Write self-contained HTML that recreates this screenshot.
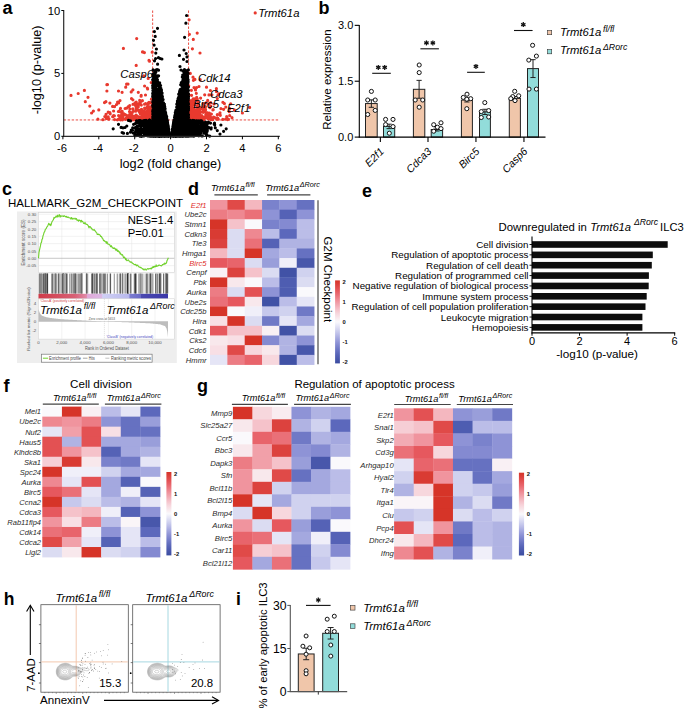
<!DOCTYPE html><html><head><meta charset="utf-8"><style>html,body{margin:0;padding:0;background:#fff;}svg{display:block;} text{font-family:"Liberation Sans",sans-serif;}</style></head><body><svg width="685" height="712" viewBox="0 0 685 712" font-family="Liberation Sans, sans-serif"><defs><linearGradient id="cbgrad" x1="0" y1="0" x2="0" y2="1"><stop offset="0.000" stop-color="#d63428"/><stop offset="0.050" stop-color="#dc423e"/><stop offset="0.100" stop-color="#e35153"/><stop offset="0.150" stop-color="#e8646b"/><stop offset="0.200" stop-color="#ec7c84"/><stop offset="0.250" stop-color="#f0949e"/><stop offset="0.300" stop-color="#f2abb4"/><stop offset="0.350" stop-color="#f5c2ca"/><stop offset="0.400" stop-color="#f7d7dd"/><stop offset="0.450" stop-color="#f8e8ec"/><stop offset="0.500" stop-color="#faf9fc"/><stop offset="0.550" stop-color="#e5e5f6"/><stop offset="0.600" stop-color="#d0d2ef"/><stop offset="0.650" stop-color="#bbbde8"/><stop offset="0.700" stop-color="#a4a8df"/><stop offset="0.750" stop-color="#8e93d6"/><stop offset="0.800" stop-color="#7a82cc"/><stop offset="0.850" stop-color="#6671c1"/><stop offset="0.900" stop-color="#5562b6"/><stop offset="0.950" stop-color="#4857ab"/><stop offset="1.000" stop-color="#3a4ca0"/></linearGradient><linearGradient id="gseabar" x1="0" y1="0" x2="1" y2="0"><stop offset="0" stop-color="#cf3a48"/><stop offset="0.28" stop-color="#d86075"/><stop offset="0.37" stop-color="#e08aa8"/><stop offset="0.376" stop-color="#e0a8d8"/><stop offset="0.49" stop-color="#dcb8e4"/><stop offset="0.495" stop-color="#d0d0f4"/><stop offset="0.70" stop-color="#b8b8ec"/><stop offset="0.705" stop-color="#7c7cd0"/><stop offset="0.79" stop-color="#6a6ac8"/><stop offset="0.795" stop-color="#4a48b0"/><stop offset="1" stop-color="#3a36a8"/></linearGradient></defs><rect width="685" height="712" fill="#fff"/><g stroke="#e8392e" stroke-width="0.9" stroke-dasharray="2.4,1.6">
<line x1="152.65" y1="10.50" x2="152.65" y2="136.30" stroke="#e8392e" stroke-width="0.9"/>
<line x1="188.55" y1="10.50" x2="188.55" y2="136.30" stroke="#e8392e" stroke-width="0.9"/>
<line x1="63.70" y1="119.95" x2="279.50" y2="119.95" stroke="#e8392e" stroke-width="0.9"/>
</g>
<path d="M149.8 117.3h0M150.7 113.5h0M139.9 101.2h0M143.1 115.9h0M142.9 115.2h0M108.2 112.2h0M147.9 116.4h0M138.7 116.9h0M104.8 116.6h0M120.9 112.1h0M150.8 118.5h0M139.4 112.1h0M145.1 117.8h0M142.2 118.9h0M145.8 104.0h0M151.6 116.2h0M143.8 119.4h0M141.6 111.8h0M139.7 100.3h0M148.1 108.9h0M150.5 113.2h0M152.5 107.3h0M106.7 117.3h0M152.1 118.6h0M141.2 101.3h0M112.6 106.4h0M149.3 110.8h0M146.2 119.5h0M134.9 116.4h0M146.2 116.4h0M150.4 115.8h0M126.4 118.7h0M146.6 117.0h0M151.8 118.3h0M113.6 115.5h0M144.2 118.8h0M131.2 91.9h0M149.2 116.6h0M132.9 108.9h0M152.1 113.3h0M150.3 119.4h0M127.3 118.1h0M145.9 118.7h0M138.5 118.2h0M130.3 118.7h0M110.2 113.8h0M137.1 105.2h0M122.5 119.8h0M149.7 119.5h0M149.5 109.4h0M133.7 119.0h0M145.5 111.6h0M141.2 95.4h0M117.6 102.0h0M142.3 118.0h0M150.2 114.7h0M144.7 118.8h0M108.7 119.2h0M122.3 119.0h0M147.4 119.8h0M112.7 116.7h0M148.4 119.8h0M143.9 119.0h0M146.2 118.6h0M147.3 119.3h0M138.9 119.1h0M136.1 103.8h0M150.6 102.7h0M146.4 117.6h0M142.4 100.7h0M132.3 115.6h0M150.1 113.9h0M144.4 119.4h0M129.7 114.3h0M134.6 103.7h0M138.6 116.8h0M136.1 115.2h0M150.2 119.8h0M132.7 119.8h0M134.1 117.5h0M149.2 116.4h0M140.3 113.7h0M106.8 117.5h0M150.3 115.9h0M148.2 114.6h0M150.6 111.8h0M131.5 114.7h0M149.2 117.8h0M136.3 110.4h0M149.8 117.1h0M151.3 119.9h0M137.9 118.6h0M120.0 100.6h0M144.9 114.5h0M152.6 118.3h0M145.1 119.2h0M102.9 119.7h0M139.0 117.0h0M149.7 118.6h0M143.3 117.7h0M121.8 114.5h0M134.8 116.1h0M108.2 116.9h0M150.9 115.3h0M138.7 117.9h0M144.6 104.2h0M126.6 118.0h0M150.3 118.5h0M125.0 114.8h0M152.2 117.9h0M151.6 113.5h0M140.2 110.1h0M142.6 113.2h0M146.5 119.4h0M118.6 103.0h0M149.3 112.3h0M131.4 119.7h0M127.3 116.3h0M149.6 114.2h0M121.1 115.5h0M106.3 118.5h0M127.2 118.7h0M109.9 103.1h0M147.7 110.7h0M148.8 119.6h0M152.1 111.7h0M152.1 114.5h0M142.3 118.9h0M139.5 117.7h0M122.5 118.4h0M141.0 104.7h0M126.3 118.2h0M133.1 118.5h0M109.0 118.8h0M151.5 115.5h0M141.9 115.9h0M144.4 119.8h0M130.5 113.0h0M147.1 107.2h0M146.6 119.0h0M150.5 119.7h0M134.3 119.8h0M150.9 110.0h0M132.9 119.3h0M145.5 95.0h0M118.6 115.6h0M135.2 102.9h0M142.6 114.8h0M131.2 117.0h0M141.2 113.5h0M147.3 88.0h0M150.1 107.2h0M149.8 115.2h0M118.4 111.5h0M139.2 118.0h0M144.6 118.3h0M142.9 113.1h0M152.0 118.3h0M104.5 102.6h0M147.9 111.6h0M125.1 108.5h0M142.2 119.5h0M136.6 115.7h0M143.6 111.0h0M146.5 116.1h0M113.6 111.0h0M126.1 118.1h0M143.7 115.9h0M114.4 115.8h0M148.2 104.2h0M148.5 118.8h0M148.8 116.9h0M144.1 117.8h0M129.5 111.6h0M149.6 107.9h0M114.6 119.6h0M125.3 114.7h0M145.6 103.7h0M97.9 119.2h0M120.5 119.8h0M142.8 118.8h0M151.6 113.2h0M151.0 119.0h0M142.9 116.1h0M132.0 119.6h0M135.5 105.5h0M121.7 114.5h0M148.4 102.8h0M127.0 115.6h0M144.4 118.7h0M126.5 108.2h0M151.8 119.8h0M146.0 117.3h0M127.0 118.7h0M129.8 108.8h0M145.2 113.1h0M149.9 108.3h0M119.2 111.0h0M151.2 110.3h0M136.2 102.1h0M129.7 105.5h0M152.1 116.8h0M146.6 115.0h0M145.8 118.2h0M139.8 103.5h0M138.0 105.2h0M145.6 119.2h0M139.2 111.6h0M127.4 116.3h0M141.3 105.1h0M148.3 118.9h0M149.2 115.2h0M128.4 106.5h0M149.1 117.1h0M148.7 113.5h0M118.7 119.2h0M136.1 110.1h0M149.8 112.6h0M125.7 119.3h0M137.6 119.4h0M130.5 118.0h0M149.3 119.5h0M152.2 105.2h0M131.5 119.5h0M141.9 117.1h0M146.0 112.9h0M144.1 115.1h0M114.6 106.6h0M145.0 108.7h0M147.9 104.4h0M129.7 116.1h0M109.9 112.6h0M150.4 112.6h0M152.3 109.9h0M132.3 112.4h0M143.6 116.1h0M120.5 108.4h0M138.2 119.9h0M132.9 99.8h0M143.9 115.7h0M151.1 118.4h0M123.6 113.6h0M138.3 106.7h0M116.5 104.5h0M132.1 117.4h0M122.2 111.4h0M133.0 111.4h0M152.2 119.3h0M136.3 119.2h0M133.1 118.3h0M151.4 99.2h0M152.2 117.7h0M144.2 111.5h0M151.1 118.9h0M148.8 113.9h0M105.9 101.7h0M152.6 119.1h0M137.4 119.7h0M144.6 117.2h0M149.0 102.4h0M141.6 109.3h0M147.6 88.9h0M117.4 119.8h0M135.7 111.2h0M137.6 105.6h0M149.6 107.2h0M141.1 96.2h0M145.6 118.2h0M138.6 103.8h0M149.3 114.9h0M133.0 104.3h0M146.8 117.1h0M135.7 118.1h0M152.2 119.2h0M144.6 108.1h0M122.8 116.7h0M150.7 109.4h0M151.2 82.5h0M128.7 118.0h0M150.0 118.9h0M119.9 117.7h0M137.6 109.5h0M149.0 117.3h0M147.5 116.1h0M122.3 118.7h0M123.5 118.8h0M139.7 117.2h0M148.2 118.5h0M131.5 98.6h0M149.7 118.3h0M140.4 119.3h0M136.2 107.8h0M189.0 115.9h0M213.7 117.2h0M188.9 115.8h0M197.3 109.3h0M195.5 119.5h0M199.8 112.3h0M196.4 115.4h0M190.0 115.6h0M190.1 103.3h0M204.1 117.3h0M201.5 116.9h0M200.0 116.4h0M203.5 111.8h0M192.5 100.0h0M194.4 110.1h0M189.2 112.1h0M189.8 100.7h0M192.2 114.2h0M191.2 113.9h0M190.3 119.1h0M191.0 108.2h0M201.9 118.2h0M197.7 116.0h0M191.2 118.5h0M197.7 119.5h0M192.2 103.6h0M196.7 97.4h0M192.2 110.9h0M206.6 114.6h0M196.0 113.6h0M207.9 114.0h0M191.4 114.7h0M196.6 114.7h0M193.0 104.8h0M198.4 119.5h0M189.6 106.4h0M193.4 80.3h0M191.4 105.5h0M189.7 117.9h0M217.3 114.8h0M191.2 118.0h0M206.5 117.0h0M190.9 115.5h0M199.2 109.9h0M203.0 117.2h0M190.2 112.4h0M195.1 110.7h0M191.0 106.1h0M194.6 103.1h0M193.1 98.9h0M222.9 102.3h0M197.0 105.7h0M189.2 110.2h0M194.4 118.2h0M194.7 111.4h0M207.7 100.4h0M210.1 115.0h0M194.9 117.8h0M202.2 117.7h0M201.9 119.4h0M190.2 115.3h0M200.4 115.3h0M212.8 119.6h0M210.8 119.6h0M194.4 114.8h0M194.0 115.5h0M206.3 113.3h0M192.9 116.6h0M211.3 117.6h0M190.2 115.1h0M189.3 111.3h0M194.8 116.8h0M199.3 114.4h0M189.7 119.6h0M210.4 90.5h0M193.7 118.5h0M196.0 117.2h0M197.0 105.5h0M222.8 119.4h0M216.6 118.6h0M227.5 119.6h0M193.6 100.5h0M199.5 114.0h0M203.1 103.7h0M193.5 103.8h0M203.3 117.2h0M210.0 116.9h0M194.1 113.4h0M198.4 104.0h0M213.2 109.7h0M200.9 108.6h0M201.1 112.1h0M192.1 114.6h0M195.5 89.9h0M193.2 116.9h0M209.0 94.9h0M199.3 108.0h0M190.0 112.4h0M189.3 109.0h0M207.4 114.6h0M201.8 115.6h0M191.6 115.9h0M205.5 106.7h0M191.5 117.0h0M191.2 114.8h0M189.6 119.8h0M194.0 104.9h0M194.7 118.2h0M191.4 90.3h0M218.3 119.2h0M193.0 112.2h0M197.7 112.6h0M209.9 107.7h0M197.4 115.5h0M190.1 112.2h0M208.3 117.5h0M189.6 109.2h0M189.3 105.5h0M194.0 117.8h0M192.9 101.6h0M203.4 106.4h0M194.2 117.0h0M192.0 117.3h0M198.1 118.0h0M217.7 118.1h0M205.9 116.2h0M191.3 112.3h0M191.6 95.3h0M199.6 107.2h0M204.2 107.9h0M195.6 118.3h0M196.8 116.6h0M194.5 110.1h0M205.2 108.2h0M217.3 114.7h0M206.0 102.9h0M194.1 108.8h0M189.7 113.9h0M195.0 116.3h0M230.7 103.8h0M215.5 117.8h0M192.9 118.3h0M193.7 112.2h0M229.7 115.5h0M203.2 110.6h0M190.6 117.7h0M202.5 118.6h0M199.1 118.8h0M188.7 85.7h0M194.0 109.1h0M203.3 108.9h0M218.8 93.9h0M194.1 119.2h0M229.3 111.7h0M223.6 109.3h0M200.4 117.9h0M198.1 117.5h0M225.8 107.1h0M189.6 119.1h0M202.4 119.5h0M228.4 119.2h0M197.2 99.2h0M194.6 98.9h0M199.8 118.7h0M212.9 110.0h0M199.6 112.5h0M189.2 118.6h0M192.5 117.9h0M214.0 104.0h0M205.7 117.8h0M193.1 119.6h0M200.6 98.1h0M220.3 115.3h0M211.4 114.0h0M188.6 116.8h0M219.9 114.1h0M199.8 110.1h0M191.9 118.6h0M194.7 115.2h0M207.7 112.8h0M195.2 119.2h0M189.8 117.6h0M198.5 119.1h0M190.3 114.9h0M191.7 113.2h0M210.4 116.8h0M188.8 116.7h0M190.3 113.5h0M189.9 112.9h0M188.7 107.3h0M199.4 110.2h0M199.0 86.5h0M199.3 118.3h0M191.9 115.2h0M190.9 111.0h0M207.9 117.7h0M190.2 115.4h0M196.6 114.2h0M210.9 118.1h0M189.1 106.5h0M226.7 116.5h0M203.5 106.2h0M193.2 117.3h0M197.6 118.8h0M197.5 101.6h0M203.7 119.9h0M198.0 117.8h0M190.2 114.1h0M190.6 112.3h0M194.2 113.2h0M226.8 119.0h0M191.0 117.7h0M192.8 101.3h0M191.7 111.0h0M196.1 116.9h0M203.0 111.7h0M208.6 104.1h0M232.0 117.7h0M209.2 116.4h0M191.8 118.9h0M195.6 117.6h0M206.2 117.1h0M191.3 118.3h0M203.2 112.3h0M199.6 116.9h0M205.9 114.3h0M209.4 113.2h0M206.6 112.5h0M192.4 119.2h0M192.1 104.4h0M202.8 108.3h0M191.8 111.9h0M195.4 117.4h0M191.1 117.5h0M191.7 115.0h0M196.2 115.4h0M197.1 114.6h0M197.4 109.7h0M192.8 104.9h0M191.6 100.9h0M191.9 119.4h0M190.5 114.2h0M198.1 117.2h0M220.0 112.8h0M204.0 111.6h0M197.4 112.2h0M196.7 118.9h0M210.8 106.2h0M203.0 118.5h0M193.0 119.9h0M198.7 114.3h0M194.0 87.6h0M192.9 108.2h0M198.5 112.6h0M194.5 109.7h0M194.1 119.8h0M196.3 93.3h0M208.1 118.7h0M216.6 119.1h0M189.5 111.5h0M197.8 112.9h0M206.7 116.2h0M191.0 118.2h0M195.0 118.8h0M193.2 118.0h0M196.4 87.7h0M202.8 118.5h0M210.7 102.7h0M205.8 114.8h0M197.0 111.2h0M196.9 107.0h0M189.0 95.1h0M205.6 109.8h0M197.3 99.1h0M195.5 113.9h0M197.8 112.1h0M218.0 95.0h0M189.6 116.4h0M216.4 88.7h0M198.0 117.9h0M225.7 119.0h0M189.0 112.0h0M195.3 115.5h0M188.8 109.1h0M192.1 115.5h0M194.5 117.5h0M188.9 112.5h0M191.5 115.1h0M189.0 108.1h0M71.0 95.4h0M78.2 93.5h0M84.4 90.4h0M85.3 101.7h0M88.0 97.3h0M89.8 106.1h0M93.4 111.1h0M106.9 84.7h0M106.9 91.0h0M98.8 109.9h0M91.6 113.0h0M106.0 114.3h0M126.6 84.1h0M143.7 75.9h0M148.2 78.4h0M144.6 86.0h0M138.3 92.3h0M118.5 91.0h0M122.1 92.3h0M125.7 87.2h0M132.9 89.8h0M117.6 102.3h0M190.3 73.4h0M193.0 77.2h0M200.2 79.7h0M206.5 87.2h0M211.9 94.8h0M217.3 98.6h0M216.4 91.6h0M204.7 94.8h0M229.8 108.6h0M234.3 109.9h0M242.4 113.0h0M249.6 107.4h0M224.4 103.6h0M220.9 108.6h0M136.7 38.6h0M123.4 48.4h0M142.5 51.9h0M144.4 52.6h0M149.5 61.2h0M136.2 65.4h0M107.5 84.6h0M128.0 84.1h0M152.2 52.2h0M149.0 60.4h0M143.3 52.2h0M189.1 19.8h0M189.4 34.3h0M197.2 33.1h0M193.3 39.4h0M192.4 48.8h0M200.0 53.0h0M194.9 79.4h0" stroke="#e8392e" stroke-width="3.2" stroke-linecap="round" fill="none"/>
<path d="M182.3 124.9h0M154.7 125.0h0M160.2 132.4h0M163.8 134.4h0M154.1 121.7h0M180.4 119.2h0M157.6 116.3h0M154.8 117.9h0M165.9 135.1h0M185.6 119.0h0M154.9 125.3h0M159.2 117.0h0M163.2 124.8h0M161.3 113.1h0M167.1 122.7h0M186.4 126.6h0M169.2 135.0h0M153.7 131.8h0M188.3 124.3h0M158.9 126.0h0M161.3 107.9h0M172.8 129.3h0M163.5 109.5h0M175.4 113.1h0M162.2 106.2h0M164.6 125.1h0M179.5 126.0h0M176.8 126.0h0M188.3 98.6h0M166.0 135.9h0M174.5 135.5h0M185.2 130.7h0M159.3 102.8h0M159.2 134.5h0M178.4 136.0h0M159.1 133.7h0M161.0 98.3h0M164.5 129.3h0M163.3 111.9h0M180.7 114.4h0M160.4 118.8h0M180.9 134.1h0M184.1 131.2h0M187.2 126.0h0M165.5 129.7h0M160.8 133.8h0M153.9 130.1h0M176.8 110.2h0M166.9 125.2h0M159.7 130.0h0M174.5 134.5h0M156.6 116.1h0M187.5 119.5h0M155.2 90.8h0M182.8 135.9h0M163.7 135.0h0M159.8 134.8h0M155.0 92.8h0M187.6 106.6h0M161.0 134.6h0M158.4 97.6h0M184.3 98.7h0M168.1 127.3h0M182.9 134.7h0M186.0 96.3h0M186.3 84.9h0M154.9 125.3h0M181.8 122.5h0M159.6 118.9h0M183.0 76.8h0M172.5 130.7h0M158.6 133.4h0M180.6 109.9h0M177.6 123.3h0M177.9 115.6h0M155.3 105.6h0M182.6 96.2h0M174.7 131.9h0M154.2 102.1h0M157.5 79.8h0M161.0 134.0h0M181.9 102.8h0M185.0 115.3h0M186.0 129.0h0M178.6 97.4h0M162.2 120.3h0M160.5 117.0h0M155.3 135.8h0M155.0 107.8h0M183.3 125.1h0M154.5 76.3h0M160.9 103.5h0M158.2 109.8h0M177.1 132.6h0M153.4 121.7h0M155.6 126.9h0M187.5 134.6h0M161.2 133.7h0M182.3 127.4h0M157.6 124.5h0M154.7 134.3h0M154.1 131.8h0M185.7 121.8h0M156.9 130.6h0M174.3 128.2h0M179.9 128.4h0M167.2 123.7h0M173.8 125.7h0M187.5 114.4h0M181.0 133.3h0M156.1 81.3h0M181.9 109.5h0M157.3 102.7h0M186.4 122.3h0M162.0 129.3h0M175.2 129.4h0M163.8 120.2h0M158.1 123.1h0M174.6 121.7h0M152.8 121.5h0M156.9 123.6h0M184.4 85.9h0M160.6 130.4h0M187.1 128.5h0M175.6 122.3h0M153.6 118.1h0M152.9 113.4h0M176.3 132.2h0M178.8 129.0h0M156.8 134.2h0M156.5 100.3h0M154.1 113.5h0M161.3 127.4h0M154.5 121.7h0M154.7 122.1h0M184.7 131.3h0M182.4 92.3h0M160.3 94.5h0M161.1 95.1h0M173.6 133.6h0M186.0 134.4h0M156.7 121.5h0M157.2 126.6h0M181.8 134.4h0M152.9 90.6h0M184.0 113.3h0M157.0 123.1h0M158.5 105.7h0M181.5 135.6h0M165.8 133.3h0M175.0 132.7h0M160.1 86.9h0M157.6 133.6h0M180.5 109.0h0M162.1 125.8h0M166.8 119.0h0M179.7 101.2h0M162.0 127.9h0M165.3 118.8h0M174.2 128.9h0M177.2 120.4h0M161.1 105.5h0M185.9 110.6h0M177.9 133.6h0M185.8 108.8h0M175.6 131.9h0M174.4 129.5h0M179.6 92.3h0M186.3 81.7h0M161.8 131.7h0M180.0 121.9h0M184.7 116.9h0M158.7 135.9h0M161.8 130.7h0M156.8 109.3h0M176.5 134.3h0M159.4 121.2h0M155.1 117.1h0M157.2 121.3h0M187.7 127.1h0M176.3 124.3h0M183.0 121.6h0M184.6 81.5h0M179.9 119.1h0M178.0 123.8h0M155.8 115.7h0M165.0 136.0h0M180.7 117.4h0M177.5 135.3h0M188.4 135.3h0M187.1 134.9h0M162.1 112.3h0M173.6 135.4h0M153.3 133.4h0M176.2 118.8h0M164.4 124.8h0M175.6 128.0h0M183.8 125.3h0M183.8 119.0h0M156.4 127.8h0M154.3 78.7h0M181.5 123.9h0M184.3 107.4h0M158.5 130.2h0M155.8 117.4h0M155.8 79.0h0M162.4 96.5h0M164.7 136.1h0M176.2 117.9h0M167.8 134.9h0M183.5 121.2h0M179.3 123.8h0M156.4 128.4h0M158.9 105.7h0M185.0 125.2h0M181.5 105.0h0M156.2 129.8h0M161.9 125.8h0M162.4 124.6h0M182.4 125.6h0M156.0 129.6h0M154.0 129.3h0M182.2 113.9h0M175.1 130.0h0M161.5 116.1h0M180.2 129.0h0M185.8 125.4h0M164.1 124.7h0M155.3 134.6h0M179.6 127.8h0M185.6 106.3h0M157.8 106.2h0M184.9 132.6h0M161.5 104.8h0M158.6 121.5h0M155.1 116.4h0M162.2 119.8h0M163.7 128.6h0M161.3 93.0h0M185.7 134.4h0M176.4 131.0h0M181.4 109.0h0M160.2 105.2h0M159.1 123.5h0M187.5 113.1h0M188.4 109.6h0M154.6 100.1h0M153.0 94.9h0M156.6 122.3h0M161.1 126.0h0M175.3 131.0h0M179.8 114.6h0M163.1 125.9h0M184.8 124.3h0M155.5 116.6h0M154.7 90.4h0M153.8 119.7h0M176.2 129.2h0M176.5 131.7h0M163.3 119.3h0M183.0 93.9h0M187.8 117.7h0M183.3 100.1h0M158.3 89.9h0M164.0 123.9h0M174.8 131.7h0M155.2 106.4h0M162.7 116.1h0M187.7 97.2h0M155.8 106.2h0M155.9 126.2h0M154.6 130.6h0M188.5 117.2h0M166.6 122.6h0M155.4 136.3h0M178.1 103.7h0M182.3 118.3h0M176.4 114.0h0M166.0 135.9h0M180.6 89.4h0M181.6 131.9h0M186.0 133.1h0M179.6 129.1h0M165.3 115.5h0M176.7 114.4h0M155.8 115.0h0M174.9 116.3h0M182.0 112.8h0M160.1 120.6h0M154.2 99.7h0M180.7 92.6h0M186.7 84.0h0M157.9 109.8h0M165.2 130.7h0M187.8 128.8h0M180.2 112.0h0M166.7 134.5h0M158.4 133.6h0M179.2 132.6h0M165.5 119.3h0M188.4 135.7h0M174.4 126.4h0M159.7 86.9h0M186.5 108.8h0M153.7 123.9h0M183.9 111.8h0M156.5 106.9h0M175.9 130.6h0M176.4 116.5h0M178.1 132.0h0M156.8 103.4h0M181.6 130.8h0M161.7 121.3h0M163.9 120.2h0M166.8 120.5h0M178.1 108.0h0M184.5 120.1h0M186.6 134.5h0M165.7 124.6h0M159.2 131.2h0M178.3 120.8h0M164.9 118.9h0M154.2 129.9h0M160.3 109.5h0M159.6 132.4h0M161.2 124.9h0M183.7 129.4h0M157.4 118.3h0M161.8 133.0h0M178.9 133.4h0M181.1 132.7h0M153.7 131.0h0M166.0 116.9h0M160.0 126.6h0M180.1 124.3h0M182.4 110.0h0M187.1 101.9h0M162.6 103.4h0M184.4 91.8h0M167.7 126.0h0M182.8 129.7h0M183.7 111.5h0M153.8 95.9h0M179.9 133.8h0M165.9 124.1h0M157.3 121.4h0M188.5 96.3h0M158.4 98.3h0M156.5 131.6h0M161.0 92.2h0M181.3 133.8h0M176.2 136.3h0M174.9 135.8h0M186.9 93.7h0M157.4 133.4h0M172.2 135.4h0M181.0 129.4h0M160.5 96.5h0M186.1 132.2h0M162.1 93.0h0M163.5 121.9h0M179.4 116.5h0M184.4 74.9h0M177.4 112.7h0M176.1 126.2h0M183.8 133.9h0M176.4 132.5h0M159.9 106.8h0M177.9 119.5h0M160.4 93.7h0M158.0 130.2h0M166.5 124.6h0M174.5 122.0h0M160.7 121.8h0M152.8 132.9h0M163.8 131.0h0M154.2 132.4h0M187.5 117.9h0M154.3 136.2h0M181.7 132.6h0M160.4 129.0h0M159.5 122.6h0M155.7 119.3h0M178.1 118.6h0M163.1 121.3h0M181.7 130.6h0M165.1 130.6h0M154.3 120.3h0M182.8 128.9h0M183.0 105.3h0M163.1 99.6h0M156.4 91.4h0M175.4 117.9h0M177.5 135.5h0M158.5 108.9h0M177.3 127.3h0M186.5 114.2h0M179.2 135.1h0M156.3 113.7h0M156.4 133.7h0M161.2 133.4h0M162.2 136.2h0M181.6 134.5h0M166.7 125.9h0M156.2 114.8h0M166.5 129.7h0M166.5 126.1h0M162.6 127.8h0M162.2 135.5h0M157.9 111.1h0M161.4 124.6h0M155.8 127.2h0M163.8 126.1h0M180.0 124.0h0M182.3 109.4h0M154.4 114.8h0M160.7 121.6h0M180.4 114.1h0M182.2 118.0h0M158.7 122.8h0M162.4 130.4h0M155.3 111.7h0M155.8 108.9h0M177.6 135.9h0M186.5 125.0h0M156.0 128.9h0M182.7 129.5h0M166.6 135.5h0M177.4 135.7h0M184.3 124.0h0M180.3 129.2h0M175.8 133.3h0M160.3 121.9h0M154.6 127.1h0M162.6 134.3h0M186.2 133.4h0M186.0 120.6h0M165.3 115.9h0M161.6 120.9h0M153.4 77.7h0M179.8 107.4h0M180.6 133.9h0M178.6 127.2h0M178.6 113.4h0M185.1 132.0h0M162.7 115.7h0M153.7 110.7h0M177.8 124.0h0M175.5 113.6h0M187.2 133.9h0M179.0 130.3h0M178.8 124.4h0M172.4 134.9h0M184.6 94.3h0M187.3 104.4h0M178.8 127.1h0M157.2 135.7h0M184.2 108.4h0M165.8 118.4h0M187.3 102.9h0M155.8 72.3h0M179.1 114.6h0M153.0 127.9h0M178.6 118.8h0M162.6 114.8h0M152.8 87.0h0M160.4 131.1h0M182.8 117.8h0M166.8 130.5h0M184.4 129.2h0M153.1 114.4h0M182.7 133.0h0M180.5 105.5h0M184.8 130.0h0M176.8 131.2h0M153.7 113.2h0M152.8 96.7h0M181.9 95.4h0M157.1 122.7h0M186.5 133.0h0M176.5 135.3h0M183.1 130.8h0M180.1 112.6h0M161.0 99.7h0M160.6 120.5h0M154.8 117.9h0M178.7 133.8h0M165.5 131.3h0M156.9 124.3h0M177.3 130.4h0M160.6 117.5h0M157.1 135.4h0M180.4 97.7h0M152.7 111.5h0M187.2 126.5h0M173.3 132.8h0M186.8 105.9h0M184.4 131.5h0M188.3 108.9h0M178.3 115.1h0M162.6 105.9h0M183.8 102.4h0M158.1 96.2h0M168.3 128.9h0M179.4 130.3h0M180.6 131.4h0M158.7 121.2h0M186.9 135.0h0M174.9 115.4h0M152.7 123.8h0M173.6 126.4h0M159.4 105.3h0M182.7 131.7h0M153.5 130.2h0M155.0 125.3h0M168.7 132.7h0M184.1 121.7h0M185.0 127.9h0M161.1 135.1h0M178.4 135.1h0M186.3 105.0h0M155.5 126.7h0M184.7 84.4h0M154.0 130.9h0M174.3 136.1h0M179.2 127.0h0M181.4 104.9h0M177.7 128.1h0M162.7 119.3h0M162.4 110.8h0M157.0 121.4h0M175.6 128.2h0M161.1 128.2h0M167.2 126.7h0M159.5 129.0h0M166.3 135.9h0M177.5 109.8h0M153.2 125.7h0M155.7 123.2h0M177.7 104.7h0M157.3 80.6h0M158.1 107.9h0M182.9 133.3h0M180.0 90.6h0M187.2 95.1h0M158.7 123.0h0M184.5 133.9h0M180.9 125.5h0M161.5 123.2h0M174.2 122.6h0M158.4 125.1h0M181.8 85.7h0M177.2 128.8h0M180.3 132.4h0M188.1 135.3h0M165.8 134.1h0M186.4 102.9h0M186.5 135.0h0M185.7 130.9h0M172.4 131.9h0M164.0 132.2h0M181.6 134.9h0M179.1 96.8h0M154.9 99.9h0M178.6 106.2h0M178.1 132.6h0M183.6 77.7h0M175.3 133.9h0M183.6 135.7h0M161.3 92.5h0M162.3 122.0h0M188.5 120.8h0M177.9 136.0h0M153.2 101.2h0M163.3 113.9h0M159.1 132.7h0M174.1 133.7h0M161.3 118.5h0M168.3 136.1h0M180.7 111.2h0M162.3 108.6h0M180.9 117.5h0M166.2 130.1h0M183.9 82.7h0M182.2 131.2h0M154.5 133.8h0M181.6 115.0h0M156.3 127.0h0M174.4 125.1h0M182.4 128.7h0M157.2 129.8h0M178.5 136.0h0M163.4 127.0h0M154.2 103.9h0M165.6 121.4h0M178.4 134.6h0M182.1 135.7h0M154.0 104.4h0M179.4 124.3h0M160.0 123.0h0M188.4 69.9h0M164.0 125.6h0M180.0 135.0h0M153.4 106.8h0M186.2 123.3h0M155.8 134.4h0M183.2 132.9h0M188.2 115.8h0M177.9 108.1h0M178.7 133.1h0M153.4 81.7h0M161.9 134.1h0M163.7 108.0h0M165.0 135.0h0M178.7 122.9h0M179.6 107.9h0M188.4 124.4h0M167.1 132.8h0M162.3 100.4h0M159.4 133.4h0M158.2 126.5h0M168.0 126.2h0M178.1 106.2h0M159.9 133.1h0M160.0 126.5h0M163.1 127.0h0M174.5 130.6h0M160.3 128.8h0M159.4 120.5h0M178.1 126.8h0M173.8 131.6h0M183.5 127.1h0M167.0 125.0h0M178.9 132.9h0M164.3 126.7h0M175.8 112.7h0M177.4 123.8h0M160.3 111.4h0M159.1 136.2h0M182.7 127.7h0M161.2 101.7h0M181.0 129.2h0M173.5 135.3h0M186.0 119.5h0M160.9 116.6h0M157.4 129.9h0M176.9 126.8h0M163.0 128.8h0M156.7 107.0h0M161.3 123.6h0M153.6 121.1h0M156.8 118.2h0M174.1 119.9h0M157.2 126.1h0M167.5 132.7h0M180.4 127.3h0M158.9 105.8h0M188.1 102.3h0M158.4 115.6h0M160.2 113.4h0M182.0 88.1h0M166.0 128.9h0M177.0 133.1h0M179.5 135.7h0M184.0 132.1h0M184.2 123.5h0M159.9 122.8h0M160.6 108.3h0M175.7 128.3h0M185.7 127.4h0M182.7 124.9h0M182.4 127.9h0M160.2 113.3h0M178.7 113.7h0M161.4 128.1h0M173.6 130.7h0M184.5 127.4h0M161.2 91.3h0M183.8 90.9h0M165.8 133.9h0M159.0 114.8h0M157.4 135.6h0M161.9 121.2h0M188.1 125.1h0M163.2 105.4h0M175.9 131.6h0M156.3 133.9h0M187.9 93.0h0M187.8 127.8h0M186.3 118.6h0M162.8 134.1h0M178.0 121.8h0M182.0 129.9h0M178.1 123.8h0M153.3 106.5h0M161.1 97.2h0M158.7 118.6h0M183.9 121.9h0M179.9 129.4h0M182.6 116.4h0M161.8 124.9h0M185.1 82.0h0M161.8 95.4h0M153.6 120.2h0M168.7 129.5h0M178.7 132.2h0M162.3 97.5h0M161.9 133.4h0M154.4 114.5h0M157.2 125.5h0M179.5 122.2h0M153.6 87.4h0M160.1 126.1h0M165.6 114.0h0M177.4 133.6h0M164.0 131.6h0M188.1 79.8h0M180.7 84.7h0M188.5 106.4h0M159.9 85.2h0M158.6 75.8h0M163.3 129.6h0M165.5 126.2h0M158.7 114.3h0M168.3 136.3h0M182.2 102.5h0M162.0 131.6h0M182.3 130.6h0M161.8 122.4h0M157.2 85.8h0M176.7 133.2h0M153.9 131.6h0M183.3 131.2h0M158.3 119.2h0M176.4 132.5h0M156.2 122.9h0M155.3 115.1h0M156.3 134.8h0M167.2 125.3h0M162.2 127.6h0M165.8 127.1h0M185.5 128.5h0M156.4 91.5h0M155.2 124.1h0M168.9 135.3h0M165.3 125.9h0M154.5 132.0h0M157.8 85.7h0M157.0 133.4h0M166.5 132.3h0M186.0 95.9h0M184.6 127.7h0M154.6 133.3h0M156.6 111.9h0M165.3 129.4h0M181.3 130.3h0M158.2 109.2h0M165.2 134.7h0M152.8 88.2h0M163.2 133.0h0M185.5 129.7h0M188.5 128.2h0M176.7 124.5h0M184.8 135.8h0M162.7 121.5h0M156.7 132.7h0M182.7 75.0h0M158.3 106.0h0M164.7 124.5h0M188.1 132.9h0M182.8 130.6h0M178.9 114.3h0M174.8 132.9h0M182.6 125.7h0M153.9 128.7h0M157.4 114.9h0M182.3 124.4h0M187.8 109.0h0M159.0 131.2h0M161.0 113.5h0M174.5 117.3h0M181.7 120.8h0M184.3 114.5h0M182.1 130.4h0M177.6 135.2h0M166.7 135.1h0M161.1 130.1h0M173.4 130.1h0M161.3 106.1h0M159.0 125.8h0M181.2 123.6h0M183.6 129.1h0M185.8 87.1h0M152.9 105.6h0M186.0 114.5h0M154.8 105.0h0M160.9 133.9h0M185.6 135.4h0M183.5 124.3h0M155.3 85.4h0M176.8 133.0h0M159.5 97.6h0M185.6 118.5h0M164.7 117.9h0M180.0 125.5h0M187.1 107.3h0M186.1 82.1h0M157.0 131.5h0M166.5 135.9h0M158.4 131.3h0M182.5 113.9h0M157.0 124.4h0M156.7 116.6h0M153.7 128.7h0M187.8 129.8h0M187.3 74.3h0M175.9 134.1h0M167.6 135.0h0M156.2 124.2h0M187.6 129.9h0M163.1 131.1h0M188.0 128.5h0M187.9 122.2h0M187.4 131.7h0M180.5 89.4h0M184.1 125.6h0M160.5 119.6h0M164.3 122.1h0M177.4 118.3h0M183.8 107.1h0M155.7 130.4h0M181.8 113.2h0M183.2 79.1h0M161.9 94.9h0M180.0 136.3h0M188.5 98.0h0M185.1 120.2h0M180.0 104.5h0M157.2 135.4h0M182.0 131.0h0M173.0 136.0h0M157.3 111.6h0M187.6 78.3h0M153.4 97.2h0M173.1 128.6h0M154.2 110.9h0M185.4 130.7h0M179.4 125.1h0M161.4 132.0h0M180.7 117.9h0M175.9 117.9h0M182.6 117.8h0M182.2 114.9h0M161.8 95.3h0M184.5 129.7h0M157.6 125.5h0M175.7 119.0h0M180.2 120.7h0M161.2 128.3h0M177.9 118.4h0M187.9 129.6h0M159.2 135.1h0M182.1 102.0h0M183.5 110.4h0M183.8 130.7h0M152.8 121.5h0M157.6 109.9h0M182.0 130.2h0M187.4 128.8h0M179.2 115.8h0M164.7 115.0h0M181.9 124.7h0M187.9 120.4h0M167.1 125.6h0M184.0 129.6h0M181.8 103.0h0M159.2 133.3h0M180.2 121.7h0M163.5 133.3h0M168.6 131.9h0M166.2 117.2h0M160.4 130.5h0M179.3 115.6h0M184.1 131.8h0M154.4 128.5h0M155.7 101.0h0M185.9 125.3h0M152.8 118.6h0M183.1 121.3h0M188.0 133.2h0M153.9 107.0h0M153.5 103.1h0M183.0 124.2h0M154.4 131.7h0M174.5 124.0h0M165.1 112.4h0M156.4 108.8h0M172.6 134.4h0M182.6 109.2h0M167.5 135.1h0M185.2 91.1h0M174.6 135.5h0M156.1 135.3h0M179.6 120.8h0M187.4 136.2h0M172.6 130.6h0M165.1 126.1h0M186.2 134.0h0M177.9 115.0h0M182.3 114.1h0M181.5 104.3h0M159.3 124.4h0M177.7 130.0h0M185.4 135.7h0M176.0 130.0h0M185.4 114.1h0M160.5 134.5h0M152.7 96.2h0M176.4 134.8h0M181.9 121.5h0M177.0 135.6h0M152.8 134.8h0M154.6 98.3h0M188.4 125.1h0M158.7 119.4h0M177.0 119.8h0M179.2 110.5h0M180.0 131.7h0M155.8 88.2h0M157.8 131.6h0M178.2 118.8h0M153.3 128.6h0M165.6 132.5h0M164.4 109.5h0M156.1 111.9h0M185.2 117.3h0M188.4 116.8h0M186.3 92.6h0M157.7 117.3h0M181.5 98.4h0M183.5 127.0h0M153.1 123.4h0M162.7 119.4h0M165.2 115.1h0M160.5 113.9h0M183.8 115.4h0M157.8 84.7h0M180.5 135.2h0M164.6 133.8h0M188.3 135.8h0M161.1 120.9h0M168.9 132.0h0M160.0 125.1h0M154.7 134.8h0M162.4 133.7h0M156.6 101.2h0M155.9 109.3h0M174.0 128.1h0M168.5 133.0h0M158.0 131.1h0M172.7 134.6h0M153.7 118.9h0M163.3 119.4h0M166.9 132.3h0M160.2 134.9h0M181.4 132.8h0M161.8 126.4h0M160.4 127.0h0M155.7 135.8h0M185.6 125.9h0M163.6 129.8h0M185.5 133.0h0M160.1 87.5h0M163.5 130.5h0M155.2 110.1h0M186.8 117.6h0M163.5 108.9h0M187.0 110.8h0M184.3 119.4h0M156.2 101.8h0M160.3 130.6h0M156.0 133.6h0M158.7 125.5h0M158.5 128.9h0M157.6 130.4h0M162.4 130.6h0M178.2 121.6h0M161.8 120.9h0M183.7 134.0h0M159.6 117.0h0M157.1 135.0h0M179.0 105.8h0M187.9 99.6h0M159.2 130.4h0M184.7 129.2h0M157.9 121.7h0M158.9 133.8h0M154.8 126.0h0M157.0 120.3h0M153.6 127.6h0M186.1 124.7h0M186.6 121.3h0M159.7 82.9h0M166.0 124.1h0M179.6 100.2h0M182.4 133.7h0M183.3 89.0h0M156.8 95.7h0M185.4 98.8h0M185.2 129.9h0M173.5 124.4h0M158.0 100.2h0M166.5 122.8h0M162.1 127.9h0M180.3 106.6h0M180.8 118.6h0M187.4 126.8h0M186.1 86.3h0M174.0 134.7h0M153.2 121.9h0M158.8 125.2h0M185.4 118.9h0M179.4 116.5h0M160.2 94.9h0M166.4 136.2h0M166.7 133.6h0M176.6 120.5h0M158.3 125.2h0M167.8 130.1h0M166.7 125.9h0M161.6 128.7h0M153.6 103.0h0M178.4 124.3h0M158.1 131.9h0M175.9 126.0h0M179.4 118.1h0M154.4 92.2h0M180.0 104.3h0M181.8 130.9h0M184.6 97.1h0M180.6 109.4h0M153.3 98.0h0M165.8 124.5h0M176.7 131.3h0M183.6 123.4h0M167.6 132.1h0M176.4 118.7h0M183.5 126.4h0M154.5 90.6h0M180.0 116.6h0M162.9 120.8h0M159.1 101.3h0M163.2 130.8h0M184.5 70.5h0M157.5 119.4h0M183.5 122.0h0M158.6 107.9h0M182.2 96.7h0M187.2 82.4h0M180.7 105.4h0M182.9 135.7h0M173.7 123.4h0M155.9 134.8h0M180.4 131.1h0M173.2 129.0h0M163.6 125.4h0M153.8 127.9h0M155.6 133.8h0M157.9 132.6h0M182.7 132.6h0M154.0 120.0h0M184.4 109.5h0M163.6 133.6h0M181.3 133.1h0M185.8 105.4h0M166.6 134.5h0M188.2 99.0h0M166.6 134.0h0M178.5 120.6h0M177.9 134.2h0M159.9 136.3h0M181.4 91.9h0M156.1 130.4h0M159.6 126.2h0M167.3 125.8h0M164.6 115.1h0M182.8 119.2h0M188.4 136.2h0M181.6 117.7h0M184.8 132.6h0M158.6 84.1h0M161.1 127.7h0M157.2 90.9h0M180.3 91.3h0M185.0 116.6h0M180.7 125.5h0M186.2 108.0h0M177.6 113.7h0M153.6 120.7h0M155.6 93.8h0M177.6 102.0h0M166.8 131.5h0M183.7 135.2h0M176.0 128.6h0M156.3 136.0h0M155.4 132.4h0M178.9 132.1h0M185.5 108.7h0M160.8 135.5h0M185.7 124.3h0M181.1 85.0h0M153.2 119.0h0M152.8 132.8h0M182.4 86.2h0M180.1 129.5h0M154.2 132.0h0M177.0 135.3h0M159.4 105.3h0M155.0 119.2h0M179.8 126.3h0M159.8 125.4h0M177.4 129.4h0M182.2 126.7h0M160.7 127.6h0M181.0 128.6h0M158.5 134.5h0M163.4 129.7h0M155.6 131.2h0M165.2 111.3h0M159.4 125.2h0M179.8 126.0h0M178.8 134.4h0M155.5 123.1h0M159.5 115.2h0M154.5 102.5h0M164.7 119.0h0M182.8 80.4h0M184.8 133.4h0M182.9 134.0h0M175.8 136.2h0M186.5 96.5h0M185.2 75.3h0M164.7 111.5h0M180.3 135.7h0M182.1 132.8h0M181.7 84.8h0M159.6 133.8h0M178.9 132.5h0M176.0 122.3h0M153.1 83.1h0M178.3 113.1h0M179.8 118.7h0M168.3 129.2h0M152.7 85.4h0M164.8 116.0h0M187.4 107.2h0M180.9 121.3h0M182.0 112.5h0M182.8 108.8h0M186.2 77.5h0M177.7 110.7h0M164.8 131.8h0M188.1 79.8h0M154.5 100.7h0M153.3 95.9h0M172.8 135.5h0M182.0 135.4h0M180.1 99.9h0M160.7 114.0h0M181.1 109.3h0M176.9 124.6h0M155.2 125.3h0M152.8 133.1h0M179.0 102.3h0M157.1 103.9h0M166.0 115.0h0M183.9 111.5h0M182.9 134.7h0M165.5 115.7h0M157.7 115.5h0M187.5 75.7h0M167.7 124.7h0M184.7 98.8h0M183.0 135.1h0M152.8 117.8h0M154.9 100.2h0M187.1 124.6h0M183.0 113.0h0M181.8 135.1h0M157.3 130.2h0M156.1 120.1h0M180.8 134.5h0M160.2 105.7h0M178.9 120.1h0M177.2 136.0h0M186.4 128.5h0M180.4 113.7h0M163.5 128.2h0M155.2 98.3h0M164.1 128.3h0M152.8 101.7h0M178.5 103.3h0M176.5 118.8h0M178.1 122.8h0M167.0 127.1h0M176.4 130.6h0M160.9 124.9h0M187.8 94.8h0M158.4 92.5h0M159.5 123.9h0M156.8 131.5h0M178.8 103.4h0M183.4 99.6h0M165.4 113.6h0M155.2 87.3h0M175.9 128.8h0M156.0 128.8h0M181.7 126.2h0M185.5 98.7h0M185.2 128.2h0M153.9 132.0h0M187.2 73.9h0M166.4 135.1h0M180.1 113.2h0M157.0 77.5h0M169.2 134.6h0M182.1 133.0h0M187.9 127.6h0M176.0 129.4h0M168.9 134.3h0M174.7 131.0h0M154.7 114.4h0M175.2 131.0h0M187.9 89.6h0M162.8 135.3h0M164.0 135.0h0M153.9 136.3h0M178.5 98.3h0M154.8 131.1h0M159.9 134.4h0M173.8 133.8h0M175.4 125.4h0M180.4 103.5h0M156.5 121.8h0M162.7 113.9h0M154.9 133.8h0M175.5 121.1h0M167.2 126.1h0M182.8 135.3h0M158.5 96.1h0M156.8 132.8h0M180.5 131.1h0M184.2 105.6h0M153.3 126.1h0M174.5 133.5h0M155.2 116.8h0M181.1 119.7h0M167.2 123.5h0M186.2 114.7h0M180.7 95.2h0M154.7 103.0h0M176.3 129.1h0M158.9 109.0h0M179.9 129.8h0M187.2 109.6h0M159.3 129.5h0M182.2 121.0h0M174.8 124.6h0M164.2 124.0h0M183.0 100.1h0M153.2 106.3h0M160.8 120.4h0M156.1 114.8h0M173.4 133.9h0M167.3 134.1h0M154.4 118.5h0M153.5 103.8h0M163.2 135.9h0M153.2 101.2h0M173.2 130.6h0M153.6 126.4h0M177.0 124.3h0M185.5 135.8h0M172.2 133.1h0M182.7 131.0h0M183.2 111.7h0M161.6 109.4h0M158.8 94.3h0M183.2 130.7h0M155.4 111.3h0M167.0 131.1h0M157.5 93.6h0M153.6 127.8h0M153.5 118.8h0M179.3 119.8h0M178.8 118.8h0M155.4 98.6h0M162.6 115.7h0M186.4 125.6h0M158.1 122.5h0M158.3 114.9h0M182.2 129.8h0M188.1 95.2h0M178.8 135.9h0M153.2 124.3h0M156.6 114.0h0M158.0 136.2h0M176.6 122.3h0M175.9 124.3h0M182.0 122.3h0M183.5 111.4h0M158.6 118.2h0M179.0 129.9h0M154.1 123.5h0M175.5 128.0h0M162.0 122.5h0M166.7 127.1h0M156.3 129.1h0M182.0 107.5h0M183.7 118.8h0M158.3 115.5h0M157.2 99.2h0M188.1 125.8h0M181.2 110.6h0M168.2 129.6h0M157.0 132.6h0M177.7 120.5h0M154.8 134.5h0M177.2 121.3h0M156.0 134.8h0M182.0 99.8h0M179.4 97.8h0M176.8 104.2h0M187.9 128.9h0M159.8 128.4h0M182.1 88.8h0M165.8 129.9h0M176.4 131.9h0M178.6 118.9h0M153.5 117.3h0M188.2 131.2h0M180.2 127.9h0M188.5 123.3h0M188.5 127.2h0M182.4 126.6h0M153.3 120.8h0M152.8 134.5h0M186.8 122.2h0M187.6 70.5h0M161.1 134.2h0M183.9 128.8h0M160.3 129.2h0M153.8 119.4h0M161.8 124.1h0M161.0 126.2h0M180.7 132.1h0M158.8 130.3h0M175.3 118.4h0M157.0 123.0h0M187.5 136.1h0M188.5 110.1h0M160.5 131.1h0M164.5 122.9h0M152.8 110.7h0M168.5 134.1h0M177.0 132.2h0M160.7 128.8h0M181.9 125.2h0M161.5 107.2h0M162.4 99.4h0M181.8 132.4h0M178.4 136.2h0M172.5 130.7h0M179.5 130.5h0M179.8 114.3h0M180.2 101.1h0M160.9 136.2h0M182.6 124.7h0M177.5 136.0h0M182.9 112.6h0M175.7 121.2h0M185.3 118.8h0M185.1 80.5h0M158.3 133.1h0M154.9 126.8h0M181.7 133.5h0M173.0 127.6h0M175.5 115.8h0M165.1 135.0h0M167.6 124.5h0M164.3 122.2h0M180.1 108.6h0M183.4 124.7h0M186.3 126.3h0M152.8 96.2h0M175.3 119.7h0M182.7 130.9h0M160.3 118.7h0M154.1 132.7h0M182.0 95.4h0M166.4 123.0h0M186.4 108.8h0M180.6 125.1h0M186.1 129.2h0M185.6 131.3h0M172.9 127.8h0M158.6 116.4h0M152.7 134.8h0M161.0 106.7h0M177.2 116.2h0M157.9 128.2h0M187.7 92.6h0M178.2 131.5h0M187.7 115.7h0M173.5 130.7h0M161.5 124.0h0M154.3 120.4h0M156.1 122.4h0M188.0 119.0h0M187.7 135.4h0M154.6 131.4h0M184.0 99.9h0M163.2 119.9h0M158.8 128.1h0M178.6 110.3h0M181.0 135.8h0M178.8 103.9h0M179.2 116.0h0M156.1 110.6h0M154.6 79.0h0M173.9 134.5h0M179.4 127.1h0M164.3 129.5h0M174.7 126.7h0M165.5 130.5h0M185.8 96.4h0M188.0 90.1h0M161.1 132.8h0M178.5 127.7h0M156.5 136.2h0M164.7 106.4h0M176.9 117.4h0M182.8 131.2h0M156.0 120.1h0M177.9 130.3h0M164.1 128.2h0M184.6 103.5h0M155.7 103.7h0M183.7 117.9h0M175.9 129.5h0M160.6 113.9h0M187.6 115.2h0M174.5 134.7h0M179.8 133.0h0M167.8 127.5h0M155.1 127.0h0M158.7 116.2h0M181.8 112.8h0M156.3 121.5h0M176.4 124.0h0M157.2 125.3h0M181.7 136.2h0M178.2 124.0h0M178.5 122.4h0M161.8 124.4h0M185.4 127.1h0M153.4 121.5h0M185.8 120.0h0M187.1 134.4h0M178.0 116.2h0M163.8 123.6h0M155.8 113.3h0M187.5 70.6h0M185.8 111.3h0M185.0 127.3h0M180.1 135.8h0M155.3 92.9h0M183.6 99.0h0M183.2 134.7h0M167.8 129.9h0M187.3 129.1h0M174.3 122.6h0M163.6 116.4h0M181.0 132.5h0M180.2 131.8h0M165.9 132.4h0M161.4 92.1h0M187.8 130.8h0M159.6 86.8h0M181.6 116.5h0M157.0 76.8h0M157.4 110.3h0M163.7 132.5h0M156.9 106.1h0M157.9 111.7h0M166.0 127.2h0M185.1 130.7h0M178.3 113.5h0M174.9 136.1h0M185.9 101.6h0M185.7 111.3h0M161.1 133.0h0M153.1 69.9h0M185.2 120.2h0M188.2 123.1h0M176.2 126.3h0M187.8 119.6h0M181.3 125.4h0M180.2 108.4h0M153.2 118.1h0M183.5 132.8h0M187.7 77.0h0M158.7 89.7h0M167.5 129.0h0M177.2 107.2h0M182.3 77.0h0M161.5 103.5h0M161.0 127.9h0M158.9 135.8h0M160.6 123.6h0M164.6 129.4h0M178.3 120.3h0M184.2 119.7h0M179.8 132.3h0M178.7 110.5h0M183.3 106.0h0M181.2 106.6h0M165.9 128.1h0M185.9 89.0h0M183.0 109.3h0M162.9 128.4h0M179.0 131.1h0M172.6 129.6h0M185.3 127.3h0M187.6 100.8h0M157.6 124.2h0M152.7 79.6h0M165.0 114.9h0M159.2 111.2h0M188.0 82.5h0M156.1 134.5h0M156.8 107.5h0M183.0 119.1h0M163.1 125.6h0M166.1 126.7h0M153.8 134.2h0M159.1 131.2h0M162.2 126.7h0M153.4 120.9h0M155.0 119.0h0M158.5 134.6h0M155.5 85.5h0M175.5 127.1h0M166.8 134.9h0M185.5 123.4h0M176.0 113.4h0M162.1 133.4h0M154.0 134.4h0M187.9 113.8h0M182.6 132.5h0M159.6 132.6h0M167.2 120.2h0M168.4 131.1h0M154.5 98.0h0M185.0 106.8h0M163.4 121.1h0M177.8 123.8h0M165.6 119.9h0M157.8 76.0h0M161.0 125.9h0M167.4 129.3h0M173.4 124.0h0M184.6 129.1h0M183.8 95.4h0M156.2 128.1h0M184.8 128.1h0M186.5 105.3h0M184.2 134.0h0M155.5 124.0h0M187.4 119.1h0M185.3 114.0h0M185.2 88.9h0M187.8 121.9h0M173.5 131.2h0M178.7 131.6h0M175.5 136.3h0M184.7 123.3h0M183.7 134.1h0M158.6 134.5h0M181.6 123.0h0M186.3 130.6h0M152.7 105.4h0M162.7 135.6h0M154.0 119.3h0M157.7 112.1h0M168.4 135.0h0M185.3 118.3h0M162.6 123.1h0M152.9 106.7h0M181.2 101.4h0M186.9 77.2h0M187.9 129.6h0M182.1 130.6h0M174.0 127.6h0M154.9 114.5h0M178.4 98.3h0M159.5 127.9h0M186.6 135.8h0M154.0 133.3h0M155.4 122.9h0M152.7 121.4h0M157.6 106.9h0M175.6 119.1h0M164.3 112.0h0M175.2 135.1h0M158.2 120.2h0M153.2 116.7h0M156.8 122.7h0M156.8 100.9h0M183.1 77.5h0M152.8 131.8h0M155.1 136.0h0M158.8 126.0h0M159.9 130.4h0M157.3 134.1h0M166.8 126.6h0M187.0 135.2h0M187.6 116.3h0M158.5 109.4h0M160.4 111.1h0M178.1 135.7h0M158.6 102.1h0M182.6 124.3h0M182.6 102.9h0M179.9 134.6h0M168.9 134.1h0M159.1 132.1h0M154.8 131.7h0M163.0 109.4h0M175.5 133.6h0M161.2 120.5h0M154.1 102.4h0M153.6 135.2h0M173.2 125.7h0M166.7 118.4h0M174.1 126.3h0M161.5 134.0h0M164.0 110.1h0M185.3 112.7h0M153.2 135.0h0M161.0 122.1h0M154.5 123.7h0M169.4 135.5h0M175.6 135.6h0M175.1 115.8h0M184.8 129.2h0M159.3 123.7h0M154.8 126.8h0M154.9 89.0h0M184.4 107.1h0M158.4 104.2h0M154.2 109.0h0M153.2 126.4h0M186.2 123.1h0M181.4 110.5h0M182.6 114.1h0M164.4 121.4h0M186.8 133.7h0M180.7 123.3h0M180.5 114.3h0M153.3 107.5h0M163.6 133.5h0M186.9 135.9h0M180.2 112.7h0M153.9 77.2h0M185.0 112.1h0M160.9 109.7h0M180.7 95.7h0M158.2 135.3h0M188.3 100.1h0M177.0 111.1h0M156.5 135.1h0M164.0 127.5h0M175.6 135.4h0M186.1 80.4h0M157.4 90.0h0M183.7 114.3h0M176.6 132.6h0M161.4 91.6h0M185.7 124.8h0M157.1 134.6h0M173.4 130.1h0M162.5 115.0h0M175.4 131.3h0M159.8 118.5h0M188.2 127.0h0M157.4 102.9h0M187.1 134.3h0M183.8 108.4h0M175.8 118.2h0M186.1 82.4h0M153.0 94.8h0M183.0 131.3h0M153.8 117.6h0M160.1 134.8h0M187.3 127.6h0M184.5 116.5h0M154.6 133.3h0M157.5 111.6h0M178.2 135.7h0M155.6 80.1h0M183.3 123.8h0M155.0 130.8h0M181.6 100.1h0M160.4 133.9h0M162.5 110.8h0M160.3 136.0h0M158.5 102.9h0M160.4 128.3h0M166.9 121.8h0M152.7 79.8h0M167.3 121.1h0M174.5 136.0h0M188.2 73.4h0M181.6 134.7h0M152.9 92.9h0M182.4 125.9h0M174.4 120.3h0M185.2 116.4h0M153.6 123.9h0M153.2 109.0h0M166.5 125.3h0M177.6 100.8h0M163.3 117.0h0M156.6 106.3h0M187.0 106.3h0M157.2 97.4h0M154.3 100.1h0M154.4 82.6h0M186.3 132.3h0M175.0 132.9h0M164.1 117.9h0M157.6 123.4h0M183.9 133.9h0M183.9 89.7h0M153.5 105.9h0M153.9 129.0h0M177.9 102.9h0M188.0 112.0h0M157.6 126.7h0M181.4 120.9h0M166.4 135.6h0M174.7 135.7h0M178.5 135.9h0M164.8 118.0h0M184.7 131.1h0M161.0 126.4h0M182.7 134.4h0M180.4 130.6h0M159.6 126.6h0M163.2 114.8h0M175.4 136.0h0M181.6 118.8h0M180.6 113.6h0M153.3 123.1h0M160.9 99.2h0M176.7 107.2h0M163.6 130.6h0M157.7 99.3h0M180.8 124.8h0M180.5 126.7h0M162.5 126.6h0M175.4 132.9h0M187.8 102.3h0M175.0 119.3h0M154.8 121.7h0M185.2 124.6h0M175.6 122.9h0M162.3 132.2h0M154.7 130.5h0M160.3 130.0h0M183.3 116.6h0M181.4 135.9h0M188.4 115.8h0M159.9 134.8h0M186.7 99.9h0M180.3 90.5h0M183.8 102.5h0M160.5 119.4h0M187.0 108.4h0M184.8 127.9h0M188.2 126.3h0M187.7 88.4h0M166.7 125.2h0M180.8 134.4h0M174.9 126.1h0M178.6 106.1h0M154.5 120.6h0M185.5 116.7h0M155.7 126.7h0M156.4 131.9h0M162.1 96.2h0M184.5 113.7h0M176.0 128.3h0M181.8 121.8h0M185.4 107.9h0M177.4 129.5h0M161.3 134.7h0M187.9 131.3h0M152.9 121.3h0M176.6 133.2h0M180.3 133.0h0M173.3 130.4h0M157.3 134.2h0M164.9 135.2h0M156.3 79.4h0M183.2 101.2h0M173.5 127.6h0M184.5 132.6h0M172.3 132.0h0M163.1 135.3h0M158.4 120.1h0M164.2 124.9h0M186.1 127.2h0M183.4 132.7h0M157.2 69.7h0M175.6 135.0h0M153.3 100.0h0M181.3 82.6h0M187.8 127.5h0M179.1 129.6h0M160.9 98.8h0M154.6 123.4h0M156.8 126.2h0M160.9 127.9h0M159.9 94.3h0M187.7 130.4h0M166.2 125.9h0M162.2 116.1h0M184.7 124.6h0M174.6 130.4h0M161.8 128.9h0M185.1 86.9h0M183.0 119.3h0M175.8 124.4h0M167.5 136.0h0M153.3 127.6h0M154.3 128.1h0M186.4 134.6h0M180.5 106.8h0M158.0 114.2h0M163.1 124.2h0M178.9 117.2h0M163.5 115.5h0M162.1 96.5h0M153.7 111.3h0M181.8 121.2h0M185.1 130.8h0M185.2 119.1h0M181.6 101.0h0M156.1 134.3h0M153.2 133.1h0M178.8 119.1h0M186.2 123.9h0M186.8 125.6h0M187.7 125.5h0M173.7 123.7h0M186.4 93.6h0M173.3 127.7h0M187.1 134.4h0M185.0 99.9h0M173.1 129.9h0M160.9 88.4h0M162.0 104.8h0M183.2 130.5h0M175.7 122.7h0M186.6 116.6h0M165.8 121.2h0M183.5 97.2h0M183.1 134.3h0M183.8 122.5h0M156.8 135.9h0M155.5 103.5h0M163.1 109.5h0M153.5 126.6h0M184.8 120.6h0M160.1 135.7h0M180.9 105.4h0M162.4 136.0h0M157.8 110.6h0M175.3 112.4h0M166.8 132.1h0M165.3 120.9h0M186.2 114.6h0M159.5 99.7h0M157.7 119.6h0M186.1 127.7h0M181.6 132.6h0M164.0 117.8h0M158.4 128.4h0M166.4 130.8h0M175.7 129.2h0M164.4 124.6h0M184.5 101.1h0M185.3 121.1h0M186.8 97.3h0M166.8 127.2h0M180.6 118.9h0M182.9 135.2h0M185.9 134.4h0M175.5 128.5h0M168.2 128.0h0M157.5 98.1h0M185.1 130.8h0M186.3 103.5h0M154.3 111.3h0M187.3 125.9h0M187.0 130.0h0M177.0 126.2h0M180.7 132.9h0M156.2 124.2h0M178.1 107.5h0M156.4 126.4h0M185.4 123.2h0M172.8 128.8h0M178.2 109.9h0M184.5 134.3h0M182.0 98.8h0M182.9 120.2h0M153.9 113.0h0M156.3 112.4h0M160.0 90.0h0M187.8 133.1h0M155.6 88.8h0M175.7 123.2h0M164.0 131.0h0M186.1 127.9h0M173.7 127.4h0M187.6 83.7h0M154.4 106.4h0M153.5 95.9h0M153.5 134.0h0M155.0 97.7h0M156.5 105.4h0M180.6 95.0h0M187.0 135.3h0M185.6 135.9h0M159.1 84.6h0M156.0 118.0h0M182.2 131.8h0M155.4 113.7h0M186.7 83.5h0M186.8 119.0h0M183.0 132.4h0M182.5 112.0h0M157.3 122.2h0M187.9 124.3h0M184.3 101.8h0M154.2 101.3h0M178.6 109.9h0M153.9 95.0h0M177.7 134.7h0M173.6 126.8h0M161.4 127.7h0M172.7 133.2h0M180.1 131.3h0M167.5 128.5h0M155.4 85.3h0M159.2 121.8h0M174.3 127.7h0M161.5 90.1h0M155.3 135.5h0M179.6 125.9h0M176.7 129.6h0M154.0 112.9h0M168.8 135.1h0M174.0 133.4h0M175.3 129.7h0M160.3 127.9h0M160.4 132.5h0M187.1 111.1h0M183.1 129.5h0M180.4 97.6h0M153.7 74.9h0M165.4 132.2h0M173.5 125.5h0M164.2 133.6h0M185.6 134.8h0M182.2 127.2h0M178.5 112.4h0M176.6 132.9h0M161.8 133.2h0M185.6 126.8h0M183.3 132.1h0M174.1 123.2h0M160.4 125.9h0M172.3 135.8h0M184.4 110.8h0M187.1 119.4h0M158.5 121.3h0M186.3 93.1h0M157.6 130.1h0M182.0 100.2h0M157.3 99.6h0M166.5 128.3h0M166.2 135.7h0M152.8 132.4h0M173.2 134.2h0M166.3 117.1h0M181.6 127.1h0M153.7 130.4h0M154.4 134.2h0M162.2 118.4h0M179.4 104.8h0M184.4 72.7h0M164.1 111.3h0M185.2 123.4h0M180.4 115.0h0M158.7 133.6h0M186.9 92.1h0M159.3 124.4h0M184.9 116.7h0M187.5 123.4h0M175.4 115.6h0M168.0 130.9h0M177.4 101.0h0M181.5 102.9h0M176.8 132.9h0M175.6 125.6h0M160.9 132.7h0M160.2 134.8h0M152.9 74.1h0M188.5 108.2h0M153.0 100.9h0M162.2 116.1h0M153.2 135.2h0M164.2 130.4h0M175.6 122.9h0M158.5 125.6h0M175.7 134.1h0M185.4 82.0h0M153.9 130.9h0M164.0 125.7h0M178.3 125.4h0M179.4 133.4h0M184.0 129.1h0M155.9 125.7h0M180.4 107.1h0M167.4 130.4h0M155.2 134.9h0M177.0 136.0h0M164.7 124.1h0M180.7 115.1h0M165.7 113.1h0M157.7 125.5h0M183.2 75.9h0M187.0 135.7h0M158.6 118.6h0M180.0 113.3h0M157.2 116.5h0M185.5 102.9h0M159.3 113.3h0M172.5 135.1h0M164.3 125.2h0M164.7 135.0h0M154.4 130.4h0M163.4 111.1h0M181.4 124.6h0M177.6 135.5h0M186.0 105.7h0M167.1 134.8h0M175.5 128.0h0M161.5 98.0h0M186.9 124.6h0M176.4 128.3h0M178.8 117.1h0M154.5 111.3h0M155.9 132.3h0M157.5 114.9h0M186.1 134.7h0M184.1 131.6h0M181.4 93.5h0M175.7 135.5h0M155.0 126.4h0M157.9 132.5h0M182.1 126.7h0M181.0 112.3h0M165.3 116.8h0M155.8 128.7h0M185.7 135.9h0M186.8 98.0h0M164.9 126.2h0M173.0 126.9h0M171.6 135.8h0M153.4 123.6h0M188.1 133.6h0M153.7 105.2h0M159.8 121.1h0M178.1 121.5h0M164.7 122.2h0M160.6 125.4h0M184.4 125.6h0M176.9 107.3h0M162.4 126.7h0M158.0 113.3h0M155.5 132.7h0M166.1 126.1h0M184.2 95.9h0M154.8 73.7h0M182.4 111.6h0M185.7 130.0h0M158.8 105.8h0M158.2 115.1h0M182.3 111.7h0M172.0 133.6h0M186.7 122.2h0M173.9 135.0h0M187.3 122.0h0M155.4 129.6h0M165.8 133.7h0M159.3 87.1h0M182.9 113.7h0M153.5 134.2h0M188.1 81.2h0M154.9 133.0h0M187.3 92.6h0M161.0 134.7h0M184.3 115.7h0M174.9 115.3h0M181.3 108.2h0M161.4 104.5h0M161.7 103.9h0M178.2 129.2h0M182.5 94.1h0M163.5 102.8h0M184.2 129.6h0M159.8 99.0h0M187.5 94.9h0M168.3 135.2h0M160.8 114.3h0M162.8 126.3h0M163.7 121.7h0M179.1 128.1h0M160.7 119.8h0M163.8 133.6h0M164.9 129.0h0M160.6 92.1h0M164.6 131.0h0M182.4 123.9h0M156.9 70.0h0M155.4 114.1h0M172.5 128.8h0M155.0 104.7h0M156.1 121.2h0M181.3 101.8h0M153.0 124.3h0M184.3 130.1h0M179.4 129.4h0M158.5 123.9h0M157.8 89.5h0M175.8 135.9h0M181.4 128.8h0M184.1 120.8h0M179.1 131.7h0M161.2 125.9h0M174.6 126.4h0M162.8 122.4h0M180.3 119.4h0M178.1 98.5h0M163.6 114.0h0M176.1 130.4h0M185.6 95.3h0M156.3 121.6h0M183.6 135.6h0M159.5 135.0h0M186.6 99.0h0M183.3 117.2h0M163.5 112.0h0M155.6 128.5h0M159.6 125.5h0M155.8 104.5h0M165.2 113.5h0M176.9 132.8h0M163.9 125.9h0M182.2 97.3h0M160.9 123.6h0M158.1 86.1h0M164.6 131.7h0M162.6 116.0h0M178.7 94.2h0M180.5 131.3h0M186.8 115.8h0M186.8 134.6h0M165.8 123.9h0M157.3 116.5h0M153.3 133.9h0M159.2 131.2h0M178.5 108.4h0M181.0 135.3h0M184.1 120.2h0M180.7 122.4h0M154.4 122.4h0M154.9 132.3h0M158.4 135.5h0M187.1 85.6h0M164.1 134.8h0M164.5 105.7h0M161.0 130.8h0M181.3 91.3h0M164.4 135.0h0M181.3 123.6h0M165.1 133.3h0M171.7 135.7h0M184.1 120.0h0M185.0 121.3h0M153.5 112.9h0M158.2 113.9h0M155.4 121.0h0M172.4 135.2h0M180.9 126.1h0M184.5 69.7h0M168.3 131.2h0M177.3 131.8h0M157.7 135.9h0M180.7 102.0h0M166.6 129.3h0M182.3 129.6h0M178.9 132.8h0M154.3 104.3h0M168.3 130.3h0M154.0 132.1h0M161.2 93.2h0M186.6 103.2h0M174.7 123.9h0M155.8 127.7h0M164.2 128.3h0M166.5 131.2h0M187.9 120.7h0M173.3 126.3h0M152.9 95.1h0M158.3 130.3h0M181.9 134.9h0M186.7 91.1h0M165.4 119.3h0M183.5 120.7h0M188.3 116.5h0M155.3 96.0h0M164.8 124.2h0M154.9 122.0h0M186.7 114.2h0M177.2 109.8h0M179.9 131.5h0M182.6 110.1h0M186.9 90.6h0M168.5 134.1h0M154.2 86.9h0M155.1 95.4h0M169.0 132.2h0M182.7 128.5h0M184.7 132.7h0M187.3 114.1h0M184.5 117.5h0M187.4 122.6h0M156.2 135.8h0M185.9 127.1h0M181.9 134.8h0M180.3 132.6h0M176.7 133.2h0M185.9 121.6h0M154.7 120.9h0M153.8 135.0h0M184.3 118.0h0M153.9 129.3h0M152.8 129.9h0M155.3 117.2h0M158.9 125.8h0M162.0 124.4h0M181.6 135.5h0M152.7 128.3h0M175.5 127.3h0M156.9 130.2h0M179.9 130.9h0M182.3 106.4h0M162.0 134.4h0M161.0 103.4h0M167.2 127.7h0M186.0 133.9h0M184.1 89.1h0M154.1 134.9h0M155.0 131.0h0M186.4 110.0h0M182.9 133.6h0M173.8 136.0h0M181.6 125.1h0M177.3 123.5h0M185.4 110.0h0M188.2 135.3h0M186.0 117.0h0M184.9 121.4h0M185.4 130.3h0M178.4 109.5h0M154.3 126.5h0M187.8 135.1h0M156.6 116.1h0M165.9 118.3h0M178.3 113.2h0M167.9 131.4h0M182.1 132.7h0M161.8 114.6h0M187.4 85.4h0M153.5 81.4h0M188.4 133.7h0M184.1 125.7h0M158.5 129.3h0M177.3 131.8h0M154.8 99.4h0M159.5 136.0h0M161.2 131.8h0M156.0 108.9h0M154.0 98.0h0M153.9 118.7h0M162.3 131.5h0M186.4 132.3h0M185.2 84.2h0M182.4 114.6h0M180.4 129.5h0M157.4 117.0h0M174.4 135.1h0M187.3 112.1h0M165.1 131.6h0M183.0 131.3h0M186.8 83.1h0M160.5 127.2h0M159.8 119.0h0M161.0 103.0h0M186.2 104.1h0M184.6 77.4h0M155.8 111.2h0M188.2 109.6h0M185.1 135.5h0M175.9 120.0h0M181.6 119.9h0M162.4 132.5h0M152.7 93.4h0M179.7 130.6h0M174.7 124.7h0M176.4 132.9h0M153.7 96.4h0M182.1 136.1h0M162.9 130.3h0M154.0 119.2h0M180.9 121.2h0M178.3 121.8h0M166.1 123.4h0M163.3 122.1h0M164.3 126.9h0M182.2 121.5h0M156.8 130.8h0M158.7 128.0h0M185.0 127.4h0M179.2 117.7h0M180.6 123.4h0M174.7 134.5h0M185.7 90.3h0M185.5 125.1h0M188.5 93.9h0M167.2 132.0h0M181.2 121.6h0M164.2 133.0h0M178.6 130.8h0M153.9 133.1h0M182.1 91.4h0M161.9 123.6h0M163.1 126.2h0M163.8 127.2h0M185.6 127.9h0M162.7 122.8h0M183.7 128.6h0M155.1 105.7h0M167.3 136.1h0M157.8 94.1h0M176.1 122.0h0M160.3 128.5h0M163.1 135.0h0M178.4 114.6h0M153.5 111.2h0M153.2 116.7h0M181.4 129.4h0M162.7 118.9h0M163.2 130.7h0M153.2 128.1h0M183.9 117.7h0M187.3 123.1h0M186.2 108.2h0M181.7 88.9h0M184.3 109.2h0M156.8 119.4h0M188.4 130.5h0M177.7 126.3h0M156.6 133.1h0M179.7 117.2h0M158.1 110.7h0M179.0 101.6h0M159.1 131.1h0M175.1 130.2h0M177.2 103.4h0M175.0 128.9h0M153.4 101.8h0M169.3 132.8h0M157.8 135.5h0M158.7 126.3h0M164.1 135.1h0M164.3 135.6h0M168.2 128.4h0M166.6 132.2h0M187.5 74.8h0M162.1 132.5h0M178.1 110.0h0M173.2 129.6h0M180.5 124.2h0M187.4 126.3h0M183.2 117.8h0M187.5 101.2h0M162.2 134.4h0M152.9 132.2h0M184.2 129.2h0M180.5 108.1h0M177.4 121.3h0M180.0 118.3h0M165.3 133.4h0M163.4 132.0h0M182.3 86.0h0M160.1 132.3h0M152.9 112.3h0M153.4 128.2h0M175.6 128.6h0M176.2 125.0h0M185.1 123.0h0M167.2 121.0h0M179.1 127.8h0M186.5 127.9h0M155.4 121.9h0M179.1 118.6h0M188.3 95.8h0M162.7 104.0h0M164.3 125.3h0M188.0 125.0h0M164.2 117.0h0M161.9 128.3h0M178.3 136.0h0M154.8 111.8h0M158.8 108.4h0M153.5 113.3h0M179.3 133.3h0M153.9 128.3h0M160.7 113.1h0M186.9 122.2h0M159.3 113.3h0M156.0 111.3h0M153.1 133.8h0M162.8 110.4h0M188.1 136.0h0M182.5 131.0h0M158.4 120.5h0M158.6 116.0h0M181.1 130.3h0M158.4 132.4h0M157.1 108.6h0M185.1 136.1h0M177.5 113.7h0M160.4 107.0h0M187.3 95.7h0M165.3 132.7h0M178.3 110.1h0M175.3 133.5h0M156.4 132.0h0M185.0 125.9h0M175.8 124.4h0M164.6 113.3h0M160.6 85.5h0M157.0 121.6h0M180.1 125.8h0M187.8 106.9h0M186.4 82.8h0M186.6 110.7h0M179.0 135.4h0M154.2 121.1h0M177.0 115.3h0M155.7 115.2h0M187.1 135.1h0M182.5 119.4h0M177.1 126.1h0M159.0 132.6h0M156.1 91.3h0M186.7 108.1h0M162.7 127.4h0M174.6 125.5h0M188.1 123.6h0M165.5 131.9h0M153.9 124.2h0M155.0 125.6h0M187.2 135.3h0M156.8 111.8h0M157.9 135.1h0M155.5 78.0h0M158.3 131.2h0M157.0 135.2h0M179.6 91.3h0M177.6 110.0h0M178.7 105.4h0M172.9 126.3h0M178.7 118.2h0M166.5 135.1h0M165.1 108.7h0M179.5 125.3h0M183.3 103.4h0M161.3 130.3h0M172.7 134.9h0M161.8 124.6h0M177.7 113.5h0M166.8 118.8h0M153.3 103.0h0M159.2 120.7h0M180.3 121.3h0M156.5 119.4h0M180.1 114.8h0M153.5 111.9h0M157.7 109.8h0M154.5 127.7h0M153.4 132.6h0M169.3 133.4h0M164.9 116.1h0M179.7 120.4h0M164.0 120.1h0M183.0 127.1h0M162.3 117.7h0M186.7 129.6h0M184.8 93.8h0M185.5 118.2h0M180.7 135.8h0M164.9 112.4h0M187.5 126.0h0M161.6 100.8h0M184.8 110.3h0M184.4 79.7h0M153.5 109.2h0M154.4 113.2h0M159.2 133.2h0M155.3 114.7h0M162.4 132.3h0M158.6 133.0h0M159.3 111.1h0M186.9 70.7h0M180.4 112.4h0M173.3 131.3h0M161.0 104.6h0M157.7 131.9h0M179.4 109.6h0M186.0 99.3h0M164.1 112.8h0M179.9 119.7h0M177.4 116.3h0M186.3 119.5h0M180.5 133.6h0M157.9 117.9h0M159.2 115.7h0M172.1 136.2h0M181.3 130.4h0M157.8 110.2h0M174.7 130.9h0M178.3 132.7h0M185.6 129.3h0M165.9 122.7h0M184.1 124.4h0M158.3 126.4h0M187.0 135.2h0M183.3 130.2h0M154.0 135.0h0M187.7 106.1h0M184.5 123.3h0M155.3 89.3h0M183.8 116.4h0M183.6 124.6h0M155.6 125.9h0M161.8 100.8h0M179.9 133.3h0M172.4 129.6h0M164.1 120.2h0M159.3 107.2h0M155.7 72.2h0M157.1 127.8h0M158.2 131.0h0M157.8 116.8h0M161.5 123.3h0M159.5 114.6h0M177.1 125.8h0M185.8 127.0h0M178.4 101.0h0M180.3 115.0h0M188.3 124.6h0M180.9 103.0h0M184.5 113.0h0M161.9 125.6h0M188.5 114.5h0M156.0 89.2h0M160.6 120.8h0M158.0 133.3h0M159.1 133.3h0M182.6 117.3h0M158.3 133.8h0M160.0 134.1h0M182.9 124.0h0M186.6 103.4h0M186.8 82.4h0M159.2 105.2h0M154.7 134.0h0M180.1 132.7h0M188.4 120.1h0M175.4 125.5h0M182.0 131.5h0M154.8 115.0h0M177.8 136.2h0M176.3 118.5h0M186.6 87.3h0M181.6 92.9h0M154.2 107.5h0M181.8 109.1h0M179.2 116.9h0M187.2 123.3h0M154.6 113.5h0M162.8 125.7h0M163.8 111.9h0M159.4 107.7h0M185.4 95.3h0M162.4 118.1h0M164.7 130.1h0M154.2 120.2h0M159.9 124.6h0M162.4 133.9h0M153.0 93.1h0M175.5 117.2h0M160.7 106.8h0M178.7 109.9h0M174.5 135.3h0M183.2 131.7h0M153.4 117.6h0M155.9 133.1h0M177.5 124.0h0M181.8 131.0h0M188.2 127.1h0M155.5 135.0h0M176.9 130.2h0M174.6 121.7h0M187.5 117.0h0M187.6 119.2h0M161.0 121.2h0M178.5 104.0h0M183.9 96.6h0M164.3 122.2h0M160.8 99.3h0M174.9 129.1h0M183.9 81.3h0M156.3 131.1h0M165.1 120.8h0M187.7 103.9h0M184.0 131.3h0M160.6 126.4h0M186.8 134.3h0M188.4 90.4h0M154.6 120.5h0M185.8 134.2h0M157.4 134.9h0M163.1 113.5h0M184.9 135.0h0M159.8 125.2h0M163.3 131.9h0M155.9 97.5h0M178.6 112.0h0M163.2 122.8h0M179.1 131.9h0M186.7 130.8h0M178.8 112.5h0M186.8 102.2h0M166.5 122.5h0M167.8 132.7h0M186.6 131.4h0M188.0 119.9h0M183.6 100.7h0M175.3 131.7h0M156.7 131.5h0M168.5 135.5h0M184.3 133.5h0M184.4 122.2h0M156.4 121.1h0M160.4 98.8h0M187.6 132.4h0M174.4 128.0h0M156.1 105.3h0M159.0 129.1h0M155.6 117.7h0M185.7 135.9h0M167.8 131.0h0M160.2 118.9h0M184.0 119.7h0M154.8 132.9h0M161.9 134.9h0M183.0 126.2h0M185.9 134.1h0M155.6 136.0h0M166.7 128.4h0M160.4 90.9h0M182.7 106.8h0M180.8 99.7h0M186.3 100.8h0M176.2 132.7h0M165.4 124.9h0M157.0 129.7h0M158.1 120.3h0M153.3 133.9h0M186.4 133.8h0M162.6 114.2h0M182.4 98.6h0M155.9 98.1h0M175.7 113.2h0M155.1 101.5h0M165.1 130.7h0M160.8 130.7h0M155.8 100.6h0M157.1 134.4h0M162.2 117.7h0M180.7 118.9h0M162.4 136.1h0M161.8 122.7h0M188.3 133.6h0M155.7 88.9h0M182.1 134.4h0M183.8 106.3h0M162.2 132.0h0M158.1 114.0h0M157.4 124.5h0M184.8 98.4h0M176.0 120.0h0M187.1 113.9h0M163.3 125.2h0M186.3 132.5h0M184.3 98.7h0M164.4 135.7h0M162.7 117.5h0M162.3 131.5h0M157.6 98.4h0M177.3 118.3h0M187.9 135.8h0M172.5 133.1h0M184.5 133.2h0M177.0 107.3h0M160.6 113.1h0M152.9 135.1h0M154.2 76.3h0M157.3 126.5h0M180.1 131.7h0M157.4 119.7h0M159.5 135.2h0M175.8 110.4h0M168.5 130.1h0M164.5 126.8h0M186.1 126.3h0M164.4 127.8h0M158.0 89.7h0M156.0 94.2h0M158.2 118.0h0M182.2 119.3h0M188.4 96.6h0M175.2 129.7h0M183.5 122.7h0M188.4 107.3h0M178.4 119.9h0M165.3 111.6h0M162.6 134.8h0M182.0 106.1h0M154.3 100.6h0M176.6 109.9h0M179.0 131.2h0M160.0 90.5h0M166.7 125.3h0M153.3 136.1h0M161.9 130.5h0M181.9 134.3h0M187.2 91.2h0M187.3 124.8h0M157.0 103.9h0M153.4 88.1h0M162.5 108.6h0M180.1 124.5h0M166.2 125.9h0M187.6 121.8h0M171.8 133.5h0M160.8 124.8h0M163.0 132.6h0M186.0 121.5h0M175.1 126.6h0M185.7 131.6h0M185.3 100.6h0M161.1 114.0h0M188.4 135.1h0M175.0 135.1h0M159.7 84.8h0M153.6 86.6h0M153.0 109.9h0M154.5 131.0h0M156.0 127.1h0M175.5 132.9h0M161.6 133.4h0M155.0 129.5h0M164.5 128.5h0M158.7 123.6h0M173.8 126.3h0M168.1 132.0h0M162.8 115.2h0M180.4 123.9h0M187.1 76.7h0M180.3 113.6h0M185.2 72.3h0M184.1 72.6h0M180.5 131.3h0M174.0 129.3h0M184.7 111.0h0M181.1 109.1h0M186.2 83.9h0M175.6 119.5h0M187.4 77.2h0M155.1 99.6h0M157.2 120.2h0M157.9 102.0h0M181.2 118.4h0M154.6 134.9h0M155.6 90.7h0M186.8 135.7h0M184.1 106.3h0M162.9 107.8h0M161.5 134.4h0M159.4 106.2h0M186.8 122.1h0M177.2 106.5h0M160.2 124.6h0M160.5 126.4h0M176.2 134.4h0M187.5 75.2h0M154.4 122.3h0M157.8 129.1h0M177.1 118.1h0M184.9 119.0h0M154.2 118.0h0M176.8 119.4h0M185.5 116.5h0M163.8 135.6h0M177.0 112.3h0M153.7 111.9h0M185.1 113.1h0M186.3 108.7h0M157.6 128.8h0M164.8 130.2h0M179.6 111.6h0M178.8 126.4h0M156.9 120.4h0M176.8 125.9h0M153.9 109.7h0M158.8 105.8h0M179.3 134.5h0M154.0 118.9h0M182.3 126.4h0M176.7 111.5h0M183.5 133.9h0M172.7 129.2h0M175.7 131.8h0M187.2 101.7h0M180.0 117.1h0M186.6 134.0h0M183.9 108.1h0M164.2 122.7h0M159.5 108.4h0M160.3 132.1h0M188.3 136.2h0M157.5 132.4h0M152.8 114.3h0M160.1 121.0h0M177.3 119.2h0M155.5 128.6h0M187.9 126.6h0M184.0 97.1h0M156.1 123.4h0M175.9 126.8h0M154.6 120.7h0M153.4 128.5h0M157.4 121.6h0M156.8 108.7h0M181.8 128.8h0M187.5 90.0h0M161.2 134.5h0M179.7 134.8h0M162.7 104.3h0M175.2 135.4h0M167.0 133.7h0M185.1 130.5h0M155.7 111.4h0M152.9 130.7h0M152.8 102.1h0M178.9 118.9h0M186.3 115.8h0M176.5 119.9h0M179.1 97.4h0M157.4 85.9h0M178.7 113.9h0M183.6 123.2h0M160.3 135.7h0M178.2 104.5h0M160.4 108.9h0M164.1 136.0h0M187.9 106.5h0M166.0 118.9h0M161.0 131.7h0M183.9 88.6h0M167.2 133.7h0M185.6 123.5h0M184.1 131.4h0M160.1 123.2h0M156.1 99.3h0M165.8 118.0h0M165.4 116.9h0M177.5 101.3h0M163.1 128.5h0M160.7 123.3h0M184.7 130.0h0M180.2 136.2h0M164.5 134.3h0M155.1 75.7h0M188.4 86.9h0M180.7 113.7h0M175.7 124.2h0M177.1 116.0h0M187.2 122.0h0M175.3 125.9h0M158.2 123.5h0M185.1 108.9h0M181.1 111.6h0M181.2 135.4h0M167.5 128.4h0M157.0 85.7h0M152.9 117.8h0M187.5 73.7h0M166.2 115.5h0M179.0 132.0h0M173.3 134.2h0M183.8 104.7h0M183.5 124.7h0M178.4 133.5h0M174.1 133.1h0M162.7 129.1h0M165.6 119.2h0M182.1 134.9h0M157.5 132.9h0M178.0 127.0h0M159.3 126.9h0M165.5 132.3h0M184.2 123.1h0M154.7 132.9h0M157.8 125.9h0M159.8 134.1h0M154.2 77.1h0M178.9 122.3h0M160.2 130.2h0M177.3 123.5h0M156.9 75.8h0M186.2 133.6h0M164.3 130.8h0M159.4 91.4h0M154.9 124.7h0M158.1 111.3h0M162.1 130.0h0M164.1 135.1h0M159.4 121.0h0M155.4 130.9h0M157.2 119.1h0M186.6 125.3h0M163.1 130.0h0M179.3 110.6h0M181.7 131.2h0M164.4 104.0h0M153.5 88.6h0M161.6 127.8h0M185.5 118.6h0M157.4 135.3h0M166.9 136.0h0M153.1 135.1h0M160.4 129.3h0M180.9 116.6h0M154.1 128.4h0M166.0 135.1h0M178.1 131.1h0M166.5 125.8h0M165.0 132.7h0M179.8 133.4h0M159.3 119.9h0M154.4 92.5h0M162.8 113.8h0M185.9 136.1h0M174.7 129.8h0M184.1 134.2h0M178.1 130.6h0M159.1 119.8h0M154.0 131.0h0M168.3 133.5h0M177.0 129.3h0M163.0 122.6h0M168.4 129.2h0M185.3 97.4h0M175.5 136.0h0M162.5 131.8h0M178.9 120.2h0M157.5 124.3h0M176.5 123.0h0M162.4 131.5h0M179.2 130.0h0M185.1 92.9h0M166.1 134.7h0M168.6 135.5h0M159.1 125.0h0M179.3 125.7h0M176.4 119.9h0M178.0 107.2h0M152.7 127.5h0M185.4 122.5h0M166.5 124.1h0M155.6 83.1h0M161.7 129.6h0M177.8 128.4h0M163.4 130.3h0M176.3 114.2h0M160.8 91.3h0M187.2 90.0h0M183.2 129.4h0M184.3 102.6h0M182.1 134.9h0M187.2 134.2h0M183.5 133.2h0M180.1 119.9h0M164.4 126.7h0M179.7 135.8h0M178.7 114.8h0M161.3 118.0h0M173.1 127.3h0M166.2 129.8h0M156.7 123.8h0M174.0 131.7h0M165.5 134.0h0M161.2 119.9h0M183.3 131.3h0M154.1 129.5h0M185.8 134.7h0M158.7 136.3h0M187.8 119.1h0M178.8 132.0h0M186.8 132.9h0M181.6 125.2h0M183.2 95.6h0M182.1 124.3h0M157.6 134.7h0M165.2 121.1h0M187.4 128.8h0M180.9 133.9h0M187.7 134.6h0M184.8 92.7h0M159.8 115.7h0M153.9 105.7h0M182.4 130.4h0M178.1 128.7h0M161.0 100.7h0M154.2 108.6h0M181.0 104.3h0M188.4 119.7h0M185.1 115.1h0M156.5 133.8h0M153.7 134.5h0M173.5 132.2h0M152.9 75.9h0M161.0 108.9h0M161.8 122.6h0M181.0 99.0h0M160.9 123.5h0M186.2 111.4h0M178.0 100.0h0M164.9 115.5h0M186.0 100.0h0M163.6 133.6h0M161.4 123.8h0M184.6 133.4h0M164.4 122.4h0M181.4 93.3h0M160.0 95.0h0M166.8 121.7h0M164.6 107.5h0M168.4 135.2h0M187.1 122.7h0M166.9 119.7h0M186.8 119.1h0M163.1 120.5h0M187.8 95.5h0M181.7 129.2h0M166.8 118.8h0M186.9 115.9h0M154.9 105.0h0M187.3 129.2h0M158.3 135.3h0M158.9 117.0h0M155.2 122.8h0M153.7 130.6h0M187.5 131.5h0M166.4 132.8h0M156.0 129.5h0M184.0 133.7h0M153.1 111.5h0M154.6 135.6h0M179.5 129.5h0M184.8 94.6h0M178.5 135.4h0M184.2 107.3h0M165.6 132.8h0M168.1 127.1h0M180.6 135.5h0M178.2 111.0h0M153.0 132.0h0M159.1 133.2h0M182.8 107.2h0M157.5 112.3h0M181.9 130.9h0M161.9 117.6h0M186.3 126.0h0M157.4 128.8h0M186.7 131.0h0M166.5 131.0h0M184.2 121.6h0M186.1 133.0h0M160.6 126.1h0M178.5 118.6h0M157.3 119.6h0M157.7 128.7h0M164.4 133.8h0M177.5 133.9h0M154.6 108.7h0M182.6 122.4h0M162.9 121.8h0M185.5 104.5h0M188.5 103.9h0M173.1 132.3h0M180.8 126.9h0M164.1 130.2h0M182.2 128.5h0M157.0 110.1h0M186.4 118.2h0M160.4 135.9h0M153.5 130.2h0M187.8 109.4h0M176.7 120.0h0M182.4 101.4h0M165.9 128.8h0M157.0 97.7h0M180.2 89.5h0M162.6 119.9h0M175.7 130.9h0M155.4 70.6h0M162.4 135.7h0M154.5 97.3h0M156.5 129.3h0M157.6 119.3h0M160.7 125.6h0M162.4 112.1h0M174.8 123.8h0M154.5 95.4h0M160.9 124.0h0M167.0 132.8h0M180.9 125.1h0M188.2 91.0h0M172.3 134.7h0M154.1 91.4h0M159.8 127.0h0M186.5 133.2h0M171.8 136.0h0M181.2 135.9h0M154.1 127.4h0M175.2 124.4h0M180.2 93.4h0M187.4 94.8h0M163.5 113.2h0M160.4 125.9h0M164.5 135.4h0M154.8 119.1h0M153.4 134.6h0M183.3 135.4h0M183.4 134.2h0M154.2 119.5h0M167.9 133.4h0M175.1 132.8h0M163.4 130.4h0M178.9 126.7h0M173.2 133.9h0M164.2 113.3h0M167.3 132.3h0M187.1 93.4h0M153.7 108.6h0M178.9 128.3h0M153.6 109.3h0M184.8 123.0h0M165.5 126.1h0M181.9 85.3h0M164.3 125.5h0M156.7 98.8h0M174.4 123.3h0M178.7 131.8h0M168.2 136.0h0M187.7 97.5h0M187.8 134.1h0M155.4 134.1h0M163.5 125.6h0M161.9 134.6h0M158.5 97.9h0M180.6 113.7h0M187.3 128.5h0M154.1 114.5h0M166.5 128.8h0M152.7 134.1h0M187.3 127.8h0M155.7 133.4h0M171.6 135.9h0M166.7 116.7h0M159.6 119.6h0M187.7 131.9h0M186.9 135.8h0M163.8 125.3h0M158.9 124.2h0M167.3 126.0h0M153.8 115.1h0M156.9 76.4h0M155.8 131.1h0M184.6 94.2h0M185.8 123.4h0M154.5 120.8h0M183.0 84.7h0M186.0 132.1h0M156.4 136.2h0M181.5 126.0h0M184.2 69.8h0M183.8 84.6h0M173.8 136.3h0M158.4 118.2h0M177.9 101.3h0M179.8 133.5h0M166.7 133.3h0M185.7 125.2h0M161.3 117.3h0M186.7 122.8h0M179.3 133.7h0M185.9 133.2h0M153.7 119.1h0M163.3 126.5h0M160.6 88.3h0M177.6 134.5h0M157.7 82.2h0M180.5 131.8h0M160.6 100.0h0M159.7 131.0h0M188.0 131.8h0M176.3 132.5h0M175.1 135.5h0M181.2 104.3h0M182.7 126.7h0M161.8 120.7h0M153.3 93.6h0M155.3 96.7h0M182.7 84.1h0M157.5 122.8h0M180.3 123.4h0M158.1 127.2h0M166.2 129.8h0M182.7 125.7h0M156.3 69.8h0M157.5 120.4h0M179.8 129.6h0M186.8 91.7h0M152.7 122.3h0M155.6 130.4h0M160.1 131.6h0M154.7 133.6h0M178.6 131.8h0M155.3 130.5h0M156.8 135.5h0M174.5 135.1h0M176.8 130.4h0M156.5 85.2h0M186.3 126.1h0M184.1 81.4h0M166.1 121.8h0M158.2 134.0h0M152.8 116.7h0M162.3 133.2h0M158.7 126.4h0M182.0 93.6h0M166.3 131.4h0M178.1 101.1h0M182.8 106.2h0M153.8 73.5h0M157.5 128.8h0M187.9 132.5h0M163.4 135.1h0M159.8 111.4h0M154.2 135.4h0M173.7 135.7h0M159.6 133.5h0M154.6 112.4h0M178.9 118.4h0M186.6 128.5h0M182.6 134.5h0M158.1 123.7h0M178.1 134.9h0M183.3 131.3h0M156.4 127.8h0M173.2 132.2h0M179.8 135.6h0M182.6 101.2h0M164.6 106.6h0M159.8 100.3h0M161.7 100.0h0M181.6 136.0h0M185.0 115.1h0M154.4 100.1h0M158.8 134.9h0M183.8 134.0h0M183.2 90.0h0M154.8 99.9h0M165.9 118.4h0M153.3 135.6h0M184.2 127.8h0M187.5 130.6h0M159.6 115.1h0M173.3 129.3h0M160.8 120.4h0M156.9 112.4h0M162.7 125.1h0M184.4 86.1h0M176.9 135.7h0M188.0 127.9h0M176.9 132.1h0M160.0 130.0h0M186.4 115.6h0M185.9 86.7h0M154.7 72.2h0M156.4 110.6h0M161.3 122.6h0M180.5 133.6h0M157.5 124.1h0M167.1 133.5h0M180.8 119.1h0M155.9 92.6h0M154.0 132.3h0M162.0 104.3h0M178.2 132.5h0M156.1 97.6h0M187.0 136.0h0M163.1 105.4h0M157.8 135.1h0M164.8 136.3h0M178.6 111.6h0M154.6 113.8h0M162.0 101.3h0M184.4 127.6h0M188.0 101.0h0M179.4 130.2h0M178.2 122.1h0M159.7 134.0h0M183.0 134.4h0M185.2 129.2h0M179.2 124.1h0M160.9 132.3h0M176.8 107.3h0M164.5 132.1h0M155.0 123.3h0M188.1 134.9h0M156.3 117.8h0M162.7 117.0h0M181.1 130.3h0M162.8 120.5h0M178.4 120.6h0M163.4 136.0h0M182.4 87.4h0M159.5 132.4h0M187.0 126.9h0M156.4 133.1h0M183.7 113.9h0M186.0 113.9h0M174.1 121.4h0M154.3 126.2h0M161.3 122.2h0M157.5 28.3h0M154.4 31.6h0M155.2 36.4h0M153.5 40.3h0M154.1 45.1h0M156.4 49.0h0M155.8 53.1h0M155.6 58.5h0M158.5 57.7h0M160.3 58.5h0M161.9 59.0h0M154.5 60.8h0M157.6 64.2h0M158.5 70.2h0M186.6 15.5h0M185.9 23.2h0M184.6 37.3h0M184.0 50.0h0M179.4 55.4h0M186.2 53.5h0M187.0 56.9h0M183.5 59.3h0M187.0 61.5h0M180.0 66.5h0M181.0 70.0h0M183.0 71.0h0M186.0 71.0h0M167.6 130.2h0M158.0 132.3h0M175.7 124.2h0M195.3 131.7h0M177.9 128.5h0M184.0 123.9h0M146.7 133.5h0M190.3 127.2h0M194.4 131.7h0M158.3 122.8h0M179.3 124.0h0M147.2 123.4h0M180.5 131.9h0M177.1 135.4h0M187.8 124.6h0M161.8 122.0h0M183.7 132.6h0M193.5 136.1h0M192.3 121.6h0M166.2 123.8h0M168.3 132.0h0M150.5 134.9h0M197.2 130.8h0M186.4 127.0h0M162.9 135.6h0M192.3 122.4h0M178.0 123.7h0M180.1 135.4h0M199.6 130.4h0M157.4 130.0h0M156.3 133.5h0M156.8 129.4h0M205.4 132.9h0M200.1 122.5h0M153.1 130.2h0M162.7 130.0h0M174.3 134.9h0M166.4 120.9h0M181.6 128.9h0M167.4 123.5h0M141.9 129.9h0M144.1 122.2h0M180.2 128.0h0M187.1 129.0h0M202.1 126.7h0M151.7 121.2h0M166.6 120.6h0M184.0 131.2h0M176.3 131.6h0M172.7 133.1h0M168.4 135.9h0M178.2 132.5h0M187.4 134.4h0M166.7 120.7h0M163.1 122.5h0M197.6 121.6h0M149.4 122.2h0M172.6 136.2h0M160.7 124.8h0M183.4 129.9h0M183.9 125.4h0M178.6 126.6h0M186.3 124.7h0M173.2 133.5h0M154.2 122.7h0M191.9 131.7h0M180.5 123.9h0M175.6 124.2h0M179.1 129.5h0M181.4 128.4h0M168.0 130.0h0M174.4 127.5h0M178.2 136.2h0M196.9 132.9h0M157.9 124.2h0M174.4 135.8h0M163.6 135.9h0M176.8 130.3h0M175.3 120.3h0M182.2 132.4h0M179.6 128.6h0M194.1 126.3h0M160.9 134.1h0M175.1 133.7h0M157.2 135.8h0M181.9 129.5h0M193.8 129.3h0M188.9 126.8h0M178.3 129.6h0M143.9 132.5h0M159.4 130.5h0M164.9 133.5h0M164.9 123.9h0M197.6 129.6h0M161.1 127.3h0M198.2 127.9h0M158.1 132.4h0M187.6 134.6h0M203.9 131.9h0M166.1 121.3h0M181.1 125.6h0M157.6 136.2h0M184.4 128.3h0M143.9 125.7h0M173.1 129.9h0M183.0 124.0h0M180.0 121.1h0M187.7 131.6h0M191.4 135.8h0M164.6 121.8h0M174.6 133.2h0M176.6 128.1h0M194.5 133.8h0M180.7 129.3h0M159.0 121.7h0M186.2 127.1h0M183.5 127.7h0M183.2 128.3h0M185.5 126.9h0M187.1 130.6h0M169.5 135.2h0M178.0 127.4h0M179.4 126.1h0M149.1 120.4h0M189.0 130.5h0M181.2 132.6h0M155.5 134.1h0M147.8 130.2h0M166.1 126.0h0M173.3 125.8h0M163.1 131.0h0M188.9 120.6h0M165.0 123.4h0M157.5 132.0h0M167.7 132.0h0M207.7 123.0h0M198.8 125.7h0M194.3 128.0h0M198.9 126.3h0M177.5 135.7h0M203.6 129.7h0M137.3 127.2h0M186.9 127.4h0M150.0 135.9h0M179.9 122.3h0M184.9 129.0h0M161.3 127.9h0M145.8 123.8h0M158.8 130.7h0M178.6 133.7h0M205.4 124.2h0M159.1 132.3h0M168.5 134.0h0M154.1 134.8h0M160.9 127.5h0M198.0 122.5h0M196.0 132.5h0M161.4 134.1h0M157.4 126.2h0M193.6 121.1h0M164.1 126.5h0M171.9 135.1h0M163.0 134.0h0M172.5 133.4h0M138.2 129.1h0M185.5 129.8h0M153.0 121.1h0M165.6 127.9h0M154.1 123.5h0M160.2 123.8h0M196.8 128.6h0M190.3 123.8h0M173.7 129.3h0M184.9 120.3h0M193.4 131.3h0M162.5 129.6h0M176.1 126.2h0M197.7 124.1h0M168.1 130.6h0M172.3 131.8h0M160.7 130.7h0M179.5 122.4h0M184.0 127.3h0M173.9 131.5h0M156.7 130.6h0M149.6 125.1h0M165.6 123.2h0M186.0 134.6h0M153.3 124.0h0M165.8 132.6h0M160.1 122.3h0M154.6 122.2h0M178.1 131.8h0M153.1 123.1h0M159.3 130.9h0M177.6 122.0h0M190.3 125.4h0M193.8 123.9h0M151.8 135.7h0M148.0 128.0h0M167.4 121.6h0M158.3 134.4h0M162.5 125.8h0M174.6 123.4h0M186.8 128.9h0M197.7 122.3h0M147.3 131.3h0M161.6 129.7h0M144.2 132.2h0M193.0 124.2h0M157.4 122.6h0M137.5 127.1h0M208.4 122.2h0M176.2 125.6h0M174.0 121.3h0M173.0 131.6h0M178.6 122.1h0M192.6 125.5h0M141.1 126.9h0M153.4 128.7h0M163.1 122.3h0M189.8 128.7h0M191.4 123.7h0M178.1 135.4h0M163.8 123.0h0M190.5 134.0h0M172.5 129.8h0M154.9 124.2h0M144.6 129.9h0M184.8 123.3h0M154.1 126.4h0M201.0 128.2h0M174.3 127.7h0M132.7 127.9h0M157.0 134.5h0M165.0 122.8h0M172.9 135.7h0M177.3 124.3h0M147.1 126.8h0M174.0 125.3h0M166.4 121.8h0M174.1 131.2h0M166.2 126.7h0M166.0 125.8h0M177.2 129.4h0M181.6 136.0h0M184.9 127.7h0M179.3 128.0h0M167.8 129.3h0M177.1 126.2h0M174.6 130.3h0M160.7 130.8h0M164.3 133.4h0M136.9 131.4h0M200.3 120.8h0M198.6 129.9h0M148.6 125.3h0M185.8 136.0h0M176.5 122.8h0M163.1 123.6h0M159.4 135.7h0M185.9 127.7h0M205.6 122.0h0M176.6 129.0h0M181.0 120.3h0M136.6 122.3h0M184.6 124.3h0M176.8 127.8h0M158.1 126.0h0M163.1 132.1h0M173.5 123.2h0M149.7 129.6h0M162.1 135.8h0M160.7 131.8h0M162.1 128.8h0M176.3 129.3h0M173.2 128.9h0M179.0 131.1h0M176.5 128.7h0M198.3 132.7h0M189.1 124.0h0M158.7 126.6h0M144.3 129.0h0M160.8 122.2h0M168.6 134.9h0M154.7 123.1h0M165.8 129.1h0M148.2 132.0h0M163.8 120.3h0M174.6 125.5h0M161.6 132.6h0M181.7 122.5h0M203.7 132.7h0M173.6 126.7h0M211.0 128.9h0M162.8 127.2h0M164.1 120.8h0M165.8 126.1h0M182.3 125.2h0M165.2 128.3h0M150.3 122.6h0M175.6 134.0h0M164.0 133.2h0M182.4 122.4h0M166.9 132.3h0M173.2 135.7h0M183.5 123.6h0M163.1 129.7h0M162.3 126.1h0M189.2 127.4h0M159.2 134.5h0M147.7 122.5h0M152.0 131.5h0M179.3 121.3h0M176.2 125.2h0M192.1 132.3h0M164.1 127.3h0M162.8 121.3h0M153.3 132.3h0M146.4 130.4h0M190.3 129.5h0M158.6 126.5h0M187.5 132.3h0M155.4 121.1h0M166.7 130.4h0M174.0 127.6h0M174.0 125.3h0M164.0 121.3h0M153.7 133.3h0M203.1 130.9h0M151.6 126.7h0M189.9 133.4h0M152.7 120.5h0M191.4 126.8h0M189.1 135.6h0M168.1 134.5h0M177.8 132.7h0M182.1 129.8h0M175.6 129.2h0M161.4 121.6h0M154.5 135.0h0M130.5 132.2h0M182.6 134.8h0M150.7 127.9h0M167.2 133.3h0M187.4 126.3h0M156.3 134.0h0M175.5 122.2h0M146.5 131.2h0M191.7 125.5h0M188.8 132.7h0M163.6 133.4h0M159.7 121.8h0M151.2 133.6h0M158.1 135.8h0M176.9 121.3h0M151.2 131.4h0M179.7 129.7h0M167.2 124.1h0M167.0 127.5h0M161.7 125.8h0M188.8 122.0h0M188.9 131.0h0M174.0 132.6h0M173.7 124.9h0M156.1 128.5h0M160.6 133.8h0M162.8 133.1h0M159.6 122.7h0M168.2 135.4h0M148.0 127.1h0M177.8 129.8h0M175.6 122.2h0M166.1 128.4h0M168.0 125.4h0M144.9 120.5h0M146.8 121.2h0M205.2 122.8h0M192.7 121.2h0M195.8 131.6h0M183.6 127.5h0M183.4 128.7h0M180.3 128.5h0M165.8 133.6h0M191.1 129.9h0M144.5 130.7h0M185.4 122.4h0M195.0 124.9h0M184.1 134.7h0M165.0 124.0h0M157.1 123.9h0M166.3 127.9h0M147.1 133.5h0M164.6 124.8h0M177.7 131.5h0M173.5 126.1h0M149.3 134.0h0M178.7 123.6h0M157.9 131.1h0M155.8 131.1h0M177.5 120.3h0M167.6 130.0h0M196.7 134.5h0M159.5 130.5h0M178.1 130.5h0M167.0 135.6h0M185.1 131.3h0M164.9 131.3h0M183.6 123.0h0M176.9 121.1h0M171.8 133.6h0M187.9 126.8h0M156.1 125.4h0M178.7 123.6h0M197.3 121.2h0M181.5 124.1h0M160.1 126.6h0M161.6 125.9h0M164.8 131.8h0M198.5 125.7h0M153.7 124.6h0M188.3 133.5h0M157.1 124.6h0M176.7 131.7h0M198.7 120.8h0M183.9 121.6h0M148.7 132.6h0M193.2 122.8h0M151.1 123.5h0M179.2 128.7h0M144.6 120.8h0M151.8 123.8h0M188.4 133.3h0M186.7 125.7h0M199.2 131.7h0M152.8 128.9h0M194.1 134.6h0M153.5 123.8h0M165.7 130.8h0M162.0 128.3h0M173.9 134.6h0M179.7 136.2h0M178.1 129.0h0M179.4 124.8h0M146.4 122.9h0M184.2 127.1h0M176.4 129.8h0M192.7 133.2h0M151.2 129.7h0M206.8 125.9h0M168.5 133.7h0M158.3 121.2h0M185.6 121.6h0M164.5 126.7h0M153.1 134.1h0M173.3 124.7h0M158.9 120.6h0M194.4 135.5h0M184.1 134.2h0M150.9 125.9h0M151.0 133.1h0M176.5 129.0h0M161.2 120.9h0M161.6 131.6h0M177.3 132.7h0M180.7 135.7h0M162.4 135.8h0M150.1 133.0h0M165.6 120.2h0M138.6 132.2h0M166.0 128.2h0M156.5 132.0h0M191.4 132.4h0M188.6 136.2h0M173.6 134.6h0M182.4 126.7h0M186.0 121.5h0M177.3 130.5h0M182.6 127.7h0M166.8 124.7h0M168.0 134.6h0M186.1 130.3h0M163.9 129.6h0M152.8 127.8h0M146.6 128.6h0M163.6 123.9h0M155.1 123.9h0M156.5 122.3h0M192.6 129.6h0M182.0 125.9h0M174.8 122.1h0M159.1 126.6h0M150.3 129.8h0M175.1 120.9h0M142.2 122.4h0M154.6 130.3h0M157.5 125.3h0M156.3 129.6h0M132.5 130.2h0M152.4 134.9h0M152.1 124.4h0M181.9 135.0h0M200.6 121.8h0M158.8 131.8h0M159.0 135.2h0M148.4 134.4h0M196.1 121.2h0M157.0 126.4h0M150.4 121.1h0M173.9 130.8h0M188.8 136.0h0M196.4 125.0h0M157.4 122.7h0M196.1 134.3h0M152.5 135.6h0M178.0 122.9h0M156.1 130.3h0M173.3 133.8h0M197.7 122.7h0M144.4 134.5h0M174.8 130.7h0M164.9 124.1h0M165.5 134.7h0M163.8 127.1h0M186.2 131.1h0M159.5 132.3h0M160.3 126.8h0M154.1 128.0h0M148.0 130.8h0M160.6 130.0h0M154.0 125.5h0M167.0 129.8h0M152.9 120.3h0M168.6 133.6h0M148.9 123.6h0M186.8 136.1h0M147.9 135.9h0M164.0 123.2h0M201.2 127.8h0M156.0 124.9h0M155.4 132.7h0M179.6 122.5h0M157.6 124.7h0M145.1 128.7h0M187.7 129.7h0M179.3 135.0h0M184.4 130.0h0M181.5 131.7h0M214.5 123.2h0M155.6 121.5h0M166.3 135.6h0M163.6 134.3h0M150.2 124.6h0M151.6 132.7h0M166.7 132.2h0M175.2 130.9h0M175.7 124.8h0M187.7 131.1h0M172.7 134.8h0M187.7 130.6h0M185.4 129.3h0M159.7 131.7h0M198.5 128.7h0M165.2 134.2h0M164.1 122.0h0M150.3 124.8h0M165.4 131.5h0M153.9 121.4h0M150.3 135.7h0M152.9 123.9h0M181.4 124.3h0M174.0 122.3h0M178.2 129.7h0M167.4 122.8h0M168.6 130.7h0M164.8 131.6h0M176.0 120.4h0M184.7 126.7h0M175.9 123.4h0M144.3 120.9h0M192.1 120.6h0M184.3 122.0h0M174.5 124.0h0M201.5 120.9h0M165.8 121.8h0M158.8 124.5h0M178.3 126.7h0M163.2 129.9h0M184.0 120.8h0M181.4 129.0h0M183.6 122.3h0M157.3 129.1h0M147.0 131.6h0M210.5 123.1h0M181.4 132.4h0M174.1 120.8h0M165.6 120.5h0M152.9 134.6h0M150.7 131.9h0M164.6 135.7h0M175.2 125.6h0M177.3 128.8h0M164.9 126.1h0M160.0 129.2h0M179.6 123.0h0M191.3 134.9h0M166.8 125.8h0M175.8 123.6h0M184.2 122.2h0M177.8 126.7h0M174.2 126.8h0M177.9 131.5h0M195.6 123.8h0M154.6 124.9h0M179.7 127.9h0M183.6 133.5h0M160.2 130.0h0M160.2 126.4h0M159.9 136.1h0M197.9 128.8h0M180.1 133.2h0M167.5 135.0h0M168.7 129.2h0M165.7 135.0h0M182.3 128.7h0M161.8 121.5h0M193.4 123.9h0M184.0 133.9h0M182.1 131.1h0M167.3 134.4h0M166.9 120.2h0M149.7 136.1h0M204.2 132.3h0M184.9 133.0h0M191.3 134.4h0M192.1 129.1h0M156.8 125.2h0M194.1 122.2h0M164.8 133.5h0M161.2 132.7h0M150.5 122.0h0M139.2 120.7h0M127.4 133.4h0M164.3 126.6h0M180.8 134.1h0M181.0 125.4h0M175.5 135.3h0M199.0 133.9h0M138.3 120.9h0M187.5 134.7h0M146.5 127.9h0M166.0 129.9h0M175.0 126.1h0M169.0 135.9h0M202.2 122.7h0M155.7 129.3h0M165.8 128.1h0M188.0 129.8h0M153.1 133.4h0M192.6 131.7h0M186.7 126.3h0M137.4 126.5h0M189.7 132.2h0M191.1 122.1h0M164.1 126.5h0M185.6 131.4h0M179.5 127.9h0M165.6 125.2h0M195.8 129.6h0M159.4 123.7h0M163.1 136.1h0M161.8 121.9h0M153.6 131.9h0M179.6 120.5h0M176.6 127.7h0M165.6 134.5h0M159.7 122.1h0M181.8 120.5h0M179.2 129.7h0M185.8 130.8h0M160.3 130.1h0M160.8 135.6h0M162.2 132.8h0M166.5 128.6h0M159.9 127.7h0M156.9 126.5h0M173.3 125.1h0M179.5 126.9h0M151.4 134.1h0M185.4 129.7h0M185.1 125.3h0M166.3 127.2h0M150.6 132.5h0M178.5 126.7h0M171.8 135.3h0M166.9 131.9h0M138.4 126.3h0M154.1 120.8h0M188.2 123.5h0M179.1 132.7h0M182.8 122.6h0M168.1 126.8h0M162.0 124.5h0M140.5 122.3h0M149.7 126.4h0M161.5 133.4h0M165.4 130.8h0M197.4 131.7h0M155.2 130.4h0M194.5 135.7h0M152.2 124.3h0M156.9 126.3h0M177.2 128.4h0M173.9 120.4h0M184.6 132.8h0M156.5 124.1h0M169.3 135.7h0M192.0 131.6h0M156.2 134.1h0M179.2 121.0h0M184.9 130.5h0M165.5 134.1h0M165.5 128.9h0M159.6 125.5h0M177.5 132.9h0M185.3 130.3h0M199.1 127.1h0M207.3 130.7h0M175.8 131.1h0M148.7 124.5h0M165.6 125.6h0M187.3 133.5h0M151.8 124.0h0M176.6 120.4h0M161.6 134.8h0M192.7 128.9h0M157.2 128.0h0M175.4 131.5h0M182.1 129.7h0M188.3 122.5h0M198.3 132.4h0M157.2 130.4h0M184.3 132.5h0M214.5 124.8h0M189.4 132.3h0M176.9 127.2h0M155.1 125.6h0M164.1 130.0h0M186.6 124.7h0M174.0 130.8h0M164.4 126.0h0M180.4 134.9h0M149.9 134.7h0M159.1 133.8h0M173.0 133.5h0M151.6 126.0h0M156.6 134.2h0M184.6 121.9h0M174.5 132.0h0M166.7 134.7h0M163.3 127.0h0M172.1 133.2h0M181.5 130.6h0M180.1 128.1h0M203.3 126.4h0M165.4 120.5h0M188.3 123.3h0M183.1 136.0h0M192.4 121.1h0M163.1 132.5h0M182.7 133.7h0M190.1 127.0h0M166.9 133.1h0M178.6 122.1h0M174.4 129.9h0M176.2 132.8h0M146.0 121.3h0M166.6 125.5h0M166.3 129.3h0M181.7 131.6h0M155.1 122.3h0M164.9 123.8h0M141.7 121.9h0M145.8 131.9h0M191.9 123.9h0M145.3 121.6h0M204.8 125.7h0M181.6 133.3h0M138.7 121.0h0M162.1 122.8h0M152.2 120.7h0M179.5 125.2h0M153.6 132.3h0M173.4 130.3h0M177.4 123.7h0M156.2 131.7h0M147.1 131.2h0M176.1 121.9h0M165.2 123.1h0M157.8 121.1h0M195.9 127.0h0M162.4 135.6h0M154.1 124.6h0M151.1 132.4h0M162.6 132.0h0M164.1 124.2h0M175.2 123.4h0M161.1 127.0h0M156.1 126.1h0M173.5 126.8h0M193.9 122.4h0M196.5 125.9h0M144.2 126.8h0M157.2 125.2h0M163.6 121.3h0M175.7 121.1h0M166.3 134.9h0M146.4 123.9h0M175.6 130.9h0M158.1 135.5h0M135.8 123.0h0M189.0 133.7h0M162.0 129.9h0M180.3 133.5h0M151.9 132.9h0M162.6 132.6h0M153.7 132.9h0M192.3 123.6h0M192.2 123.3h0M169.6 135.1h0M164.9 124.8h0M151.2 123.9h0M149.5 129.4h0M143.5 135.6h0M144.7 126.3h0M152.9 125.7h0M167.4 129.8h0M186.5 121.1h0M189.8 128.5h0M189.8 127.3h0M148.4 122.3h0M162.5 128.4h0M182.9 128.9h0M174.9 126.5h0M176.1 132.9h0M156.8 129.7h0M168.5 130.5h0M174.3 134.4h0M168.5 136.1h0M183.0 129.7h0M187.5 121.4h0M176.1 121.2h0M183.9 128.3h0M157.2 120.9h0M185.2 123.0h0M145.0 120.6h0M184.3 130.8h0M153.0 129.7h0M198.3 135.1h0M161.0 132.9h0M193.0 127.2h0M183.6 125.6h0M180.5 135.1h0M160.7 129.2h0M165.4 125.3h0M187.1 127.5h0M139.6 122.1h0M165.2 122.3h0M162.0 131.8h0M169.6 134.8h0M185.5 124.8h0M177.6 124.9h0M171.9 134.1h0M160.5 135.8h0M157.9 124.3h0M165.1 128.2h0M181.1 122.4h0M189.6 124.9h0M154.5 125.6h0M194.0 136.1h0M174.5 136.0h0M183.4 125.0h0M178.5 135.9h0M211.2 127.8h0M174.0 126.0h0M163.9 131.9h0M167.3 124.3h0M162.4 134.2h0M174.3 130.2h0M160.3 132.3h0M180.3 128.9h0M162.2 130.1h0M191.8 136.0h0M164.0 124.5h0M189.0 128.9h0M141.6 136.3h0M153.4 132.1h0M186.0 123.0h0M182.4 126.6h0M155.2 125.3h0M175.5 132.9h0M163.6 124.9h0M175.5 127.4h0M194.4 120.6h0M152.3 130.8h0M173.8 122.0h0M177.2 120.8h0M166.5 129.9h0M178.8 132.6h0M149.4 129.2h0M176.4 127.2h0M154.5 129.8h0M188.0 131.8h0M154.4 125.7h0M178.8 120.2h0M158.3 133.5h0M185.6 123.8h0M173.5 132.4h0M153.1 134.3h0M161.2 122.4h0M176.9 129.4h0M196.1 127.6h0M156.6 134.8h0M156.4 126.1h0M162.8 135.3h0M155.8 134.4h0M161.2 136.3h0M175.2 122.8h0M149.0 120.4h0M179.1 124.7h0M159.8 131.5h0M179.2 130.3h0M176.5 131.1h0M174.1 130.8h0M173.6 122.6h0M162.2 132.8h0M190.5 132.0h0M172.5 132.7h0M161.4 133.5h0M164.6 123.8h0M180.6 132.1h0M141.4 130.0h0M158.5 131.7h0M173.7 128.3h0M184.2 130.0h0M183.0 120.4h0M168.4 127.0h0M187.4 132.9h0M156.6 131.2h0M166.4 127.4h0M194.6 129.5h0M178.5 129.8h0M146.3 133.6h0M176.3 131.0h0M184.2 132.8h0M189.8 129.0h0M175.4 127.4h0M205.7 130.1h0M161.2 130.7h0M167.7 132.6h0M157.9 126.6h0M175.0 124.3h0M188.5 131.9h0M186.4 134.6h0M176.8 124.5h0M167.3 131.3h0M166.0 131.4h0M165.3 122.7h0M157.5 127.1h0M184.3 133.6h0M176.0 123.6h0M192.3 132.3h0M179.6 122.0h0M174.0 125.6h0M174.0 133.7h0M189.9 122.5h0M191.5 123.3h0M182.0 130.2h0M148.2 122.0h0M174.6 122.1h0M201.0 121.5h0M145.5 127.5h0M197.2 130.5h0M179.0 122.8h0M189.2 125.8h0M190.0 124.2h0M189.1 135.8h0M190.7 125.7h0M197.3 121.8h0M179.8 124.7h0M159.4 130.3h0M181.2 125.5h0M174.6 126.3h0M177.4 123.9h0M166.5 123.4h0M192.9 120.3h0M179.6 132.5h0M198.3 127.1h0M178.0 135.8h0M149.3 130.5h0M153.2 125.4h0M186.8 122.6h0M176.1 127.0h0M163.1 125.6h0M180.3 122.4h0M139.3 130.4h0M193.8 136.2h0M175.5 126.7h0M193.5 124.5h0M164.1 126.3h0M203.4 122.5h0M161.7 128.1h0M193.9 121.2h0M187.6 126.4h0M148.3 133.2h0M199.3 133.2h0M175.2 129.0h0M156.7 123.8h0M187.3 121.1h0M154.5 134.8h0M152.7 131.7h0M191.8 126.1h0M181.9 121.0h0M155.5 126.7h0M172.7 132.8h0M152.2 136.2h0M144.2 120.7h0M180.8 129.7h0M174.3 123.6h0M156.7 124.9h0M164.9 121.4h0M150.9 123.9h0M154.7 121.0h0M181.4 127.4h0M177.7 129.6h0M169.7 135.7h0M181.4 124.2h0M174.1 134.9h0M190.2 128.7h0M190.2 130.5h0M184.2 132.3h0M175.2 125.6h0M153.0 130.3h0M167.1 122.4h0M173.5 135.0h0M149.8 120.2h0M157.8 132.9h0M167.6 124.1h0M177.8 122.6h0M163.9 127.4h0M177.3 126.3h0M179.7 134.9h0M179.4 120.3h0M204.5 125.7h0M194.4 132.7h0M153.3 127.2h0M166.4 120.9h0M179.1 129.3h0M185.2 131.7h0M134.8 135.4h0M159.9 129.6h0M155.5 135.8h0M179.0 134.1h0M176.9 127.0h0M202.3 135.9h0M152.1 127.8h0M198.5 130.2h0M178.7 129.2h0M154.4 121.1h0M149.7 123.5h0M193.5 123.6h0M158.8 128.4h0M185.3 123.8h0M193.3 135.3h0M154.0 121.2h0M148.8 126.1h0M155.0 130.8h0M183.2 135.2h0M153.5 128.4h0M176.9 123.9h0M180.5 129.3h0M187.3 126.5h0M204.6 127.8h0M154.9 131.5h0M181.4 132.4h0M175.1 129.7h0M138.6 123.2h0M163.3 126.4h0M138.6 121.2h0M163.3 132.4h0M163.7 122.0h0M165.0 124.4h0M157.8 134.2h0M188.5 122.0h0M176.1 128.2h0M179.8 133.4h0M135.3 127.9h0M195.1 133.4h0M174.7 120.8h0M138.1 133.6h0M168.0 126.3h0M140.1 136.2h0M209.7 136.1h0M182.1 127.9h0M160.9 131.2h0M168.1 136.0h0M141.7 132.6h0M185.8 123.9h0M169.6 135.7h0M189.5 122.4h0M188.7 124.5h0M123.5 133.2h0M123.0 127.8h0M182.7 129.3h0M164.9 121.0h0M185.9 128.6h0M165.3 129.0h0M159.4 131.8h0M173.9 136.1h0M181.8 129.8h0M188.8 135.4h0M172.6 136.2h0M192.7 130.9h0M157.1 129.6h0M172.7 136.0h0M169.3 135.0h0M157.3 125.9h0M166.9 132.2h0M146.7 125.9h0M157.3 124.6h0M196.8 127.8h0M191.2 132.0h0M162.4 133.0h0M188.3 135.3h0M134.6 133.8h0M177.2 128.5h0M139.7 123.1h0M168.4 132.0h0M173.3 135.6h0M174.6 133.4h0M150.0 122.1h0M158.2 121.1h0M167.4 122.2h0M159.7 134.8h0M165.6 129.7h0M150.7 136.1h0M158.4 130.5h0M180.0 123.2h0M157.8 133.3h0M180.7 135.6h0M164.0 121.9h0M193.2 125.6h0M161.1 129.4h0M147.6 123.6h0M164.6 126.3h0M161.7 124.7h0M161.5 122.5h0M176.7 125.1h0M121.1 127.4h0M147.7 127.1h0M163.8 123.5h0M141.1 130.8h0M158.9 126.1h0M150.2 132.1h0M155.5 122.2h0M174.7 133.6h0M200.6 133.1h0M199.4 128.2h0M176.3 121.4h0M162.0 125.4h0M141.6 125.7h0M163.7 125.4h0M167.7 132.1h0M190.5 124.4h0M168.3 130.0h0M155.3 124.3h0M158.7 130.3h0M178.3 123.8h0M177.5 126.8h0M167.6 130.6h0M174.2 121.0h0M180.8 124.5h0M177.3 136.0h0M175.7 132.7h0M177.2 132.1h0M182.9 136.3h0M154.3 132.2h0M180.0 128.0h0M131.3 130.1h0M175.1 123.2h0M167.9 127.7h0M188.5 130.9h0M164.2 125.5h0M159.9 124.7h0M179.3 128.6h0M155.2 134.9h0M161.7 133.8h0M167.6 131.6h0M173.2 126.0h0M155.2 133.1h0M169.1 135.6h0M166.0 126.1h0M176.5 134.3h0M172.7 128.3h0M185.0 131.5h0M186.9 124.0h0M139.5 131.7h0M186.4 122.3h0M160.4 122.0h0M161.9 135.8h0M165.9 134.7h0M174.4 123.0h0M176.2 128.6h0M151.8 123.8h0M206.8 132.4h0M144.6 134.1h0M168.9 131.9h0M166.2 135.8h0M162.2 132.4h0M179.1 127.9h0M178.7 135.7h0M162.4 122.6h0M157.8 135.5h0M187.1 121.5h0M173.8 123.9h0M181.2 120.6h0M168.5 133.4h0M146.9 135.3h0M177.8 126.0h0M148.7 121.5h0M176.6 133.1h0M179.8 129.8h0M197.2 133.4h0M151.2 133.4h0M163.4 121.2h0M176.0 125.0h0M174.7 135.6h0M159.0 126.2h0M172.5 134.3h0M205.4 127.8h0M167.8 128.9h0M161.0 125.3h0M185.7 133.9h0M181.2 131.5h0M136.5 120.8h0M135.6 123.3h0M197.8 132.3h0M177.7 124.6h0M180.8 133.4h0M192.9 122.6h0M168.0 125.7h0M177.0 124.0h0M148.6 132.3h0M180.1 132.7h0M162.8 121.9h0M174.9 122.8h0M152.8 127.7h0M165.4 132.6h0M146.9 132.7h0M156.7 133.5h0M184.9 133.0h0M182.6 133.4h0M200.0 131.3h0M167.1 121.8h0M152.0 132.7h0M173.7 131.2h0M174.3 135.2h0M156.5 120.6h0M160.8 120.4h0M186.6 131.2h0M161.2 132.3h0M163.5 127.1h0M179.1 131.4h0M157.2 126.7h0M151.9 127.1h0M174.3 126.7h0M176.5 131.3h0M164.4 134.7h0M174.6 125.5h0M166.7 126.0h0M162.4 127.1h0M173.0 130.4h0M162.7 134.6h0M164.0 125.3h0M187.1 126.7h0M161.5 121.0h0M165.2 123.8h0M201.5 135.8h0M172.8 132.8h0M149.9 122.3h0M157.2 127.9h0M158.7 121.0h0M174.6 128.5h0M182.4 132.0h0M178.3 121.0h0M157.2 127.3h0M161.8 121.3h0M177.5 132.4h0M193.9 132.9h0M154.7 125.4h0M182.3 135.4h0M165.0 135.6h0M190.0 127.1h0M191.4 135.0h0M163.3 128.3h0M194.7 130.8h0M182.5 135.5h0M182.9 120.3h0M162.0 132.7h0M172.8 134.9h0M185.0 128.0h0M174.2 121.9h0M172.5 130.5h0M163.5 129.1h0M147.4 129.6h0M167.3 133.0h0M159.7 126.4h0M179.6 133.5h0M161.5 131.4h0M150.5 129.7h0M156.4 134.1h0M168.0 134.2h0M176.8 129.1h0M160.4 125.1h0M148.6 124.3h0M185.6 130.7h0M166.2 126.6h0M167.6 126.0h0M160.4 128.0h0M191.2 121.4h0M144.5 127.6h0M181.5 131.3h0M151.8 125.3h0M184.5 135.6h0M201.1 121.1h0M174.1 134.6h0M185.6 127.6h0M140.1 133.1h0M177.6 121.0h0M162.7 135.7h0M180.3 135.8h0M188.5 123.1h0M191.9 131.9h0M153.4 134.4h0M184.1 128.2h0M168.1 125.3h0M193.9 124.5h0M174.6 132.2h0M175.7 120.7h0M191.3 132.6h0M166.3 131.0h0M190.8 131.8h0M155.2 130.5h0M158.9 129.3h0M156.4 127.4h0M181.1 130.6h0M154.3 130.5h0M179.7 136.2h0M155.8 126.9h0M162.4 136.1h0M192.2 130.5h0M176.5 127.8h0M173.2 135.0h0M185.5 127.9h0M148.7 121.2h0M150.9 128.8h0M179.9 129.8h0M174.2 132.5h0M191.8 130.2h0M167.2 126.2h0M174.4 131.8h0M179.7 128.5h0M166.5 129.6h0M158.4 134.0h0M160.5 120.7h0M183.3 132.3h0M164.8 129.7h0M162.9 129.5h0M184.8 130.2h0M174.2 129.0h0M182.5 132.0h0M147.9 123.2h0M184.9 120.5h0M189.7 133.8h0M186.1 126.5h0M195.0 124.2h0M175.0 130.5h0M137.0 126.2h0M156.1 129.1h0M166.6 125.9h0M157.3 122.6h0M144.3 128.4h0M183.2 131.2h0M174.8 129.3h0M179.4 123.9h0M179.0 133.1h0M148.2 130.6h0M151.0 131.0h0M194.0 124.3h0M177.3 123.9h0M194.5 134.5h0M191.3 123.2h0M152.2 128.8h0M156.8 128.0h0M188.0 128.9h0M193.8 123.6h0M165.7 135.3h0M174.8 121.9h0M173.2 135.3h0M167.6 123.3h0M171.9 135.4h0M167.5 125.3h0M193.6 135.0h0M145.4 122.9h0M146.3 129.0h0M188.9 121.0h0M167.3 126.6h0M154.1 121.9h0M159.9 128.2h0M164.2 131.5h0M154.7 130.6h0M174.9 124.6h0M165.4 129.6h0M153.6 122.5h0M177.6 132.6h0M173.9 133.4h0M200.6 121.3h0M174.2 129.0h0M175.3 131.5h0M182.1 134.3h0M161.6 131.7h0M149.4 129.3h0M158.3 122.0h0M188.0 124.2h0M161.1 133.7h0M160.1 126.6h0M178.5 129.9h0M182.6 134.5h0M179.9 124.2h0M148.9 126.0h0M177.2 129.9h0M190.9 130.5h0M173.3 124.4h0M177.6 122.6h0M180.8 120.8h0M168.4 134.6h0M139.0 130.4h0M139.6 125.5h0M183.0 134.2h0M186.0 131.2h0M161.8 135.8h0M179.8 127.8h0M138.5 133.6h0M164.9 126.0h0M185.1 123.8h0M173.1 125.8h0M172.4 132.2h0M157.2 125.5h0M189.7 134.0h0M161.6 133.5h0M157.7 132.8h0M174.1 128.7h0M171.9 134.1h0M156.8 134.3h0M202.6 125.1h0M183.2 120.5h0M167.1 134.5h0M186.3 125.1h0M163.6 125.1h0M157.9 122.2h0M165.8 126.7h0M140.5 120.5h0M178.8 126.5h0M156.4 121.8h0M151.3 123.8h0M155.3 126.2h0M163.6 129.5h0M159.0 123.0h0M177.2 129.0h0M156.5 123.2h0M183.8 135.1h0M145.3 125.0h0M182.8 133.6h0M180.2 135.6h0M192.3 132.3h0M149.2 128.7h0M165.6 123.1h0M182.7 132.3h0M158.4 130.6h0M186.4 127.6h0M164.3 127.0h0M201.7 127.9h0M155.0 121.7h0M174.8 133.0h0M135.5 135.6h0M179.2 122.7h0M130.5 120.9h0M174.7 122.4h0M166.7 130.0h0M175.1 129.8h0M161.2 127.3h0M163.4 121.9h0M182.8 124.2h0M174.8 131.0h0M204.3 133.2h0M166.3 129.1h0M184.3 130.4h0M181.1 130.1h0M165.1 134.3h0M160.7 127.2h0M149.5 123.2h0M126.8 126.0h0M178.9 135.1h0M166.6 129.2h0M175.3 135.0h0M183.7 123.6h0M189.5 129.9h0M182.4 131.6h0M160.7 127.8h0M174.9 120.3h0M164.3 135.2h0M180.3 128.5h0M146.0 120.4h0M147.8 128.2h0M164.6 134.6h0M148.3 130.7h0M176.3 129.0h0M206.4 135.3h0M161.4 121.7h0M182.2 129.3h0M180.6 123.6h0M143.2 120.8h0M174.9 126.4h0M157.5 135.7h0M167.5 135.2h0M182.2 135.2h0M145.5 128.9h0M215.3 127.8h0M143.9 135.9h0M186.5 127.1h0M168.2 130.6h0M174.0 134.5h0M149.4 132.3h0M156.0 135.0h0M178.0 129.0h0M161.9 125.7h0M156.8 122.6h0M197.8 122.2h0M176.8 135.5h0M186.5 131.4h0M160.8 127.1h0M150.6 128.5h0M168.5 135.9h0M161.2 129.6h0M173.1 127.9h0M159.5 135.7h0M147.1 126.6h0M159.8 122.2h0M179.2 126.5h0M153.3 129.8h0M160.4 134.7h0M168.8 136.2h0M167.3 134.9h0M186.8 121.9h0M160.5 123.5h0M163.8 133.0h0M154.0 123.1h0M148.0 125.0h0M136.1 135.6h0M150.2 135.3h0M166.2 127.1h0M182.6 125.9h0M175.6 128.9h0M167.2 122.5h0M162.7 129.5h0M183.4 134.1h0M185.7 126.4h0M155.3 120.2h0M155.2 124.4h0M162.6 130.1h0M188.6 131.7h0M175.6 125.2h0M156.9 135.2h0M158.0 133.1h0M174.9 130.7h0M160.2 121.3h0M159.6 125.8h0M174.0 123.2h0M180.9 132.2h0M180.9 134.7h0M163.7 128.3h0M151.8 133.9h0M154.7 127.4h0M166.2 131.2h0M162.2 122.3h0M176.7 121.9h0M151.1 124.3h0M152.4 122.9h0M163.6 125.5h0M142.4 129.6h0M185.5 131.9h0M154.5 136.2h0M192.3 124.2h0M133.6 124.3h0M198.1 126.3h0M145.0 121.6h0M153.7 122.5h0M167.6 123.1h0M184.9 123.3h0M167.4 120.7h0M160.9 123.3h0M161.7 121.8h0M169.3 134.1h0M185.1 131.3h0M173.7 121.9h0M160.5 121.5h0M189.0 135.4h0M182.5 121.6h0M191.9 130.4h0M190.1 126.1h0M162.0 134.0h0M172.1 133.9h0M154.3 134.1h0M172.9 134.6h0M188.0 133.2h0M175.1 123.0h0M144.1 126.3h0M163.6 123.6h0M164.2 123.2h0M154.7 135.3h0M160.3 135.7h0M150.1 130.8h0M197.9 121.7h0M181.8 128.8h0M166.2 122.6h0M158.3 132.2h0M154.8 134.2h0M153.2 124.7h0M163.8 132.8h0M161.3 125.4h0M168.6 135.3h0M179.5 136.2h0M194.2 129.1h0M163.7 123.0h0M198.8 133.1h0M199.7 126.1h0M153.9 133.1h0M163.3 127.6h0M195.4 126.3h0M175.6 131.5h0M147.8 125.0h0M152.0 124.7h0M158.4 133.2h0M156.2 127.2h0M175.3 127.6h0M179.1 133.6h0M150.5 132.3h0M173.7 121.5h0M166.5 134.4h0M148.1 133.8h0M155.8 131.2h0M190.3 124.6h0M148.5 125.6h0M196.0 133.1h0M168.0 128.5h0M181.8 122.6h0M166.8 136.2h0M164.2 126.0h0M176.4 133.0h0M153.2 121.8h0M161.2 123.7h0M165.5 126.1h0M164.3 131.5h0M156.7 130.3h0M160.0 130.3h0M152.0 133.4h0M159.0 134.6h0M186.0 133.4h0M180.0 129.7h0M160.3 134.9h0M161.8 135.6h0M150.3 129.9h0M173.1 132.5h0M191.3 134.4h0M149.3 121.9h0M163.3 127.8h0M139.8 132.7h0M187.8 132.6h0M153.2 131.5h0M177.6 120.3h0M183.8 129.2h0M140.8 129.6h0M169.0 131.6h0M156.7 131.8h0M180.3 135.3h0M160.8 136.2h0M178.2 129.5h0M153.1 122.9h0M165.2 134.1h0M163.9 126.8h0M172.5 132.0h0M157.4 131.9h0M155.5 120.7h0M178.1 124.5h0M137.4 132.2h0M156.5 124.1h0M182.2 127.4h0M188.1 136.1h0M164.1 122.3h0M145.2 123.8h0M140.2 129.0h0M162.2 128.9h0M158.0 120.9h0M178.8 133.3h0M176.9 125.6h0M174.4 125.8h0M185.7 121.0h0M156.1 136.0h0M183.2 130.7h0M192.6 123.8h0M181.0 133.7h0M176.8 132.3h0M175.6 126.5h0M181.8 120.6h0M181.9 136.0h0M142.7 131.3h0M145.3 120.9h0M164.8 135.0h0M158.9 125.4h0M157.6 129.9h0M180.7 120.7h0M176.3 133.4h0M207.7 128.5h0M158.5 133.9h0M182.6 132.8h0M162.6 134.4h0M150.9 122.1h0M190.8 134.2h0M167.0 123.8h0M158.9 132.5h0M177.9 132.9h0M165.0 134.6h0M152.5 125.3h0M201.2 126.2h0M140.4 129.5h0M190.7 122.2h0M181.6 130.1h0M187.3 124.5h0M174.3 125.1h0M175.2 135.5h0M195.8 124.2h0M173.2 131.8h0M214.2 123.9h0M164.8 127.7h0M185.7 131.5h0M165.0 120.7h0M177.0 122.4h0M154.4 131.2h0M168.2 131.8h0M173.0 132.1h0M182.5 133.7h0M184.0 129.5h0M167.9 128.8h0M178.9 124.4h0M169.0 131.5h0M184.8 129.4h0M174.0 130.4h0M179.9 130.9h0M155.4 133.0h0M160.1 134.1h0M161.0 127.0h0M163.3 124.5h0M186.2 131.5h0M141.9 121.9h0M151.7 135.4h0M160.5 122.6h0M150.6 123.7h0M203.2 127.6h0M184.8 122.0h0M179.5 135.0h0M165.3 135.1h0M179.0 132.3h0M159.4 134.2h0M176.9 132.7h0M191.2 126.2h0M169.0 132.0h0M161.2 130.8h0M151.8 127.3h0M176.5 125.4h0M153.9 128.6h0M193.9 131.2h0M179.8 120.7h0M162.8 120.4h0M166.6 121.1h0M153.5 122.2h0M177.3 135.9h0M175.0 124.2h0M175.3 133.2h0M182.4 132.2h0M165.8 120.7h0M161.1 125.7h0M173.8 128.9h0M165.4 128.7h0M162.3 133.6h0M175.1 122.8h0M179.3 132.2h0M181.7 130.0h0M177.3 125.1h0M167.4 127.7h0M151.3 127.4h0M160.7 135.8h0M173.7 131.1h0M168.4 130.8h0M166.4 120.3h0M161.2 127.4h0M175.7 135.7h0M180.6 125.7h0M186.5 130.4h0M162.8 135.0h0M175.8 129.1h0M160.6 123.0h0M178.2 120.5h0M167.4 135.5h0M147.3 129.1h0M165.3 132.2h0M166.8 133.3h0M166.4 123.5h0M161.1 122.7h0M184.7 128.4h0M135.3 127.7h0M175.2 128.6h0M154.0 134.2h0M180.2 120.3h0M179.4 122.7h0M174.3 125.4h0M194.4 122.9h0M173.8 136.2h0M153.3 131.5h0M141.4 121.5h0M181.8 120.3h0M150.1 122.6h0M172.5 133.3h0M183.9 126.8h0M176.9 131.2h0M183.5 127.8h0M183.5 121.9h0M207.5 135.5h0M157.3 134.4h0M166.5 129.2h0M173.0 129.9h0M202.0 121.3h0M152.1 130.6h0M175.2 126.0h0M187.4 135.8h0M181.7 129.9h0M175.3 132.0h0M155.5 132.3h0M153.2 134.5h0M151.1 123.4h0M163.4 132.0h0M161.4 135.1h0M190.8 132.0h0M156.6 122.6h0M157.9 129.7h0M165.0 122.0h0M175.4 121.8h0M208.6 127.4h0M184.8 130.4h0M164.3 127.2h0M176.1 127.7h0M165.2 135.0h0M156.8 123.8h0M149.8 123.9h0M194.3 122.7h0M160.5 128.7h0M164.2 123.1h0M177.1 122.4h0M146.6 128.5h0M154.8 120.7h0M201.4 124.1h0M188.7 134.8h0M166.4 123.3h0M149.3 133.7h0M180.4 126.8h0M183.9 130.1h0M185.4 130.3h0M164.6 131.0h0M156.6 123.6h0M195.5 135.4h0M179.8 129.5h0M181.7 133.6h0M153.5 122.6h0M175.3 122.5h0M157.4 131.8h0M151.2 126.8h0M204.6 126.4h0M177.1 121.1h0M150.7 122.1h0M135.8 129.6h0M181.2 133.9h0M193.5 134.7h0M139.9 123.7h0M166.8 122.8h0M197.6 134.2h0M153.6 130.0h0M165.0 129.6h0M189.9 130.7h0M175.6 125.1h0M175.7 125.5h0M141.7 123.5h0M186.0 133.7h0M160.4 125.3h0M157.3 133.7h0M142.5 123.6h0M147.8 134.4h0M175.2 122.8h0M166.5 134.0h0M155.8 133.3h0M164.1 131.1h0M136.7 130.4h0M147.0 135.4h0M163.6 121.0h0M175.8 126.1h0M166.8 130.5h0M146.9 133.7h0M179.6 130.9h0M191.8 131.6h0M178.4 135.2h0M192.0 129.8h0M173.4 127.0h0M165.0 127.4h0M172.9 128.6h0M169.1 134.7h0M183.1 123.5h0M175.0 128.0h0M154.5 131.7h0M156.7 122.3h0M189.4 134.8h0M183.1 124.7h0M160.7 121.4h0M196.8 126.0h0M174.2 122.3h0M137.6 134.5h0M178.7 133.9h0M172.5 135.3h0M155.2 134.7h0M166.9 133.8h0M214.7 124.8h0M205.0 132.7h0M148.8 122.1h0M151.5 133.4h0M154.7 125.9h0M153.3 133.7h0M153.4 134.9h0M135.6 131.3h0M179.7 120.5h0M173.9 125.2h0M190.8 132.2h0M184.4 124.0h0M181.4 134.7h0M198.4 123.8h0M168.4 131.7h0M164.1 120.3h0M180.4 124.1h0M167.9 130.8h0M140.4 133.3h0M180.9 131.3h0M188.5 135.9h0M150.6 134.8h0M179.5 128.9h0M155.3 128.5h0M181.6 127.5h0M165.7 122.0h0M153.3 134.1h0M133.3 133.0h0M182.3 127.1h0M189.1 122.1h0M166.9 124.7h0M175.0 120.6h0M190.6 123.8h0M150.9 121.4h0M207.9 123.3h0M157.4 122.5h0M175.0 128.4h0M168.1 130.7h0M159.0 135.6h0M147.7 122.5h0M143.0 121.1h0M174.6 131.4h0M162.5 133.1h0M182.1 127.3h0M181.3 120.5h0M151.1 130.4h0M155.4 136.2h0M144.1 124.8h0M156.7 131.0h0M180.4 129.0h0M191.2 135.9h0M168.0 131.2h0M160.5 128.2h0M162.9 129.0h0M164.4 131.4h0M139.0 121.9h0M172.0 134.0h0M185.5 128.9h0M177.3 122.8h0M159.4 134.1h0M177.6 135.0h0M151.4 125.0h0M180.2 122.4h0M164.3 133.2h0M150.0 128.9h0M157.5 125.1h0M187.2 121.8h0M154.2 132.5h0M171.6 135.0h0M154.7 123.0h0M184.6 134.5h0M183.1 123.0h0M158.8 128.9h0M164.0 134.2h0M162.7 127.6h0M174.3 133.8h0M196.2 130.5h0M158.4 134.7h0M161.6 125.4h0M161.4 123.0h0M206.4 134.0h0M178.1 131.1h0M173.2 128.9h0M161.0 128.9h0M154.9 123.3h0M176.8 129.1h0M166.7 130.4h0M192.3 127.5h0M142.9 129.9h0M150.1 121.8h0M158.6 129.7h0M205.5 127.4h0M192.7 136.0h0M171.8 135.2h0M144.8 121.9h0M185.7 121.8h0M159.5 130.5h0M157.6 133.5h0M154.9 129.4h0M165.3 122.3h0M175.4 123.0h0M125.0 127.5h0M193.6 131.0h0M137.1 134.7h0M151.0 125.2h0M185.6 123.4h0M163.8 131.6h0M167.8 132.3h0M191.7 132.7h0M191.6 126.0h0M182.0 122.5h0M168.2 126.1h0M165.0 130.5h0M187.2 130.4h0M196.3 121.6h0M195.9 131.4h0M157.9 132.8h0M188.4 125.9h0M187.2 121.0h0M188.3 133.8h0M183.6 132.5h0M182.9 126.7h0M186.4 132.7h0M198.8 135.8h0M186.7 126.0h0M167.1 123.2h0M201.1 129.5h0M162.1 125.6h0M186.0 124.3h0M181.6 124.8h0M188.9 127.4h0M167.0 129.3h0M161.3 125.7h0M175.6 121.0h0M179.1 131.5h0M180.4 123.6h0M175.5 130.8h0M183.9 128.2h0M164.7 122.3h0M196.7 120.8h0M156.8 129.0h0M173.4 131.3h0M178.6 128.6h0M178.6 127.7h0M189.4 120.6h0M160.2 125.8h0M179.4 135.4h0M163.6 125.6h0M161.4 125.0h0M150.0 135.1h0M189.8 122.9h0M155.5 123.9h0M220.0 134.1h0M128.5 120.4h0M176.0 131.1h0M173.9 131.4h0M176.0 133.2h0M166.2 124.1h0M165.0 127.8h0M189.0 130.0h0M161.1 131.8h0M191.9 127.4h0M152.7 133.1h0M154.8 135.9h0M189.4 126.7h0M164.5 130.3h0M193.0 123.3h0M151.7 131.9h0M188.0 120.9h0M178.2 131.2h0M155.0 133.6h0M156.6 125.1h0M162.4 133.9h0M145.7 132.1h0M173.1 130.4h0M188.2 123.0h0M173.9 134.2h0M158.5 122.7h0M161.6 132.5h0M188.0 120.4h0M189.7 120.2h0M173.7 126.9h0M166.3 129.1h0M198.5 128.2h0M175.1 131.8h0M162.7 135.1h0M161.8 128.7h0M163.5 123.3h0M187.3 127.9h0M187.2 122.2h0M197.6 134.7h0M164.5 127.9h0M169.6 135.9h0M168.4 128.3h0M179.8 123.8h0M163.5 135.5h0M166.8 135.9h0M187.1 127.1h0M159.7 132.2h0M200.5 131.0h0M148.9 130.8h0M161.3 134.6h0M166.6 128.7h0M175.8 121.4h0M176.0 122.9h0M181.0 125.8h0M192.8 123.1h0M140.6 134.8h0M161.9 133.6h0M162.9 132.5h0M166.8 124.2h0M159.9 136.2h0M140.3 122.3h0M183.2 135.6h0M162.1 134.0h0M167.2 121.4h0M174.2 126.7h0M167.2 126.3h0M189.0 130.6h0M159.3 127.0h0M175.2 128.8h0M201.3 125.4h0M186.6 132.8h0M167.4 124.5h0M176.5 130.3h0M181.1 128.4h0M161.7 130.7h0M181.6 121.2h0M179.3 132.0h0M173.5 129.4h0M163.2 127.3h0M166.1 132.5h0M177.1 134.5h0M141.4 124.8h0M167.5 134.1h0M178.9 126.7h0M182.5 135.7h0M162.0 130.9h0M190.9 125.6h0M191.4 132.6h0M190.7 131.8h0M166.2 125.8h0M147.7 127.6h0M175.6 133.4h0M181.2 134.6h0M184.9 126.9h0M174.1 134.4h0M181.7 124.1h0M142.3 125.3h0M156.6 128.1h0M163.1 136.2h0M175.3 126.5h0M158.1 131.8h0M113.2 128.8h0M118.5 124.3h0M223.6 131.3h0M226.2 128.8h0M220.9 125.0h0M217.3 130.6h0M122.1 132.5h0" stroke="#000" stroke-width="3.2" stroke-linecap="round" fill="none"/>
<circle cx="255.20" cy="12.90" r="1.6" fill="#e8392e" stroke="none" stroke-width="1"/>
<line x1="63.70" y1="10.00" x2="63.70" y2="136.80" stroke="#2a2a2a" stroke-width="1.2"/>
<line x1="63.20" y1="136.30" x2="279.80" y2="136.30" stroke="#2a2a2a" stroke-width="1.2"/>
<line x1="61.30" y1="10.50" x2="63.70" y2="10.50" stroke="#000" stroke-width="1"/>
<text x="60.20" y="14.50" font-size="11.2" text-anchor="end" fill="#000">10</text>
<line x1="61.30" y1="73.40" x2="63.70" y2="73.40" stroke="#000" stroke-width="1"/>
<text x="60.20" y="77.40" font-size="11.2" text-anchor="end" fill="#000">5</text>
<line x1="61.30" y1="136.30" x2="63.70" y2="136.30" stroke="#000" stroke-width="1"/>
<text x="60.20" y="140.30" font-size="11.2" text-anchor="end" fill="#000">0</text>
<line x1="62.90" y1="136.30" x2="62.90" y2="139.30" stroke="#000" stroke-width="1"/>
<text x="62.00" y="151.60" font-size="11.2" text-anchor="middle" fill="#000">-6</text>
<line x1="98.80" y1="136.30" x2="98.80" y2="139.30" stroke="#000" stroke-width="1"/>
<text x="97.90" y="151.60" font-size="11.2" text-anchor="middle" fill="#000">-4</text>
<line x1="134.70" y1="136.30" x2="134.70" y2="139.30" stroke="#000" stroke-width="1"/>
<text x="133.80" y="151.60" font-size="11.2" text-anchor="middle" fill="#000">-2</text>
<line x1="170.60" y1="136.30" x2="170.60" y2="139.30" stroke="#000" stroke-width="1"/>
<text x="170.60" y="151.60" font-size="11.2" text-anchor="middle" fill="#000">0</text>
<line x1="206.50" y1="136.30" x2="206.50" y2="139.30" stroke="#000" stroke-width="1"/>
<text x="206.50" y="151.60" font-size="11.2" text-anchor="middle" fill="#000">2</text>
<line x1="242.40" y1="136.30" x2="242.40" y2="139.30" stroke="#000" stroke-width="1"/>
<text x="242.40" y="151.60" font-size="11.2" text-anchor="middle" fill="#000">4</text>
<line x1="278.30" y1="136.30" x2="278.30" y2="139.30" stroke="#000" stroke-width="1"/>
<text x="278.30" y="151.60" font-size="11.2" text-anchor="middle" fill="#000">6</text>
<text x="170.50" y="168.00" font-size="12.7" text-anchor="middle" fill="#000">log2 (fold change)</text>
<text x="41.20" y="69.90" font-size="12.7" text-anchor="middle" fill="#000" transform="rotate(-90 41.2 69.9)">-log10 (p-value)</text>
<text x="258.20" y="17.00" font-size="11.3" text-anchor="start" fill="#000" font-style="italic">Trmt61a</text>
<text x="120.30" y="78.30" font-size="11.3" text-anchor="start" fill="#000" font-style="italic">Casp6</text>
<text x="198.00" y="82.30" font-size="11.3" text-anchor="start" fill="#000" font-style="italic">Cdk14</text>
<text x="210.00" y="97.50" font-size="11.3" text-anchor="start" fill="#000" font-style="italic">Cdca3</text>
<text x="193.30" y="108.00" font-size="11.3" text-anchor="start" fill="#000" font-style="italic">Birc5</text>
<text x="227.00" y="112.00" font-size="11.3" text-anchor="start" fill="#000" font-style="italic">E2f1</text>
<text x="2.50" y="14.30" font-size="18" text-anchor="start" fill="#000" font-weight="bold">a</text>
<rect x="365.50" y="103.57" width="11.70" height="33.53" fill="#f0c6aa" stroke="#222" stroke-width="1"/>
<line x1="371.35" y1="99.85" x2="371.35" y2="107.30" stroke="#222" stroke-width="1"/>
<line x1="368.75" y1="99.85" x2="373.95" y2="99.85" stroke="#222" stroke-width="1"/>
<line x1="368.75" y1="107.30" x2="373.95" y2="107.30" stroke="#222" stroke-width="1"/>
<circle cx="371.40" cy="91.40" r="2.05" fill="#fff" stroke="#111" stroke-width="1"/>
<circle cx="367.70" cy="100.00" r="2.05" fill="#fff" stroke="#111" stroke-width="1"/>
<circle cx="375.20" cy="100.00" r="2.05" fill="#fff" stroke="#111" stroke-width="1"/>
<circle cx="375.20" cy="110.40" r="2.05" fill="#fff" stroke="#111" stroke-width="1"/>
<circle cx="367.70" cy="114.50" r="2.05" fill="#fff" stroke="#111" stroke-width="1"/>
<rect x="383.50" y="126.41" width="11.20" height="10.69" fill="#92dcda" stroke="#222" stroke-width="1"/>
<line x1="389.10" y1="124.17" x2="389.10" y2="128.64" stroke="#222" stroke-width="1"/>
<line x1="386.50" y1="124.17" x2="391.70" y2="124.17" stroke="#222" stroke-width="1"/>
<line x1="386.50" y1="128.64" x2="391.70" y2="128.64" stroke="#222" stroke-width="1"/>
<circle cx="385.60" cy="119.40" r="2.05" fill="#fff" stroke="#111" stroke-width="1"/>
<circle cx="393.00" cy="119.40" r="2.05" fill="#fff" stroke="#111" stroke-width="1"/>
<circle cx="385.60" cy="124.60" r="2.05" fill="#fff" stroke="#111" stroke-width="1"/>
<circle cx="393.00" cy="126.60" r="2.05" fill="#fff" stroke="#111" stroke-width="1"/>
<circle cx="389.30" cy="133.20" r="2.05" fill="#fff" stroke="#111" stroke-width="1"/>
<line x1="372.20" y1="73.30" x2="390.80" y2="73.30" stroke="#111" stroke-width="1.1"/>
<line x1="378.30" y1="64.90" x2="378.30" y2="69.90" stroke="#111" stroke-width="1.25"/>
<line x1="376.13" y1="66.15" x2="380.47" y2="68.65" stroke="#111" stroke-width="1.25"/>
<line x1="376.13" y1="68.65" x2="380.47" y2="66.15" stroke="#111" stroke-width="1.25"/>
<line x1="384.70" y1="64.90" x2="384.70" y2="69.90" stroke="#111" stroke-width="1.25"/>
<line x1="382.53" y1="66.15" x2="386.87" y2="68.65" stroke="#111" stroke-width="1.25"/>
<line x1="382.53" y1="68.65" x2="386.87" y2="66.15" stroke="#111" stroke-width="1.25"/>
<line x1="380.35" y1="137.10" x2="380.35" y2="142.10" stroke="#000" stroke-width="1.1"/>
<text x="384.55" y="152.00" font-size="10.6" text-anchor="end" fill="#000" font-style="italic" transform="rotate(-45 384.55 152)">E2f1</text>
<rect x="413.40" y="89.31" width="11.40" height="47.79" fill="#f0c6aa" stroke="#222" stroke-width="1"/>
<line x1="419.10" y1="80.37" x2="419.10" y2="98.25" stroke="#222" stroke-width="1"/>
<line x1="416.50" y1="80.37" x2="421.70" y2="80.37" stroke="#222" stroke-width="1"/>
<line x1="416.50" y1="98.25" x2="421.70" y2="98.25" stroke="#222" stroke-width="1"/>
<circle cx="419.20" cy="65.00" r="2.05" fill="#fff" stroke="#111" stroke-width="1"/>
<circle cx="419.20" cy="72.60" r="2.05" fill="#fff" stroke="#111" stroke-width="1"/>
<circle cx="415.20" cy="100.00" r="2.05" fill="#fff" stroke="#111" stroke-width="1"/>
<circle cx="422.70" cy="100.00" r="2.05" fill="#fff" stroke="#111" stroke-width="1"/>
<circle cx="419.20" cy="107.20" r="2.05" fill="#fff" stroke="#111" stroke-width="1"/>
<rect x="431.20" y="129.50" width="11.40" height="7.60" fill="#92dcda" stroke="#222" stroke-width="1"/>
<line x1="436.90" y1="128.01" x2="436.90" y2="130.99" stroke="#222" stroke-width="1"/>
<line x1="434.30" y1="128.01" x2="439.50" y2="128.01" stroke="#222" stroke-width="1"/>
<line x1="434.30" y1="130.99" x2="439.50" y2="130.99" stroke="#222" stroke-width="1"/>
<circle cx="433.70" cy="124.70" r="2.05" fill="#fff" stroke="#111" stroke-width="1"/>
<circle cx="441.00" cy="122.80" r="2.05" fill="#fff" stroke="#111" stroke-width="1"/>
<circle cx="437.40" cy="127.20" r="2.05" fill="#fff" stroke="#111" stroke-width="1"/>
<circle cx="441.00" cy="128.60" r="2.05" fill="#fff" stroke="#111" stroke-width="1"/>
<circle cx="433.70" cy="131.20" r="2.05" fill="#fff" stroke="#111" stroke-width="1"/>
<line x1="420.40" y1="48.80" x2="438.90" y2="48.80" stroke="#111" stroke-width="1.1"/>
<line x1="426.45" y1="40.40" x2="426.45" y2="45.40" stroke="#111" stroke-width="1.25"/>
<line x1="424.28" y1="41.65" x2="428.62" y2="44.15" stroke="#111" stroke-width="1.25"/>
<line x1="424.28" y1="44.15" x2="428.62" y2="41.65" stroke="#111" stroke-width="1.25"/>
<line x1="432.85" y1="40.40" x2="432.85" y2="45.40" stroke="#111" stroke-width="1.25"/>
<line x1="430.68" y1="41.65" x2="435.02" y2="44.15" stroke="#111" stroke-width="1.25"/>
<line x1="430.68" y1="44.15" x2="435.02" y2="41.65" stroke="#111" stroke-width="1.25"/>
<line x1="428.00" y1="137.10" x2="428.00" y2="142.10" stroke="#000" stroke-width="1.1"/>
<text x="432.20" y="152.00" font-size="10.6" text-anchor="end" fill="#000" font-style="italic" transform="rotate(-45 432.2 152)">Cdca3</text>
<rect x="461.40" y="100.11" width="11.00" height="36.99" fill="#f0c6aa" stroke="#222" stroke-width="1"/>
<line x1="466.90" y1="98.25" x2="466.90" y2="101.97" stroke="#222" stroke-width="1"/>
<line x1="464.30" y1="98.25" x2="469.50" y2="98.25" stroke="#222" stroke-width="1"/>
<line x1="464.30" y1="101.97" x2="469.50" y2="101.97" stroke="#222" stroke-width="1"/>
<circle cx="463.30" cy="97.40" r="2.05" fill="#fff" stroke="#111" stroke-width="1"/>
<circle cx="467.00" cy="94.20" r="2.05" fill="#fff" stroke="#111" stroke-width="1"/>
<circle cx="470.70" cy="98.70" r="2.05" fill="#fff" stroke="#111" stroke-width="1"/>
<circle cx="466.80" cy="99.20" r="2.05" fill="#fff" stroke="#111" stroke-width="1"/>
<circle cx="466.80" cy="108.70" r="2.05" fill="#fff" stroke="#111" stroke-width="1"/>
<rect x="479.50" y="111.88" width="10.90" height="25.22" fill="#92dcda" stroke="#222" stroke-width="1"/>
<line x1="484.95" y1="109.27" x2="484.95" y2="114.49" stroke="#222" stroke-width="1"/>
<line x1="482.35" y1="109.27" x2="487.55" y2="109.27" stroke="#222" stroke-width="1"/>
<line x1="482.35" y1="114.49" x2="487.55" y2="114.49" stroke="#222" stroke-width="1"/>
<circle cx="484.80" cy="102.60" r="2.05" fill="#fff" stroke="#111" stroke-width="1"/>
<circle cx="481.30" cy="111.60" r="2.05" fill="#fff" stroke="#111" stroke-width="1"/>
<circle cx="488.70" cy="110.60" r="2.05" fill="#fff" stroke="#111" stroke-width="1"/>
<circle cx="481.30" cy="117.50" r="2.05" fill="#fff" stroke="#111" stroke-width="1"/>
<circle cx="488.70" cy="117.00" r="2.05" fill="#fff" stroke="#111" stroke-width="1"/>
<line x1="467.10" y1="72.30" x2="484.80" y2="72.30" stroke="#111" stroke-width="1.1"/>
<line x1="475.95" y1="63.90" x2="475.95" y2="68.90" stroke="#111" stroke-width="1.25"/>
<line x1="473.78" y1="65.15" x2="478.12" y2="67.65" stroke="#111" stroke-width="1.25"/>
<line x1="473.78" y1="67.65" x2="478.12" y2="65.15" stroke="#111" stroke-width="1.25"/>
<line x1="475.95" y1="137.10" x2="475.95" y2="142.10" stroke="#000" stroke-width="1.1"/>
<text x="480.15" y="152.00" font-size="10.6" text-anchor="end" fill="#000" font-style="italic" transform="rotate(-45 480.15 152)">Birc5</text>
<rect x="509.30" y="98.40" width="11.10" height="38.70" fill="#f0c6aa" stroke="#222" stroke-width="1"/>
<line x1="514.85" y1="96.53" x2="514.85" y2="100.26" stroke="#222" stroke-width="1"/>
<line x1="512.25" y1="96.53" x2="517.45" y2="96.53" stroke="#222" stroke-width="1"/>
<line x1="512.25" y1="100.26" x2="517.45" y2="100.26" stroke="#222" stroke-width="1"/>
<circle cx="514.70" cy="91.30" r="2.05" fill="#fff" stroke="#111" stroke-width="1"/>
<circle cx="512.70" cy="96.60" r="2.05" fill="#fff" stroke="#111" stroke-width="1"/>
<circle cx="518.70" cy="95.80" r="2.05" fill="#fff" stroke="#111" stroke-width="1"/>
<circle cx="510.80" cy="98.60" r="2.05" fill="#fff" stroke="#111" stroke-width="1"/>
<circle cx="515.00" cy="100.60" r="2.05" fill="#fff" stroke="#111" stroke-width="1"/>
<rect x="527.50" y="68.60" width="11.00" height="68.50" fill="#92dcda" stroke="#222" stroke-width="1"/>
<line x1="533.00" y1="59.66" x2="533.00" y2="77.54" stroke="#222" stroke-width="1"/>
<line x1="530.40" y1="59.66" x2="535.60" y2="59.66" stroke="#222" stroke-width="1"/>
<line x1="530.40" y1="77.54" x2="535.60" y2="77.54" stroke="#222" stroke-width="1"/>
<circle cx="532.60" cy="45.30" r="2.05" fill="#fff" stroke="#111" stroke-width="1"/>
<circle cx="536.40" cy="56.10" r="2.05" fill="#fff" stroke="#111" stroke-width="1"/>
<circle cx="528.80" cy="60.10" r="2.05" fill="#fff" stroke="#111" stroke-width="1"/>
<circle cx="529.00" cy="89.10" r="2.05" fill="#fff" stroke="#111" stroke-width="1"/>
<circle cx="536.40" cy="89.10" r="2.05" fill="#fff" stroke="#111" stroke-width="1"/>
<line x1="514.00" y1="30.50" x2="532.60" y2="30.50" stroke="#111" stroke-width="1.1"/>
<line x1="523.30" y1="22.10" x2="523.30" y2="27.10" stroke="#111" stroke-width="1.25"/>
<line x1="521.13" y1="23.35" x2="525.47" y2="25.85" stroke="#111" stroke-width="1.25"/>
<line x1="521.13" y1="25.85" x2="525.47" y2="23.35" stroke="#111" stroke-width="1.25"/>
<line x1="523.95" y1="137.10" x2="523.95" y2="142.10" stroke="#000" stroke-width="1.1"/>
<text x="528.15" y="152.00" font-size="10.6" text-anchor="end" fill="#000" font-style="italic" transform="rotate(-45 528.15 152)">Casp6</text>
<line x1="359.30" y1="24.90" x2="359.30" y2="137.60" stroke="#000" stroke-width="1.1"/>
<line x1="358.80" y1="137.10" x2="545.50" y2="137.10" stroke="#000" stroke-width="1.1"/>
<line x1="354.70" y1="25.35" x2="359.30" y2="25.35" stroke="#000" stroke-width="1.1"/>
<text x="353.30" y="29.25" font-size="11" text-anchor="end" fill="#000">3.0</text>
<line x1="354.70" y1="81.22" x2="359.30" y2="81.22" stroke="#000" stroke-width="1.1"/>
<text x="353.30" y="85.12" font-size="11" text-anchor="end" fill="#000">1.5</text>
<line x1="354.70" y1="137.10" x2="359.30" y2="137.10" stroke="#000" stroke-width="1.1"/>
<text x="353.30" y="141.00" font-size="11" text-anchor="end" fill="#000">0.0</text>
<text x="331.20" y="79.60" font-size="11.5" text-anchor="middle" fill="#000" transform="rotate(-90 331.2 79.6)">Relative expression</text>
<rect x="547.50" y="30.50" width="4.20" height="4.20" fill="#f0c6aa" stroke="#333" stroke-width="0.6"/>
<rect x="547.50" y="49.60" width="4.20" height="4.20" fill="#92dcda" stroke="#333" stroke-width="0.6"/>
<text x="560.10" y="35.80" font-size="11.3" text-anchor="start" fill="#000" font-style="italic">Trmt61a</text>
<text x="603.03" y="31.51" font-size="8.475" text-anchor="start" fill="#000" font-style="italic" textLength="11.30" lengthAdjust="spacingAndGlyphs">fl/fl</text>
<text x="560.10" y="54.40" font-size="11.3" text-anchor="start" fill="#000" font-style="italic">Trmt61a</text>
<text x="603.03" y="50.11" font-size="8.475" text-anchor="start" fill="#000" font-style="italic" textLength="24.30" lengthAdjust="spacingAndGlyphs">ΔRorc</text>
<text x="318.50" y="14.30" font-size="18" text-anchor="start" fill="#000" font-weight="bold">b</text>
<text x="2.00" y="194.60" font-size="18" text-anchor="start" fill="#000" font-weight="bold">c</text>
<text x="95.50" y="207.20" font-size="11.5" text-anchor="middle" fill="#000">HALLMARK_G2M_CHECKPOINT</text>
<rect x="17.00" y="211.50" width="159.80" height="151.50" fill="#eeeeee" stroke="none" stroke-width="1"/>
<rect x="38.50" y="212.60" width="135.80" height="60.00" fill="#fff" stroke="#d0d0d0" stroke-width="0.5"/>
<line x1="38.50" y1="265.63" x2="174.30" y2="265.63" stroke="#e4e4e4" stroke-width="0.5"/>
<line x1="38.50" y1="250.97" x2="174.30" y2="250.97" stroke="#e4e4e4" stroke-width="0.5"/>
<line x1="38.50" y1="243.63" x2="174.30" y2="243.63" stroke="#e4e4e4" stroke-width="0.5"/>
<line x1="38.50" y1="236.30" x2="174.30" y2="236.30" stroke="#e4e4e4" stroke-width="0.5"/>
<line x1="38.50" y1="228.96" x2="174.30" y2="228.96" stroke="#e4e4e4" stroke-width="0.5"/>
<line x1="38.50" y1="221.62" x2="174.30" y2="221.62" stroke="#e4e4e4" stroke-width="0.5"/>
<line x1="38.50" y1="214.29" x2="174.30" y2="214.29" stroke="#e4e4e4" stroke-width="0.5"/>
<line x1="61.80" y1="212.60" x2="61.80" y2="272.60" stroke="#e4e4e4" stroke-width="0.5"/>
<line x1="85.10" y1="212.60" x2="85.10" y2="272.60" stroke="#e4e4e4" stroke-width="0.5"/>
<line x1="108.40" y1="212.60" x2="108.40" y2="272.60" stroke="#e4e4e4" stroke-width="0.5"/>
<line x1="131.70" y1="212.60" x2="131.70" y2="272.60" stroke="#e4e4e4" stroke-width="0.5"/>
<line x1="155.00" y1="212.60" x2="155.00" y2="272.60" stroke="#e4e4e4" stroke-width="0.5"/>
<line x1="38.50" y1="258.30" x2="174.30" y2="258.30" stroke="#b0b0b0" stroke-width="0.7"/>
<text x="36.30" y="267.24" font-size="4.4" text-anchor="end" fill="#555">-0.05</text>
<text x="36.30" y="259.90" font-size="4.4" text-anchor="end" fill="#555">0.00</text>
<text x="36.30" y="252.56" font-size="4.4" text-anchor="end" fill="#555">0.05</text>
<text x="36.30" y="245.23" font-size="4.4" text-anchor="end" fill="#555">0.10</text>
<text x="36.30" y="237.90" font-size="4.4" text-anchor="end" fill="#555">0.15</text>
<text x="36.30" y="230.56" font-size="4.4" text-anchor="end" fill="#555">0.20</text>
<text x="36.30" y="223.22" font-size="4.4" text-anchor="end" fill="#555">0.25</text>
<text x="36.30" y="215.89" font-size="4.4" text-anchor="end" fill="#555">0.30</text>
<text x="24.50" y="242.50" font-size="4.6" text-anchor="middle" fill="#555" transform="rotate(-90 24.5 242.5)">Enrichment score (ES)</text>
<path d="M38.50,258.30 L39.00,252.43 L39.60,249.66 L40.50,245.69 L41.00,242.80 L41.50,242.36 L42.00,239.30 L42.50,238.92 L43.00,235.73 L43.50,234.72 L44.10,232.42 L44.70,231.66 L45.30,229.49 L45.87,228.86 L46.43,228.12 L47.00,226.68 L47.57,226.38 L48.13,224.89 L48.70,223.32 L49.20,224.16 L49.70,224.92 L50.20,224.09 L50.70,225.70 L51.35,223.98 L52.00,221.54 L52.50,221.09 L53.00,220.21 L53.50,219.38 L54.00,217.36 L54.50,218.06 L55.00,217.66 L55.50,217.08 L56.00,216.07 L56.50,216.90 L56.97,216.93 L57.43,215.17 L57.90,217.02 L58.37,216.29 L58.83,215.59 L59.30,214.58 L59.76,216.31 L60.21,217.13 L60.67,215.61 L61.13,216.28 L61.59,216.27 L62.04,215.90 L62.50,216.08 L63.00,216.11 L63.50,216.54 L64.00,215.72 L64.50,215.68 L65.00,216.50 L65.50,216.81 L66.00,216.26 L66.50,216.56 L67.00,217.50 L67.50,217.37 L68.00,216.76 L68.50,217.51 L69.00,217.80 L69.50,217.68 L70.00,217.97 L70.50,218.09 L71.00,219.21 L71.50,217.44 L72.00,218.37 L72.50,219.05 L73.00,218.22 L73.50,218.70 L74.00,218.98 L74.50,218.59 L75.00,218.12 L75.50,219.14 L76.00,218.76 L76.50,218.61 L77.00,220.39 L77.50,220.28 L78.00,219.76 L78.50,221.22 L79.00,220.66 L79.50,220.04 L80.00,220.36 L80.50,220.78 L81.00,222.23 L81.50,220.23 L82.00,221.34 L82.50,221.51 L83.00,221.92 L83.50,223.33 L84.00,223.46 L84.50,223.62 L85.00,222.29 L85.50,223.98 L86.00,223.95 L86.50,224.36 L87.00,224.34 L87.50,224.78 L88.00,225.30 L88.50,226.49 L89.00,227.86 L89.50,226.56 L90.00,226.92 L90.45,226.79 L90.91,227.85 L91.36,228.49 L91.82,228.34 L92.27,229.72 L92.73,229.83 L93.18,230.18 L93.64,229.89 L94.09,229.34 L94.55,230.40 L95.00,230.57 L95.45,231.45 L95.91,231.84 L96.36,232.63 L96.82,232.96 L97.27,234.48 L97.73,234.26 L98.18,234.72 L98.64,234.04 L99.09,234.54 L99.55,234.71 L100.00,234.91 L100.50,236.45 L101.00,236.34 L101.50,236.46 L102.00,238.06 L102.50,238.08 L103.00,239.31 L103.50,240.64 L104.00,240.34 L104.46,241.21 L104.92,241.11 L105.38,241.79 L105.85,241.77 L106.31,243.42 L106.77,241.63 L107.23,242.39 L107.69,243.65 L108.15,244.32 L108.62,244.24 L109.08,244.28 L109.54,244.79 L110.00,245.18 L110.45,246.72 L110.91,246.61 L111.36,245.66 L111.81,246.54 L112.26,247.77 L112.72,247.75 L113.17,248.37 L113.62,248.47 L114.08,247.66 L114.53,248.70 L114.98,248.32 L115.44,249.12 L115.89,250.32 L116.34,250.20 L116.79,248.99 L117.25,250.90 L117.70,251.37 L118.18,250.60 L118.66,251.62 L119.13,252.09 L119.61,251.75 L120.09,253.86 L120.57,253.14 L121.04,254.34 L121.52,254.94 L122.00,255.06 L122.50,254.67 L123.00,255.99 L123.50,257.52 L124.00,257.78 L124.50,257.04 L125.00,257.95 L125.50,259.70 L126.00,258.50 L126.47,260.15 L126.93,260.78 L127.40,260.43 L127.87,260.06 L128.33,259.90 L128.80,260.40 L129.27,261.36 L129.73,261.63 L130.20,262.29 L130.67,261.76 L131.13,262.23 L131.60,261.99 L132.09,263.09 L132.58,263.01 L133.07,263.51 L133.56,263.98 L134.04,264.28 L134.53,264.51 L135.02,264.90 L135.51,264.29 L136.00,264.85 L136.45,265.86 L136.91,265.17 L137.36,265.55 L137.82,265.20 L138.27,266.34 L138.73,266.61 L139.18,267.13 L139.64,266.97 L140.09,267.04 L140.55,267.48 L141.00,267.97 L141.45,267.77 L141.90,268.26 L142.35,268.41 L142.80,269.26 L143.25,268.90 L143.70,269.77 L144.15,269.92 L144.60,269.63 L145.05,268.84 L145.50,269.66 L146.00,269.99 L146.50,269.90 L147.00,269.10 L147.50,268.70 L148.00,268.60 L148.50,269.15 L149.00,268.76 L149.48,268.82 L149.96,268.57 L150.44,268.65 L150.92,268.11 L151.40,268.89 L151.88,268.17 L152.36,267.10 L152.84,267.59 L153.32,266.60 L153.80,267.34 L154.27,266.74 L154.73,266.23 L155.20,266.86 L155.67,266.58 L156.13,264.79 L156.60,266.34 L157.07,266.23 L157.53,266.05 L158.00,265.62 L158.50,265.58 L159.00,264.97 L159.50,265.00 L160.00,265.55 L160.50,265.46 L161.00,265.94 L161.50,265.91 L162.00,265.44 L162.48,264.49 L162.97,264.64 L163.45,264.11 L163.93,263.87 L164.42,264.28 L164.90,262.92 L165.43,263.86 L165.97,263.47 L166.50,262.93 L167.00,260.64 L167.50,259.77 L167.95,258.74 L168.40,257.71" fill="none" stroke="#6fd12a" stroke-width="1.1" stroke-linejoin="round"/>
<rect x="38.50" y="273.30" width="135.80" height="20.60" fill="#fff" stroke="none" stroke-width="1"/>
<g>
<line x1="39.30" y1="273.60" x2="39.30" y2="293.60" stroke="#6e6e6e" stroke-width="0.7"/>
<line x1="39.43" y1="273.60" x2="39.43" y2="293.60" stroke="#6e6e6e" stroke-width="0.9"/>
<line x1="40.25" y1="273.60" x2="40.25" y2="293.60" stroke="#969696" stroke-width="1.1"/>
<line x1="40.95" y1="273.60" x2="40.95" y2="293.60" stroke="#5a5a5a" stroke-width="0.7"/>
<line x1="41.41" y1="273.60" x2="41.41" y2="293.60" stroke="#464646" stroke-width="0.7"/>
<line x1="41.58" y1="273.60" x2="41.58" y2="293.60" stroke="#969696" stroke-width="0.7"/>
<line x1="42.69" y1="273.60" x2="42.69" y2="293.60" stroke="#1e1e1e" stroke-width="0.5"/>
<line x1="43.86" y1="273.60" x2="43.86" y2="293.60" stroke="#1e1e1e" stroke-width="1.1"/>
<line x1="44.36" y1="273.60" x2="44.36" y2="293.60" stroke="#aaaaaa" stroke-width="0.5"/>
<line x1="44.86" y1="273.60" x2="44.86" y2="293.60" stroke="#969696" stroke-width="0.7"/>
<line x1="45.05" y1="273.60" x2="45.05" y2="293.60" stroke="#5a5a5a" stroke-width="0.9"/>
<line x1="45.06" y1="273.60" x2="45.06" y2="293.60" stroke="#828282" stroke-width="0.5"/>
<line x1="45.39" y1="273.60" x2="45.39" y2="293.60" stroke="#5a5a5a" stroke-width="1.1"/>
<line x1="46.01" y1="273.60" x2="46.01" y2="293.60" stroke="#464646" stroke-width="0.9"/>
<line x1="46.06" y1="273.60" x2="46.06" y2="293.60" stroke="#6e6e6e" stroke-width="1.1"/>
<line x1="47.18" y1="273.60" x2="47.18" y2="293.60" stroke="#323232" stroke-width="0.5"/>
<line x1="47.37" y1="273.60" x2="47.37" y2="293.60" stroke="#828282" stroke-width="0.9"/>
<line x1="47.56" y1="273.60" x2="47.56" y2="293.60" stroke="#6e6e6e" stroke-width="0.7"/>
<line x1="47.59" y1="273.60" x2="47.59" y2="293.60" stroke="#323232" stroke-width="0.9"/>
<line x1="51.89" y1="273.60" x2="51.89" y2="293.60" stroke="#5a5a5a" stroke-width="0.9"/>
<line x1="52.86" y1="273.60" x2="52.86" y2="293.60" stroke="#323232" stroke-width="0.9"/>
<line x1="54.36" y1="273.60" x2="54.36" y2="293.60" stroke="#969696" stroke-width="0.5"/>
<line x1="55.05" y1="273.60" x2="55.05" y2="293.60" stroke="#323232" stroke-width="0.5"/>
<line x1="55.08" y1="273.60" x2="55.08" y2="293.60" stroke="#aaaaaa" stroke-width="0.5"/>
<line x1="55.37" y1="273.60" x2="55.37" y2="293.60" stroke="#aaaaaa" stroke-width="1.1"/>
<line x1="55.87" y1="273.60" x2="55.87" y2="293.60" stroke="#969696" stroke-width="1.1"/>
<line x1="55.96" y1="273.60" x2="55.96" y2="293.60" stroke="#323232" stroke-width="0.7"/>
<line x1="58.16" y1="273.60" x2="58.16" y2="293.60" stroke="#1e1e1e" stroke-width="0.5"/>
<line x1="58.50" y1="273.60" x2="58.50" y2="293.60" stroke="#969696" stroke-width="0.5"/>
<line x1="58.62" y1="273.60" x2="58.62" y2="293.60" stroke="#5a5a5a" stroke-width="0.9"/>
<line x1="59.87" y1="273.60" x2="59.87" y2="293.60" stroke="#969696" stroke-width="1.1"/>
<line x1="59.97" y1="273.60" x2="59.97" y2="293.60" stroke="#aaaaaa" stroke-width="0.7"/>
<line x1="61.90" y1="273.60" x2="61.90" y2="293.60" stroke="#969696" stroke-width="1.1"/>
<line x1="62.34" y1="273.60" x2="62.34" y2="293.60" stroke="#828282" stroke-width="1.1"/>
<line x1="62.93" y1="273.60" x2="62.93" y2="293.60" stroke="#5a5a5a" stroke-width="0.5"/>
<line x1="63.24" y1="273.60" x2="63.24" y2="293.60" stroke="#1e1e1e" stroke-width="1.1"/>
<line x1="63.73" y1="273.60" x2="63.73" y2="293.60" stroke="#464646" stroke-width="1.1"/>
<line x1="63.89" y1="273.60" x2="63.89" y2="293.60" stroke="#828282" stroke-width="0.7"/>
<line x1="63.91" y1="273.60" x2="63.91" y2="293.60" stroke="#aaaaaa" stroke-width="0.9"/>
<line x1="65.40" y1="273.60" x2="65.40" y2="293.60" stroke="#5a5a5a" stroke-width="1.1"/>
<line x1="65.60" y1="273.60" x2="65.60" y2="293.60" stroke="#aaaaaa" stroke-width="1.1"/>
<line x1="66.73" y1="273.60" x2="66.73" y2="293.60" stroke="#6e6e6e" stroke-width="1.1"/>
<line x1="66.90" y1="273.60" x2="66.90" y2="293.60" stroke="#1e1e1e" stroke-width="0.7"/>
<line x1="69.48" y1="273.60" x2="69.48" y2="293.60" stroke="#828282" stroke-width="0.7"/>
<line x1="71.16" y1="273.60" x2="71.16" y2="293.60" stroke="#6e6e6e" stroke-width="1.1"/>
<line x1="72.22" y1="273.60" x2="72.22" y2="293.60" stroke="#464646" stroke-width="0.5"/>
<line x1="73.31" y1="273.60" x2="73.31" y2="293.60" stroke="#464646" stroke-width="0.5"/>
<line x1="73.96" y1="273.60" x2="73.96" y2="293.60" stroke="#6e6e6e" stroke-width="1.1"/>
<line x1="74.95" y1="273.60" x2="74.95" y2="293.60" stroke="#aaaaaa" stroke-width="0.5"/>
<line x1="75.05" y1="273.60" x2="75.05" y2="293.60" stroke="#464646" stroke-width="1.1"/>
<line x1="75.54" y1="273.60" x2="75.54" y2="293.60" stroke="#5a5a5a" stroke-width="0.9"/>
<line x1="76.87" y1="273.60" x2="76.87" y2="293.60" stroke="#828282" stroke-width="0.7"/>
<line x1="77.04" y1="273.60" x2="77.04" y2="293.60" stroke="#6e6e6e" stroke-width="0.5"/>
<line x1="79.00" y1="273.60" x2="79.00" y2="293.60" stroke="#1e1e1e" stroke-width="0.9"/>
<line x1="80.67" y1="273.60" x2="80.67" y2="293.60" stroke="#6e6e6e" stroke-width="0.7"/>
<line x1="81.07" y1="273.60" x2="81.07" y2="293.60" stroke="#5a5a5a" stroke-width="0.7"/>
<line x1="81.42" y1="273.60" x2="81.42" y2="293.60" stroke="#6e6e6e" stroke-width="1.1"/>
<line x1="81.88" y1="273.60" x2="81.88" y2="293.60" stroke="#464646" stroke-width="1.1"/>
<line x1="82.26" y1="273.60" x2="82.26" y2="293.60" stroke="#aaaaaa" stroke-width="1.1"/>
<line x1="86.31" y1="273.60" x2="86.31" y2="293.60" stroke="#969696" stroke-width="1.1"/>
<line x1="86.69" y1="273.60" x2="86.69" y2="293.60" stroke="#6e6e6e" stroke-width="0.7"/>
<line x1="86.71" y1="273.60" x2="86.71" y2="293.60" stroke="#969696" stroke-width="0.9"/>
<line x1="86.79" y1="273.60" x2="86.79" y2="293.60" stroke="#323232" stroke-width="0.7"/>
<line x1="87.77" y1="273.60" x2="87.77" y2="293.60" stroke="#5a5a5a" stroke-width="0.5"/>
<line x1="91.62" y1="273.60" x2="91.62" y2="293.60" stroke="#828282" stroke-width="0.9"/>
<line x1="92.16" y1="273.60" x2="92.16" y2="293.60" stroke="#1e1e1e" stroke-width="0.5"/>
<line x1="92.69" y1="273.60" x2="92.69" y2="293.60" stroke="#1e1e1e" stroke-width="1.1"/>
<line x1="93.32" y1="273.60" x2="93.32" y2="293.60" stroke="#aaaaaa" stroke-width="1.1"/>
<line x1="94.40" y1="273.60" x2="94.40" y2="293.60" stroke="#5a5a5a" stroke-width="0.5"/>
<line x1="94.60" y1="273.60" x2="94.60" y2="293.60" stroke="#464646" stroke-width="0.5"/>
<line x1="95.34" y1="273.60" x2="95.34" y2="293.60" stroke="#6e6e6e" stroke-width="0.7"/>
<line x1="95.99" y1="273.60" x2="95.99" y2="293.60" stroke="#aaaaaa" stroke-width="0.9"/>
<line x1="96.76" y1="273.60" x2="96.76" y2="293.60" stroke="#1e1e1e" stroke-width="0.9"/>
<line x1="96.92" y1="273.60" x2="96.92" y2="293.60" stroke="#464646" stroke-width="0.7"/>
<line x1="97.07" y1="273.60" x2="97.07" y2="293.60" stroke="#969696" stroke-width="0.5"/>
<line x1="97.40" y1="273.60" x2="97.40" y2="293.60" stroke="#6e6e6e" stroke-width="0.7"/>
<line x1="99.48" y1="273.60" x2="99.48" y2="293.60" stroke="#969696" stroke-width="1.1"/>
<line x1="99.82" y1="273.60" x2="99.82" y2="293.60" stroke="#5a5a5a" stroke-width="0.7"/>
<line x1="100.55" y1="273.60" x2="100.55" y2="293.60" stroke="#aaaaaa" stroke-width="0.5"/>
<line x1="100.84" y1="273.60" x2="100.84" y2="293.60" stroke="#323232" stroke-width="0.5"/>
<line x1="100.93" y1="273.60" x2="100.93" y2="293.60" stroke="#969696" stroke-width="0.7"/>
<line x1="100.98" y1="273.60" x2="100.98" y2="293.60" stroke="#464646" stroke-width="0.5"/>
<line x1="102.33" y1="273.60" x2="102.33" y2="293.60" stroke="#aaaaaa" stroke-width="1.1"/>
<line x1="103.53" y1="273.60" x2="103.53" y2="293.60" stroke="#aaaaaa" stroke-width="0.9"/>
<line x1="103.91" y1="273.60" x2="103.91" y2="293.60" stroke="#464646" stroke-width="0.9"/>
<line x1="104.84" y1="273.60" x2="104.84" y2="293.60" stroke="#464646" stroke-width="0.9"/>
<line x1="105.74" y1="273.60" x2="105.74" y2="293.60" stroke="#6e6e6e" stroke-width="0.9"/>
<line x1="107.59" y1="273.60" x2="107.59" y2="293.60" stroke="#1e1e1e" stroke-width="0.5"/>
<line x1="110.17" y1="273.60" x2="110.17" y2="293.60" stroke="#323232" stroke-width="0.7"/>
<line x1="110.60" y1="273.60" x2="110.60" y2="293.60" stroke="#323232" stroke-width="0.7"/>
<line x1="114.28" y1="273.60" x2="114.28" y2="293.60" stroke="#828282" stroke-width="0.9"/>
<line x1="116.96" y1="273.60" x2="116.96" y2="293.60" stroke="#828282" stroke-width="0.5"/>
<line x1="117.69" y1="273.60" x2="117.69" y2="293.60" stroke="#464646" stroke-width="0.5"/>
<line x1="119.47" y1="273.60" x2="119.47" y2="293.60" stroke="#aaaaaa" stroke-width="0.9"/>
<line x1="120.03" y1="273.60" x2="120.03" y2="293.60" stroke="#969696" stroke-width="0.7"/>
<line x1="120.42" y1="273.60" x2="120.42" y2="293.60" stroke="#1e1e1e" stroke-width="0.5"/>
<line x1="120.66" y1="273.60" x2="120.66" y2="293.60" stroke="#5a5a5a" stroke-width="0.9"/>
<line x1="122.40" y1="273.60" x2="122.40" y2="293.60" stroke="#6e6e6e" stroke-width="1.1"/>
<line x1="122.54" y1="273.60" x2="122.54" y2="293.60" stroke="#5a5a5a" stroke-width="0.7"/>
<line x1="122.60" y1="273.60" x2="122.60" y2="293.60" stroke="#969696" stroke-width="0.5"/>
<line x1="123.97" y1="273.60" x2="123.97" y2="293.60" stroke="#828282" stroke-width="0.7"/>
<line x1="125.21" y1="273.60" x2="125.21" y2="293.60" stroke="#5a5a5a" stroke-width="0.5"/>
<line x1="125.77" y1="273.60" x2="125.77" y2="293.60" stroke="#828282" stroke-width="0.7"/>
<line x1="127.29" y1="273.60" x2="127.29" y2="293.60" stroke="#1e1e1e" stroke-width="0.9"/>
<line x1="127.34" y1="273.60" x2="127.34" y2="293.60" stroke="#aaaaaa" stroke-width="1.1"/>
<line x1="127.59" y1="273.60" x2="127.59" y2="293.60" stroke="#464646" stroke-width="1.1"/>
<line x1="127.88" y1="273.60" x2="127.88" y2="293.60" stroke="#1e1e1e" stroke-width="0.9"/>
<line x1="128.34" y1="273.60" x2="128.34" y2="293.60" stroke="#1e1e1e" stroke-width="0.7"/>
<line x1="128.50" y1="273.60" x2="128.50" y2="293.60" stroke="#323232" stroke-width="0.9"/>
<line x1="128.56" y1="273.60" x2="128.56" y2="293.60" stroke="#969696" stroke-width="0.7"/>
<line x1="128.90" y1="273.60" x2="128.90" y2="293.60" stroke="#aaaaaa" stroke-width="0.9"/>
<line x1="130.84" y1="273.60" x2="130.84" y2="293.60" stroke="#1e1e1e" stroke-width="0.9"/>
<line x1="134.32" y1="273.60" x2="134.32" y2="293.60" stroke="#464646" stroke-width="0.9"/>
<line x1="135.49" y1="273.60" x2="135.49" y2="293.60" stroke="#1e1e1e" stroke-width="1.1"/>
<line x1="136.05" y1="273.60" x2="136.05" y2="293.60" stroke="#464646" stroke-width="0.7"/>
<line x1="136.30" y1="273.60" x2="136.30" y2="293.60" stroke="#969696" stroke-width="0.7"/>
<line x1="139.03" y1="273.60" x2="139.03" y2="293.60" stroke="#5a5a5a" stroke-width="0.9"/>
<line x1="139.68" y1="273.60" x2="139.68" y2="293.60" stroke="#aaaaaa" stroke-width="0.9"/>
<line x1="140.80" y1="273.60" x2="140.80" y2="293.60" stroke="#323232" stroke-width="0.7"/>
<line x1="140.83" y1="273.60" x2="140.83" y2="293.60" stroke="#969696" stroke-width="0.7"/>
<line x1="141.03" y1="273.60" x2="141.03" y2="293.60" stroke="#828282" stroke-width="0.9"/>
<line x1="142.61" y1="273.60" x2="142.61" y2="293.60" stroke="#464646" stroke-width="0.5"/>
<line x1="143.98" y1="273.60" x2="143.98" y2="293.60" stroke="#969696" stroke-width="0.5"/>
<line x1="145.84" y1="273.60" x2="145.84" y2="293.60" stroke="#5a5a5a" stroke-width="0.5"/>
<line x1="146.64" y1="273.60" x2="146.64" y2="293.60" stroke="#5a5a5a" stroke-width="0.9"/>
<line x1="147.13" y1="273.60" x2="147.13" y2="293.60" stroke="#6e6e6e" stroke-width="0.5"/>
<line x1="147.89" y1="273.60" x2="147.89" y2="293.60" stroke="#464646" stroke-width="0.7"/>
<line x1="149.55" y1="273.60" x2="149.55" y2="293.60" stroke="#969696" stroke-width="1.1"/>
<line x1="149.87" y1="273.60" x2="149.87" y2="293.60" stroke="#aaaaaa" stroke-width="0.7"/>
<line x1="150.54" y1="273.60" x2="150.54" y2="293.60" stroke="#5a5a5a" stroke-width="0.9"/>
<line x1="150.82" y1="273.60" x2="150.82" y2="293.60" stroke="#464646" stroke-width="1.1"/>
<line x1="152.11" y1="273.60" x2="152.11" y2="293.60" stroke="#969696" stroke-width="0.7"/>
<line x1="152.12" y1="273.60" x2="152.12" y2="293.60" stroke="#aaaaaa" stroke-width="1.1"/>
<line x1="153.14" y1="273.60" x2="153.14" y2="293.60" stroke="#6e6e6e" stroke-width="0.5"/>
<line x1="155.86" y1="273.60" x2="155.86" y2="293.60" stroke="#aaaaaa" stroke-width="0.7"/>
<line x1="155.89" y1="273.60" x2="155.89" y2="293.60" stroke="#1e1e1e" stroke-width="0.9"/>
<line x1="156.69" y1="273.60" x2="156.69" y2="293.60" stroke="#aaaaaa" stroke-width="0.9"/>
<line x1="157.61" y1="273.60" x2="157.61" y2="293.60" stroke="#464646" stroke-width="0.7"/>
<line x1="159.31" y1="273.60" x2="159.31" y2="293.60" stroke="#464646" stroke-width="1.1"/>
<line x1="160.09" y1="273.60" x2="160.09" y2="293.60" stroke="#464646" stroke-width="1.1"/>
<line x1="160.36" y1="273.60" x2="160.36" y2="293.60" stroke="#1e1e1e" stroke-width="0.5"/>
<line x1="160.82" y1="273.60" x2="160.82" y2="293.60" stroke="#6e6e6e" stroke-width="1.1"/>
<line x1="163.68" y1="273.60" x2="163.68" y2="293.60" stroke="#5a5a5a" stroke-width="1.1"/>
<line x1="165.81" y1="273.60" x2="165.81" y2="293.60" stroke="#5a5a5a" stroke-width="1.1"/>
<line x1="165.94" y1="273.60" x2="165.94" y2="293.60" stroke="#1e1e1e" stroke-width="0.5"/>
<line x1="166.03" y1="273.60" x2="166.03" y2="293.60" stroke="#828282" stroke-width="0.7"/>
<line x1="166.12" y1="273.60" x2="166.12" y2="293.60" stroke="#aaaaaa" stroke-width="0.9"/>
<line x1="166.14" y1="273.60" x2="166.14" y2="293.60" stroke="#aaaaaa" stroke-width="0.9"/>
<line x1="166.68" y1="273.60" x2="166.68" y2="293.60" stroke="#969696" stroke-width="1.1"/>
<line x1="166.82" y1="273.60" x2="166.82" y2="293.60" stroke="#323232" stroke-width="0.9"/>
</g>
<line x1="167.70" y1="273.60" x2="167.70" y2="293.60" stroke="#333" stroke-width="0.8"/>
<rect x="38.50" y="293.8" width="129.50" height="5.0" fill="url(#gseabar)"/>
<rect x="168.00" y="293.80" width="6.30" height="5.00" fill="#fff" stroke="none" stroke-width="1"/>
<rect x="38.50" y="298.80" width="135.80" height="40.30" fill="#fff" stroke="#d0d0d0" stroke-width="0.5"/>
<line x1="61.80" y1="298.80" x2="61.80" y2="339.10" stroke="#e4e4e4" stroke-width="0.5"/>
<line x1="85.10" y1="298.80" x2="85.10" y2="339.10" stroke="#e4e4e4" stroke-width="0.5"/>
<line x1="108.40" y1="298.80" x2="108.40" y2="339.10" stroke="#e4e4e4" stroke-width="0.5"/>
<line x1="131.70" y1="298.80" x2="131.70" y2="339.10" stroke="#e4e4e4" stroke-width="0.5"/>
<line x1="155.00" y1="298.80" x2="155.00" y2="339.10" stroke="#e4e4e4" stroke-width="0.5"/>
<path d="M38.50,321.50 L38.50,309.08 L38.75,309.88 L39.00,310.69 L39.25,311.50 L39.50,312.30 L39.75,312.76 L40.00,313.22 L40.25,313.68 L40.50,314.14 L40.75,314.41 L41.00,314.68 L41.25,314.94 L41.50,315.21 L41.75,315.48 L42.00,315.75 L42.25,315.84 L42.50,315.92 L42.75,316.01 L43.00,316.10 L43.25,316.18 L43.50,316.27 L43.75,316.35 L44.00,316.44 L44.25,316.53 L44.50,316.61 L44.75,316.70 L45.00,316.79 L45.25,316.87 L45.50,316.96 L45.75,317.04 L46.00,317.13 L46.25,317.18 L46.50,317.23 L46.75,317.28 L47.00,317.33 L47.25,317.37 L47.50,317.42 L47.75,317.47 L48.00,317.52 L48.25,317.57 L48.50,317.62 L48.75,317.67 L49.00,317.72 L49.25,317.77 L49.50,317.81 L49.75,317.86 L50.00,317.91 L50.25,317.94 L50.50,317.97 L50.75,318.00 L51.00,318.03 L51.25,318.06 L51.50,318.09 L51.75,318.12 L52.00,318.15 L52.25,318.18 L52.50,318.21 L52.75,318.24 L53.00,318.27 L53.25,318.30 L53.50,318.33 L53.75,318.36 L54.00,318.39 L54.25,318.42 L54.50,318.45 L54.75,318.48 L55.00,318.51 L55.25,318.54 L55.50,318.57 L55.75,318.60 L56.00,318.63 L56.25,318.66 L56.50,318.69 L56.75,318.72 L57.00,318.75 L57.25,318.78 L57.50,318.81 L57.75,318.84 L58.00,318.87 L58.25,318.90 L58.50,318.93 L58.75,318.96 L59.00,318.99 L59.25,319.02 L59.50,319.05 L59.75,319.08 L60.00,319.11 L60.25,319.12 L60.50,319.14 L60.75,319.15 L61.00,319.17 L61.25,319.18 L61.50,319.20 L61.75,319.22 L62.00,319.23 L62.25,319.25 L62.50,319.26 L62.75,319.28 L63.00,319.29 L63.25,319.31 L63.50,319.32 L63.75,319.34 L64.00,319.35 L64.25,319.37 L64.50,319.38 L64.75,319.40 L65.00,319.41 L65.25,319.43 L65.50,319.45 L65.75,319.46 L66.00,319.48 L66.25,319.49 L66.50,319.51 L66.75,319.52 L67.00,319.54 L67.25,319.55 L67.50,319.57 L67.75,319.58 L68.00,319.60 L68.25,319.61 L68.50,319.63 L68.75,319.64 L69.00,319.66 L69.25,319.68 L69.50,319.69 L69.75,319.71 L70.00,319.72 L70.25,319.74 L70.50,319.75 L70.75,319.77 L71.00,319.78 L71.25,319.80 L71.50,319.81 L71.75,319.83 L72.00,319.84 L72.25,319.86 L72.50,319.87 L72.75,319.89 L73.00,319.91 L73.25,319.92 L73.50,319.94 L73.75,319.95 L74.00,319.97 L74.25,319.98 L74.50,320.00 L74.75,320.01 L75.00,320.03 L75.25,320.04 L75.50,320.05 L75.75,320.07 L76.00,320.08 L76.25,320.09 L76.50,320.11 L76.75,320.12 L77.00,320.13 L77.25,320.15 L77.50,320.16 L77.75,320.17 L78.00,320.18 L78.25,320.20 L78.50,320.21 L78.75,320.22 L79.00,320.24 L79.25,320.25 L79.50,320.26 L79.75,320.28 L80.00,320.29 L80.25,320.30 L80.50,320.31 L80.75,320.33 L81.00,320.34 L81.25,320.35 L81.50,320.37 L81.75,320.38 L82.00,320.39 L82.25,320.41 L82.50,320.42 L82.75,320.43 L83.00,320.45 L83.25,320.46 L83.50,320.47 L83.75,320.48 L84.00,320.50 L84.25,320.51 L84.50,320.52 L84.75,320.54 L85.00,320.55 L85.25,320.56 L85.50,320.58 L85.75,320.59 L86.00,320.60 L86.25,320.61 L86.50,320.63 L86.75,320.64 L87.00,320.65 L87.25,320.67 L87.50,320.68 L87.75,320.69 L88.00,320.71 L88.25,320.72 L88.50,320.73 L88.75,320.74 L89.00,320.76 L89.25,320.77 L89.50,320.78 L89.75,320.80 L90.00,320.81 L90.25,320.82 L90.50,320.83 L90.75,320.85 L91.00,320.86 L91.25,320.87 L91.50,320.88 L91.75,320.90 L92.00,320.91 L92.25,320.92 L92.50,320.93 L92.75,320.95 L93.00,320.96 L93.25,320.97 L93.50,320.98 L93.75,320.99 L94.00,321.01 L94.25,321.02 L94.50,321.03 L94.75,321.04 L95.00,321.06 L95.25,321.07 L95.50,321.08 L95.75,321.09 L96.00,321.11 L96.25,321.12 L96.50,321.13 L96.75,321.14 L97.00,321.15 L97.25,321.17 L97.50,321.18 L97.75,321.19 L98.00,321.20 L98.25,321.22 L98.50,321.23 L98.75,321.24 L99.00,321.25 L99.25,321.27 L99.50,321.28 L99.75,321.29 L100.00,321.30 L100.25,321.32 L100.50,321.33 L100.75,321.34 L101.00,321.35 L101.25,321.36 L101.50,321.38 L101.75,321.39 L102.00,321.40 L102.25,321.41 L102.50,321.43 L102.75,321.44 L103.00,321.45 L103.25,321.46 L103.50,321.48 L103.75,321.49 L104.00,321.50 L104.25,321.51 L104.50,321.52 L104.75,321.53 L105.00,321.54 L105.25,321.54 L105.50,321.55 L105.75,321.56 L106.00,321.57 L106.25,321.58 L106.50,321.59 L106.75,321.60 L107.00,321.61 L107.25,321.62 L107.50,321.62 L107.75,321.63 L108.00,321.64 L108.25,321.65 L108.50,321.66 L108.75,321.67 L109.00,321.68 L109.25,321.69 L109.50,321.69 L109.75,321.70 L110.00,321.71 L110.25,321.72 L110.50,321.73 L110.75,321.74 L111.00,321.75 L111.25,321.76 L111.50,321.77 L111.75,321.77 L112.00,321.78 L112.25,321.79 L112.50,321.80 L112.75,321.81 L113.00,321.82 L113.25,321.83 L113.50,321.84 L113.75,321.85 L114.00,321.85 L114.25,321.86 L114.50,321.87 L114.75,321.88 L115.00,321.89 L115.25,321.90 L115.50,321.91 L115.75,321.92 L116.00,321.92 L116.25,321.93 L116.50,321.94 L116.75,321.95 L117.00,321.96 L117.25,321.97 L117.50,321.98 L117.75,321.99 L118.00,322.00 L118.25,322.00 L118.50,322.01 L118.75,322.02 L119.00,322.03 L119.25,322.04 L119.50,322.05 L119.75,322.06 L120.00,322.07 L120.25,322.07 L120.50,322.08 L120.75,322.09 L121.00,322.10 L121.25,322.11 L121.50,322.12 L121.75,322.13 L122.00,322.14 L122.25,322.15 L122.50,322.15 L122.75,322.16 L123.00,322.17 L123.25,322.18 L123.50,322.19 L123.75,322.20 L124.00,322.21 L124.25,322.22 L124.50,322.23 L124.75,322.23 L125.00,322.24 L125.25,322.25 L125.50,322.26 L125.75,322.27 L126.00,322.28 L126.25,322.29 L126.50,322.30 L126.75,322.31 L127.00,322.31 L127.25,322.32 L127.50,322.33 L127.75,322.34 L128.00,322.35 L128.25,322.36 L128.50,322.37 L128.75,322.38 L129.00,322.38 L129.25,322.39 L129.50,322.40 L129.75,322.41 L130.00,322.42 L130.25,322.43 L130.50,322.44 L130.75,322.45 L131.00,322.47 L131.25,322.48 L131.50,322.49 L131.75,322.50 L132.00,322.51 L132.25,322.52 L132.50,322.54 L132.75,322.55 L133.00,322.56 L133.25,322.57 L133.50,322.58 L133.75,322.59 L134.00,322.60 L134.25,322.62 L134.50,322.63 L134.75,322.64 L135.00,322.65 L135.25,322.66 L135.50,322.67 L135.75,322.68 L136.00,322.70 L136.25,322.71 L136.50,322.72 L136.75,322.73 L137.00,322.74 L137.25,322.75 L137.50,322.76 L137.75,322.78 L138.00,322.79 L138.25,322.80 L138.50,322.81 L138.75,322.82 L139.00,322.83 L139.25,322.85 L139.50,322.86 L139.75,322.87 L140.00,322.88 L140.25,322.89 L140.50,322.90 L140.75,322.91 L141.00,322.93 L141.25,322.94 L141.50,322.95 L141.75,322.96 L142.00,322.97 L142.25,322.98 L142.50,323.00 L142.75,323.01 L143.00,323.02 L143.25,323.03 L143.50,323.04 L143.75,323.05 L144.00,323.06 L144.25,323.08 L144.50,323.09 L144.75,323.10 L145.00,323.11 L145.25,323.12 L145.50,323.13 L145.75,323.14 L146.00,323.16 L146.25,323.17 L146.50,323.18 L146.75,323.19 L147.00,323.20 L147.25,323.21 L147.50,323.23 L147.75,323.24 L148.00,323.25 L148.25,323.26 L148.50,323.27 L148.75,323.28 L149.00,323.29 L149.25,323.31 L149.50,323.32 L149.75,323.33 L150.00,323.34 L150.25,323.37 L150.50,323.39 L150.75,323.42 L151.00,323.44 L151.25,323.47 L151.50,323.49 L151.75,323.52 L152.00,323.54 L152.25,323.57 L152.50,323.59 L152.75,323.62 L153.00,323.64 L153.25,323.67 L153.50,323.69 L153.75,323.72 L154.00,323.74 L154.25,323.77 L154.50,323.80 L154.75,323.82 L155.00,323.85 L155.25,323.87 L155.50,323.90 L155.75,323.92 L156.00,323.95 L156.25,323.97 L156.50,324.00 L156.75,324.02 L157.00,324.05 L157.25,324.07 L157.50,324.10 L157.75,324.12 L158.00,324.15 L158.25,324.17 L158.50,324.20 L158.75,324.23 L159.00,324.25 L159.25,324.28 L159.50,324.30 L159.75,324.33 L160.00,324.35 L160.25,324.44 L160.50,324.53 L160.75,324.61 L161.00,324.70 L161.25,324.79 L161.50,324.88 L161.75,324.96 L162.00,325.05 L162.25,325.14 L162.50,325.23 L162.75,325.31 L163.00,325.40 L163.25,325.49 L163.50,325.58 L163.75,325.66 L164.00,325.75 L164.25,325.84 L164.50,325.93 L164.75,326.01 L165.00,326.10 L165.25,326.48 L165.50,326.87 L165.75,327.25 L166.00,327.63 L166.25,328.02 L166.50,328.40 L166.75,329.41 L167.00,330.41 L167.25,331.42 L167.50,333.20 L167.75,335.17 L168.00,337.14 L168.0,321.50 Z" fill="#bdbdbd" stroke="none"/>
<line x1="38.50" y1="321.50" x2="168.00" y2="321.50" stroke="#bdbdbd" stroke-width="0.5"/>
<text x="36.30" y="304.60" font-size="4.4" text-anchor="end" fill="#555">4</text>
<text x="36.30" y="313.80" font-size="4.4" text-anchor="end" fill="#555">2</text>
<text x="36.30" y="323.00" font-size="4.4" text-anchor="end" fill="#555">0</text>
<text x="36.30" y="332.20" font-size="4.4" text-anchor="end" fill="#555">-2</text>
<text x="30.30" y="319.00" font-size="4.3" text-anchor="middle" fill="#555" transform="rotate(-90 30.3 319)">Ranked list metric (Signal2Noise)</text>
<text x="40.00" y="302.30" font-size="4.3" text-anchor="start" fill="#d04040" textLength="44.2" lengthAdjust="spacingAndGlyphs">'ClassA' (positively correlated)</text>
<text x="106.40" y="338.00" font-size="4.3" text-anchor="start" fill="#4040c0" textLength="46.7" lengthAdjust="spacingAndGlyphs">'ClassB' (negatively correlated)</text>
<text x="88.80" y="320.20" font-size="4.3" text-anchor="start" fill="#555" textLength="26.2" lengthAdjust="spacingAndGlyphs">Zero cross at 5653</text>
<line x1="104.36" y1="298.80" x2="104.36" y2="339.10" stroke="#bbb" stroke-width="0.5" stroke-dasharray="1,1"/>
<text x="38.50" y="344.30" font-size="4.4" text-anchor="middle" fill="#555">0</text>
<text x="61.80" y="344.30" font-size="4.4" text-anchor="middle" fill="#555">2,000</text>
<text x="85.10" y="344.30" font-size="4.4" text-anchor="middle" fill="#555">4,000</text>
<text x="108.40" y="344.30" font-size="4.4" text-anchor="middle" fill="#555">6,000</text>
<text x="131.70" y="344.30" font-size="4.4" text-anchor="middle" fill="#555">8,000</text>
<text x="155.00" y="344.30" font-size="4.4" text-anchor="middle" fill="#555">10,000</text>
<text x="84.90" y="350.40" font-size="5" text-anchor="start" fill="#555" textLength="44.0" lengthAdjust="spacingAndGlyphs">Rank in Ordered Dataset</text>
<rect x="41.60" y="354.20" width="110.50" height="8.00" fill="#fff" stroke="#777" stroke-width="0.7"/>
<line x1="42.90" y1="358.20" x2="48.10" y2="358.20" stroke="#6fd12a" stroke-width="1"/>
<text x="49.00" y="359.80" font-size="4.6" text-anchor="start" fill="#444" textLength="32.0" lengthAdjust="spacingAndGlyphs">Enrichment profile</text>
<line x1="82.90" y1="358.20" x2="87.50" y2="358.20" stroke="#666" stroke-width="0.6"/>
<text x="88.80" y="359.80" font-size="4.6" text-anchor="start" fill="#444" textLength="6.0" lengthAdjust="spacingAndGlyphs">Hits</text>
<line x1="105.30" y1="358.20" x2="109.40" y2="358.20" stroke="#999" stroke-width="0.6"/>
<text x="111.10" y="359.80" font-size="4.6" text-anchor="start" fill="#444" textLength="39.9" lengthAdjust="spacingAndGlyphs">Ranking metric scores</text>
<text x="127.70" y="223.70" font-size="11.3" text-anchor="start" fill="#000">NES=1.4</text>
<text x="127.70" y="236.90" font-size="11.3" text-anchor="start" fill="#000">P=0.01</text>
<text x="40.00" y="313.60" font-size="11.5" text-anchor="start" fill="#000" font-style="italic">Trmt61a</text>
<text x="83.69" y="308.70" font-size="8.625" text-anchor="start" fill="#000" font-style="italic" textLength="11.50" lengthAdjust="spacingAndGlyphs">fl/fl</text>
<text x="106.40" y="313.90" font-size="11.5" text-anchor="start" fill="#000" font-style="italic">Trmt61a</text>
<text x="150.09" y="309.00" font-size="8.625" text-anchor="start" fill="#000" font-style="italic" textLength="24.72" lengthAdjust="spacingAndGlyphs">ΔRorc</text>
<text x="188.00" y="194.60" font-size="18" text-anchor="start" fill="#000" font-weight="bold">d</text>
<rect x="210.00" y="200.00" width="17.70" height="10.03" fill="#f0949e" stroke="none" stroke-width="1"/>
<rect x="227.35" y="200.00" width="17.70" height="10.03" fill="#e04a48" stroke="none" stroke-width="1"/>
<rect x="244.70" y="200.00" width="17.70" height="10.03" fill="#f4b7bf" stroke="none" stroke-width="1"/>
<rect x="262.05" y="200.00" width="17.70" height="10.03" fill="#7a82cc" stroke="none" stroke-width="1"/>
<rect x="279.40" y="200.00" width="17.70" height="10.03" fill="#8e93d6" stroke="none" stroke-width="1"/>
<rect x="296.75" y="200.00" width="17.70" height="10.03" fill="#6671c1" stroke="none" stroke-width="1"/>
<rect x="210.00" y="209.68" width="17.70" height="10.03" fill="#ec7c84" stroke="none" stroke-width="1"/>
<rect x="227.35" y="209.68" width="17.70" height="10.03" fill="#ee8891" stroke="none" stroke-width="1"/>
<rect x="244.70" y="209.68" width="17.70" height="10.03" fill="#ea7078" stroke="none" stroke-width="1"/>
<rect x="262.05" y="209.68" width="17.70" height="10.03" fill="#8e93d6" stroke="none" stroke-width="1"/>
<rect x="279.40" y="209.68" width="17.70" height="10.03" fill="#5562b6" stroke="none" stroke-width="1"/>
<rect x="296.75" y="209.68" width="17.70" height="10.03" fill="#8e93d6" stroke="none" stroke-width="1"/>
<rect x="210.00" y="219.36" width="17.70" height="10.03" fill="#d63428" stroke="none" stroke-width="1"/>
<rect x="227.35" y="219.36" width="17.70" height="10.03" fill="#f5c2ca" stroke="none" stroke-width="1"/>
<rect x="244.70" y="219.36" width="17.70" height="10.03" fill="#faf9fc" stroke="none" stroke-width="1"/>
<rect x="262.05" y="219.36" width="17.70" height="10.03" fill="#7a82cc" stroke="none" stroke-width="1"/>
<rect x="279.40" y="219.36" width="17.70" height="10.03" fill="#848ad1" stroke="none" stroke-width="1"/>
<rect x="296.75" y="219.36" width="17.70" height="10.03" fill="#bbbde8" stroke="none" stroke-width="1"/>
<rect x="210.00" y="229.04" width="17.70" height="10.03" fill="#d93b33" stroke="none" stroke-width="1"/>
<rect x="227.35" y="229.04" width="17.70" height="10.03" fill="#dbdcf2" stroke="none" stroke-width="1"/>
<rect x="244.70" y="229.04" width="17.70" height="10.03" fill="#ee8891" stroke="none" stroke-width="1"/>
<rect x="262.05" y="229.04" width="17.70" height="10.03" fill="#bbbde8" stroke="none" stroke-width="1"/>
<rect x="279.40" y="229.04" width="17.70" height="10.03" fill="#5c68bc" stroke="none" stroke-width="1"/>
<rect x="296.75" y="229.04" width="17.70" height="10.03" fill="#bbbde8" stroke="none" stroke-width="1"/>
<rect x="210.00" y="238.72" width="17.70" height="10.03" fill="#dc423e" stroke="none" stroke-width="1"/>
<rect x="227.35" y="238.72" width="17.70" height="10.03" fill="#dbdcf2" stroke="none" stroke-width="1"/>
<rect x="244.70" y="238.72" width="17.70" height="10.03" fill="#ea7078" stroke="none" stroke-width="1"/>
<rect x="262.05" y="238.72" width="17.70" height="10.03" fill="#5562b6" stroke="none" stroke-width="1"/>
<rect x="279.40" y="238.72" width="17.70" height="10.03" fill="#b0b3e3" stroke="none" stroke-width="1"/>
<rect x="296.75" y="238.72" width="17.70" height="10.03" fill="#b0b3e3" stroke="none" stroke-width="1"/>
<rect x="210.00" y="248.40" width="17.70" height="10.03" fill="#f4b7bf" stroke="none" stroke-width="1"/>
<rect x="227.35" y="248.40" width="17.70" height="10.03" fill="#dbdcf2" stroke="none" stroke-width="1"/>
<rect x="244.70" y="248.40" width="17.70" height="10.03" fill="#d63428" stroke="none" stroke-width="1"/>
<rect x="262.05" y="248.40" width="17.70" height="10.03" fill="#a4a8df" stroke="none" stroke-width="1"/>
<rect x="279.40" y="248.40" width="17.70" height="10.03" fill="#bbbde8" stroke="none" stroke-width="1"/>
<rect x="296.75" y="248.40" width="17.70" height="10.03" fill="#6671c1" stroke="none" stroke-width="1"/>
<rect x="210.00" y="258.08" width="17.70" height="10.03" fill="#e6585e" stroke="none" stroke-width="1"/>
<rect x="227.35" y="258.08" width="17.70" height="10.03" fill="#e8646b" stroke="none" stroke-width="1"/>
<rect x="244.70" y="258.08" width="17.70" height="10.03" fill="#dbdcf2" stroke="none" stroke-width="1"/>
<rect x="262.05" y="258.08" width="17.70" height="10.03" fill="#999eda" stroke="none" stroke-width="1"/>
<rect x="279.40" y="258.08" width="17.70" height="10.03" fill="#f0eff9" stroke="none" stroke-width="1"/>
<rect x="296.75" y="258.08" width="17.70" height="10.03" fill="#4857ab" stroke="none" stroke-width="1"/>
<rect x="210.00" y="267.76" width="17.70" height="10.03" fill="#f9f0f4" stroke="none" stroke-width="1"/>
<rect x="227.35" y="267.76" width="17.70" height="10.03" fill="#dc423e" stroke="none" stroke-width="1"/>
<rect x="244.70" y="267.76" width="17.70" height="10.03" fill="#f5c2ca" stroke="none" stroke-width="1"/>
<rect x="262.05" y="267.76" width="17.70" height="10.03" fill="#dbdcf2" stroke="none" stroke-width="1"/>
<rect x="279.40" y="267.76" width="17.70" height="10.03" fill="#4152a6" stroke="none" stroke-width="1"/>
<rect x="296.75" y="267.76" width="17.70" height="10.03" fill="#d0d2ef" stroke="none" stroke-width="1"/>
<rect x="210.00" y="277.44" width="17.70" height="10.03" fill="#d63428" stroke="none" stroke-width="1"/>
<rect x="227.35" y="277.44" width="17.70" height="10.03" fill="#f8e8ec" stroke="none" stroke-width="1"/>
<rect x="244.70" y="277.44" width="17.70" height="10.03" fill="#faf9fc" stroke="none" stroke-width="1"/>
<rect x="262.05" y="277.44" width="17.70" height="10.03" fill="#bbbde8" stroke="none" stroke-width="1"/>
<rect x="279.40" y="277.44" width="17.70" height="10.03" fill="#4e5db1" stroke="none" stroke-width="1"/>
<rect x="296.75" y="277.44" width="17.70" height="10.03" fill="#dbdcf2" stroke="none" stroke-width="1"/>
<rect x="210.00" y="287.12" width="17.70" height="10.03" fill="#ec7c84" stroke="none" stroke-width="1"/>
<rect x="227.35" y="287.12" width="17.70" height="10.03" fill="#dbdcf2" stroke="none" stroke-width="1"/>
<rect x="244.70" y="287.12" width="17.70" height="10.03" fill="#e35153" stroke="none" stroke-width="1"/>
<rect x="262.05" y="287.12" width="17.70" height="10.03" fill="#8e93d6" stroke="none" stroke-width="1"/>
<rect x="279.40" y="287.12" width="17.70" height="10.03" fill="#4e5db1" stroke="none" stroke-width="1"/>
<rect x="296.75" y="287.12" width="17.70" height="10.03" fill="#faf9fc" stroke="none" stroke-width="1"/>
<rect x="210.00" y="296.80" width="17.70" height="10.03" fill="#ea7078" stroke="none" stroke-width="1"/>
<rect x="227.35" y="296.80" width="17.70" height="10.03" fill="#e6585e" stroke="none" stroke-width="1"/>
<rect x="244.70" y="296.80" width="17.70" height="10.03" fill="#f8e8ec" stroke="none" stroke-width="1"/>
<rect x="262.05" y="296.80" width="17.70" height="10.03" fill="#4152a6" stroke="none" stroke-width="1"/>
<rect x="279.40" y="296.80" width="17.70" height="10.03" fill="#bbbde8" stroke="none" stroke-width="1"/>
<rect x="296.75" y="296.80" width="17.70" height="10.03" fill="#e5e5f6" stroke="none" stroke-width="1"/>
<rect x="210.00" y="306.48" width="17.70" height="10.03" fill="#d63428" stroke="none" stroke-width="1"/>
<rect x="227.35" y="306.48" width="17.70" height="10.03" fill="#faf9fc" stroke="none" stroke-width="1"/>
<rect x="244.70" y="306.48" width="17.70" height="10.03" fill="#f0eff9" stroke="none" stroke-width="1"/>
<rect x="262.05" y="306.48" width="17.70" height="10.03" fill="#c6c8ec" stroke="none" stroke-width="1"/>
<rect x="279.40" y="306.48" width="17.70" height="10.03" fill="#d0d2ef" stroke="none" stroke-width="1"/>
<rect x="296.75" y="306.48" width="17.70" height="10.03" fill="#7079c6" stroke="none" stroke-width="1"/>
<rect x="210.00" y="316.16" width="17.70" height="10.03" fill="#f8dfe5" stroke="none" stroke-width="1"/>
<rect x="227.35" y="316.16" width="17.70" height="10.03" fill="#d63428" stroke="none" stroke-width="1"/>
<rect x="244.70" y="316.16" width="17.70" height="10.03" fill="#dbdcf2" stroke="none" stroke-width="1"/>
<rect x="262.05" y="316.16" width="17.70" height="10.03" fill="#7079c6" stroke="none" stroke-width="1"/>
<rect x="279.40" y="316.16" width="17.70" height="10.03" fill="#e5e5f6" stroke="none" stroke-width="1"/>
<rect x="296.75" y="316.16" width="17.70" height="10.03" fill="#a4a8df" stroke="none" stroke-width="1"/>
<rect x="210.00" y="325.84" width="17.70" height="10.03" fill="#e6585e" stroke="none" stroke-width="1"/>
<rect x="227.35" y="325.84" width="17.70" height="10.03" fill="#f5c2ca" stroke="none" stroke-width="1"/>
<rect x="244.70" y="325.84" width="17.70" height="10.03" fill="#f5c2ca" stroke="none" stroke-width="1"/>
<rect x="262.05" y="325.84" width="17.70" height="10.03" fill="#f9f0f4" stroke="none" stroke-width="1"/>
<rect x="279.40" y="325.84" width="17.70" height="10.03" fill="#4152a6" stroke="none" stroke-width="1"/>
<rect x="296.75" y="325.84" width="17.70" height="10.03" fill="#dbdcf2" stroke="none" stroke-width="1"/>
<rect x="210.00" y="335.52" width="17.70" height="10.03" fill="#f8e8ec" stroke="none" stroke-width="1"/>
<rect x="227.35" y="335.52" width="17.70" height="10.03" fill="#f8dfe5" stroke="none" stroke-width="1"/>
<rect x="244.70" y="335.52" width="17.70" height="10.03" fill="#d63428" stroke="none" stroke-width="1"/>
<rect x="262.05" y="335.52" width="17.70" height="10.03" fill="#848ad1" stroke="none" stroke-width="1"/>
<rect x="279.40" y="335.52" width="17.70" height="10.03" fill="#b0b3e3" stroke="none" stroke-width="1"/>
<rect x="296.75" y="335.52" width="17.70" height="10.03" fill="#8e93d6" stroke="none" stroke-width="1"/>
<rect x="210.00" y="345.20" width="17.70" height="10.03" fill="#f8dfe5" stroke="none" stroke-width="1"/>
<rect x="227.35" y="345.20" width="17.70" height="10.03" fill="#e04a48" stroke="none" stroke-width="1"/>
<rect x="244.70" y="345.20" width="17.70" height="10.03" fill="#f7d7dd" stroke="none" stroke-width="1"/>
<rect x="262.05" y="345.20" width="17.70" height="10.03" fill="#f8e8ec" stroke="none" stroke-width="1"/>
<rect x="279.40" y="345.20" width="17.70" height="10.03" fill="#b0b3e3" stroke="none" stroke-width="1"/>
<rect x="296.75" y="345.20" width="17.70" height="10.03" fill="#4857ab" stroke="none" stroke-width="1"/>
<rect x="210.00" y="354.88" width="17.70" height="10.03" fill="#e5e5f6" stroke="none" stroke-width="1"/>
<rect x="227.35" y="354.88" width="17.70" height="10.03" fill="#ec7c84" stroke="none" stroke-width="1"/>
<rect x="244.70" y="354.88" width="17.70" height="10.03" fill="#e8646b" stroke="none" stroke-width="1"/>
<rect x="262.05" y="354.88" width="17.70" height="10.03" fill="#f7d7dd" stroke="none" stroke-width="1"/>
<rect x="279.40" y="354.88" width="17.70" height="10.03" fill="#4152a6" stroke="none" stroke-width="1"/>
<rect x="296.75" y="354.88" width="17.70" height="10.03" fill="#bbbde8" stroke="none" stroke-width="1"/>
<text x="206.50" y="207.71" font-size="7.98" text-anchor="end" fill="#e0302a" font-style="italic" textLength="15.63" lengthAdjust="spacingAndGlyphs">E2f1</text>
<text x="206.50" y="217.39" font-size="7.98" text-anchor="end" fill="#2a2a2a" font-style="italic" textLength="21.97" lengthAdjust="spacingAndGlyphs">Ube2c</text>
<text x="206.50" y="227.07" font-size="7.98" text-anchor="end" fill="#2a2a2a" font-style="italic" textLength="21.97" lengthAdjust="spacingAndGlyphs">Stmn1</text>
<text x="206.50" y="236.75" font-size="7.98" text-anchor="end" fill="#2a2a2a" font-style="italic" textLength="21.97" lengthAdjust="spacingAndGlyphs">Cdkn3</text>
<text x="206.50" y="246.43" font-size="7.98" text-anchor="end" fill="#2a2a2a" font-style="italic" textLength="14.78" lengthAdjust="spacingAndGlyphs">Tle3</text>
<text x="206.50" y="256.11" font-size="7.98" text-anchor="end" fill="#2a2a2a" font-style="italic" textLength="24.50" lengthAdjust="spacingAndGlyphs">Hmga1</text>
<text x="206.50" y="265.79" font-size="7.98" text-anchor="end" fill="#e0302a" font-style="italic" textLength="17.32" lengthAdjust="spacingAndGlyphs">Birc5</text>
<text x="206.50" y="275.47" font-size="7.98" text-anchor="end" fill="#2a2a2a" font-style="italic" textLength="20.28" lengthAdjust="spacingAndGlyphs">Cenpf</text>
<text x="206.50" y="285.15" font-size="7.98" text-anchor="end" fill="#2a2a2a" font-style="italic" textLength="13.10" lengthAdjust="spacingAndGlyphs">Pbk</text>
<text x="206.50" y="294.83" font-size="7.98" text-anchor="end" fill="#2a2a2a" font-style="italic" textLength="19.85" lengthAdjust="spacingAndGlyphs">Aurka</text>
<text x="206.50" y="304.51" font-size="7.98" text-anchor="end" fill="#2a2a2a" font-style="italic" textLength="21.97" lengthAdjust="spacingAndGlyphs">Ube2s</text>
<text x="206.50" y="314.19" font-size="7.98" text-anchor="end" fill="#2a2a2a" font-style="italic" textLength="26.20" lengthAdjust="spacingAndGlyphs">Cdc25b</text>
<text x="206.50" y="323.87" font-size="7.98" text-anchor="end" fill="#2a2a2a" font-style="italic" textLength="13.94" lengthAdjust="spacingAndGlyphs">Hira</text>
<text x="206.50" y="333.55" font-size="7.98" text-anchor="end" fill="#2a2a2a" font-style="italic" textLength="17.74" lengthAdjust="spacingAndGlyphs">Cdk1</text>
<text x="206.50" y="343.23" font-size="7.98" text-anchor="end" fill="#2a2a2a" font-style="italic" textLength="17.32" lengthAdjust="spacingAndGlyphs">Cks2</text>
<text x="206.50" y="352.91" font-size="7.98" text-anchor="end" fill="#2a2a2a" font-style="italic" textLength="17.74" lengthAdjust="spacingAndGlyphs">Cdc6</text>
<text x="206.50" y="362.59" font-size="7.98" text-anchor="end" fill="#2a2a2a" font-style="italic" textLength="20.68" lengthAdjust="spacingAndGlyphs">Hmmr</text>
<text x="210.90" y="190.80" font-size="9.3" text-anchor="start" fill="#000" font-style="italic">Trmt61a</text>
<text x="245.44" y="187.27" font-size="6.975" text-anchor="start" fill="#000" font-style="italic" textLength="9.30" lengthAdjust="spacingAndGlyphs">fl/fl</text>
<line x1="214.40" y1="194.80" x2="257.80" y2="194.80" stroke="#444" stroke-width="1.2"/>
<text x="265.20" y="190.80" font-size="9.3" text-anchor="start" fill="#000" font-style="italic">Trmt61a</text>
<text x="299.74" y="187.27" font-size="6.975" text-anchor="start" fill="#000" font-style="italic" textLength="20.00" lengthAdjust="spacingAndGlyphs">ΔRorc</text>
<line x1="267.10" y1="194.80" x2="310.40" y2="194.80" stroke="#444" stroke-width="1.2"/>
<line x1="318.00" y1="200.30" x2="318.00" y2="364.20" stroke="#555" stroke-width="1.3"/>
<text x="323.60" y="279.40" font-size="11.5" text-anchor="middle" fill="#000" transform="rotate(90 323.6 279.4)">G2M Checkpoint</text>
<rect x="335.10" y="280.40" width="4.80" height="83.00" fill="url(#cbgrad)"/>
<text x="342.60" y="283.99" font-size="5.8" text-anchor="start" fill="#111" font-weight="bold">2</text>
<text x="342.60" y="303.99" font-size="5.8" text-anchor="start" fill="#111" font-weight="bold">1</text>
<text x="342.60" y="323.99" font-size="5.8" text-anchor="start" fill="#111" font-weight="bold">0</text>
<text x="342.60" y="343.99" font-size="5.8" text-anchor="start" fill="#111" font-weight="bold">-1</text>
<text x="342.60" y="363.99" font-size="5.8" text-anchor="start" fill="#111" font-weight="bold">-2</text>
<text x="362.00" y="196.60" font-size="18" text-anchor="start" fill="#000" font-weight="bold">e</text>
<rect x="532.00" y="241.20" width="135.70" height="6.60" fill="#0d0d0d" stroke="none" stroke-width="1"/>
<line x1="529.50" y1="244.50" x2="532.00" y2="244.50" stroke="#000" stroke-width="0.9"/>
<text x="528.50" y="248.00" font-size="9.8" text-anchor="end" fill="#000">Cell division</text>
<rect x="532.00" y="251.56" width="120.80" height="6.60" fill="#0d0d0d" stroke="none" stroke-width="1"/>
<line x1="529.50" y1="254.86" x2="532.00" y2="254.86" stroke="#000" stroke-width="0.9"/>
<text x="528.50" y="258.36" font-size="9.8" text-anchor="end" fill="#000">Regulation of apoptotic process</text>
<rect x="532.00" y="261.92" width="119.80" height="6.60" fill="#0d0d0d" stroke="none" stroke-width="1"/>
<line x1="529.50" y1="265.22" x2="532.00" y2="265.22" stroke="#000" stroke-width="0.9"/>
<text x="528.50" y="268.72" font-size="9.8" text-anchor="end" fill="#000">Regulation of cell death</text>
<rect x="532.00" y="272.28" width="116.90" height="6.60" fill="#0d0d0d" stroke="none" stroke-width="1"/>
<line x1="529.50" y1="275.58" x2="532.00" y2="275.58" stroke="#000" stroke-width="0.9"/>
<text x="528.50" y="279.08" font-size="9.8" text-anchor="end" fill="#000">Regulation of programmed cell</text>
<rect x="532.00" y="282.64" width="116.70" height="6.60" fill="#0d0d0d" stroke="none" stroke-width="1"/>
<line x1="529.50" y1="285.94" x2="532.00" y2="285.94" stroke="#000" stroke-width="0.9"/>
<text x="528.50" y="289.44" font-size="9.8" text-anchor="end" fill="#000">Negative regulation of biological process</text>
<rect x="532.00" y="293.00" width="114.70" height="6.60" fill="#0d0d0d" stroke="none" stroke-width="1"/>
<line x1="529.50" y1="296.30" x2="532.00" y2="296.30" stroke="#000" stroke-width="0.9"/>
<text x="528.50" y="299.80" font-size="9.8" text-anchor="end" fill="#000">Immune system process</text>
<rect x="532.00" y="303.36" width="113.50" height="6.60" fill="#0d0d0d" stroke="none" stroke-width="1"/>
<line x1="529.50" y1="306.66" x2="532.00" y2="306.66" stroke="#000" stroke-width="0.9"/>
<text x="528.50" y="310.16" font-size="9.8" text-anchor="end" fill="#000">Regulation of cell population proliferation</text>
<rect x="532.00" y="313.72" width="110.40" height="6.60" fill="#0d0d0d" stroke="none" stroke-width="1"/>
<line x1="529.50" y1="317.02" x2="532.00" y2="317.02" stroke="#000" stroke-width="0.9"/>
<text x="528.50" y="320.52" font-size="9.8" text-anchor="end" fill="#000">Leukocyte migration</text>
<rect x="532.00" y="324.08" width="110.40" height="6.60" fill="#0d0d0d" stroke="none" stroke-width="1"/>
<line x1="529.50" y1="327.38" x2="532.00" y2="327.38" stroke="#000" stroke-width="0.9"/>
<text x="528.50" y="330.88" font-size="9.8" text-anchor="end" fill="#000">Hemopoiesis</text>
<line x1="532.00" y1="236.50" x2="532.00" y2="333.40" stroke="#000" stroke-width="1.1"/>
<line x1="531.50" y1="332.90" x2="675.20" y2="332.90" stroke="#000" stroke-width="1.1"/>
<line x1="532.00" y1="332.90" x2="532.00" y2="335.70" stroke="#000" stroke-width="1"/>
<text x="532.00" y="344.80" font-size="11" text-anchor="middle" fill="#000">0</text>
<line x1="579.56" y1="332.90" x2="579.56" y2="335.70" stroke="#000" stroke-width="1"/>
<text x="579.56" y="344.80" font-size="11" text-anchor="middle" fill="#000">2</text>
<line x1="627.12" y1="332.90" x2="627.12" y2="335.70" stroke="#000" stroke-width="1"/>
<text x="627.12" y="344.80" font-size="11" text-anchor="middle" fill="#000">4</text>
<line x1="674.68" y1="332.90" x2="674.68" y2="335.70" stroke="#000" stroke-width="1"/>
<text x="674.68" y="344.80" font-size="11" text-anchor="middle" fill="#000">6</text>
<text x="597.10" y="357.50" font-size="11.7" text-anchor="middle" fill="#000">-log10 (p-value)</text>
<text x="498.50" y="230.70" font-size="11.3" text-anchor="start" fill="#000" textLength="88.4" lengthAdjust="spacingAndGlyphs">Downregulated in</text>
<text x="590.30" y="230.70" font-size="11.2" text-anchor="start" fill="#000" font-style="italic" textLength="40.7" lengthAdjust="spacingAndGlyphs">Trmt61a</text>
<text x="633.90" y="225.00" font-size="8.6" text-anchor="start" fill="#000" font-style="italic" textLength="24.2" lengthAdjust="spacingAndGlyphs">ΔRorc</text>
<text x="660.10" y="230.70" font-size="11.2" text-anchor="start" fill="#000" textLength="23.6" lengthAdjust="spacingAndGlyphs">ILC3</text>
<text x="3.50" y="391.90" font-size="18" text-anchor="start" fill="#000" font-weight="bold">f</text>
<text x="101.00" y="388.10" font-size="11.6" text-anchor="middle" fill="#000">Cell division</text>
<rect x="42.30" y="406.60" width="19.97" height="10.38" fill="#faf9fc" stroke="none" stroke-width="1"/>
<rect x="61.92" y="406.60" width="19.97" height="10.38" fill="#d63428" stroke="none" stroke-width="1"/>
<rect x="81.54" y="406.60" width="19.97" height="10.38" fill="#f9f0f4" stroke="none" stroke-width="1"/>
<rect x="101.16" y="406.60" width="19.97" height="10.38" fill="#bbbde8" stroke="none" stroke-width="1"/>
<rect x="120.78" y="406.60" width="19.97" height="10.38" fill="#e5e5f6" stroke="none" stroke-width="1"/>
<rect x="140.40" y="406.60" width="19.97" height="10.38" fill="#5c68bc" stroke="none" stroke-width="1"/>
<rect x="42.30" y="416.63" width="19.97" height="10.38" fill="#ee8891" stroke="none" stroke-width="1"/>
<rect x="61.92" y="416.63" width="19.97" height="10.38" fill="#f0949e" stroke="none" stroke-width="1"/>
<rect x="81.54" y="416.63" width="19.97" height="10.38" fill="#ec7c84" stroke="none" stroke-width="1"/>
<rect x="101.16" y="416.63" width="19.97" height="10.38" fill="#8e93d6" stroke="none" stroke-width="1"/>
<rect x="120.78" y="416.63" width="19.97" height="10.38" fill="#6671c1" stroke="none" stroke-width="1"/>
<rect x="140.40" y="416.63" width="19.97" height="10.38" fill="#999eda" stroke="none" stroke-width="1"/>
<rect x="42.30" y="426.66" width="19.97" height="10.38" fill="#e5e5f6" stroke="none" stroke-width="1"/>
<rect x="61.92" y="426.66" width="19.97" height="10.38" fill="#f1a0a9" stroke="none" stroke-width="1"/>
<rect x="81.54" y="426.66" width="19.97" height="10.38" fill="#e35153" stroke="none" stroke-width="1"/>
<rect x="101.16" y="426.66" width="19.97" height="10.38" fill="#f8dfe5" stroke="none" stroke-width="1"/>
<rect x="120.78" y="426.66" width="19.97" height="10.38" fill="#6671c1" stroke="none" stroke-width="1"/>
<rect x="140.40" y="426.66" width="19.97" height="10.38" fill="#6671c1" stroke="none" stroke-width="1"/>
<rect x="42.30" y="436.69" width="19.97" height="10.38" fill="#e35153" stroke="none" stroke-width="1"/>
<rect x="61.92" y="436.69" width="19.97" height="10.38" fill="#b0b3e3" stroke="none" stroke-width="1"/>
<rect x="81.54" y="436.69" width="19.97" height="10.38" fill="#e35153" stroke="none" stroke-width="1"/>
<rect x="101.16" y="436.69" width="19.97" height="10.38" fill="#a4a8df" stroke="none" stroke-width="1"/>
<rect x="120.78" y="436.69" width="19.97" height="10.38" fill="#a4a8df" stroke="none" stroke-width="1"/>
<rect x="140.40" y="436.69" width="19.97" height="10.38" fill="#999eda" stroke="none" stroke-width="1"/>
<rect x="42.30" y="446.72" width="19.97" height="10.38" fill="#e35153" stroke="none" stroke-width="1"/>
<rect x="61.92" y="446.72" width="19.97" height="10.38" fill="#f0949e" stroke="none" stroke-width="1"/>
<rect x="81.54" y="446.72" width="19.97" height="10.38" fill="#f5c2ca" stroke="none" stroke-width="1"/>
<rect x="101.16" y="446.72" width="19.97" height="10.38" fill="#5562b6" stroke="none" stroke-width="1"/>
<rect x="120.78" y="446.72" width="19.97" height="10.38" fill="#a4a8df" stroke="none" stroke-width="1"/>
<rect x="140.40" y="446.72" width="19.97" height="10.38" fill="#b0b3e3" stroke="none" stroke-width="1"/>
<rect x="42.30" y="456.75" width="19.97" height="10.38" fill="#f6ced5" stroke="none" stroke-width="1"/>
<rect x="61.92" y="456.75" width="19.97" height="10.38" fill="#d93b33" stroke="none" stroke-width="1"/>
<rect x="81.54" y="456.75" width="19.97" height="10.38" fill="#f8e8ec" stroke="none" stroke-width="1"/>
<rect x="101.16" y="456.75" width="19.97" height="10.38" fill="#7a82cc" stroke="none" stroke-width="1"/>
<rect x="120.78" y="456.75" width="19.97" height="10.38" fill="#7079c6" stroke="none" stroke-width="1"/>
<rect x="140.40" y="456.75" width="19.97" height="10.38" fill="#e5e5f6" stroke="none" stroke-width="1"/>
<rect x="42.30" y="466.78" width="19.97" height="10.38" fill="#d63428" stroke="none" stroke-width="1"/>
<rect x="61.92" y="466.78" width="19.97" height="10.38" fill="#f0eff9" stroke="none" stroke-width="1"/>
<rect x="81.54" y="466.78" width="19.97" height="10.38" fill="#f0eff9" stroke="none" stroke-width="1"/>
<rect x="101.16" y="466.78" width="19.97" height="10.38" fill="#d0d2ef" stroke="none" stroke-width="1"/>
<rect x="120.78" y="466.78" width="19.97" height="10.38" fill="#a4a8df" stroke="none" stroke-width="1"/>
<rect x="140.40" y="466.78" width="19.97" height="10.38" fill="#a4a8df" stroke="none" stroke-width="1"/>
<rect x="42.30" y="476.81" width="19.97" height="10.38" fill="#ee8891" stroke="none" stroke-width="1"/>
<rect x="61.92" y="476.81" width="19.97" height="10.38" fill="#e5e5f6" stroke="none" stroke-width="1"/>
<rect x="81.54" y="476.81" width="19.97" height="10.38" fill="#e35153" stroke="none" stroke-width="1"/>
<rect x="101.16" y="476.81" width="19.97" height="10.38" fill="#a4a8df" stroke="none" stroke-width="1"/>
<rect x="120.78" y="476.81" width="19.97" height="10.38" fill="#5562b6" stroke="none" stroke-width="1"/>
<rect x="140.40" y="476.81" width="19.97" height="10.38" fill="#faf9fc" stroke="none" stroke-width="1"/>
<rect x="42.30" y="486.84" width="19.97" height="10.38" fill="#e6585e" stroke="none" stroke-width="1"/>
<rect x="61.92" y="486.84" width="19.97" height="10.38" fill="#ea7078" stroke="none" stroke-width="1"/>
<rect x="81.54" y="486.84" width="19.97" height="10.38" fill="#e5e5f6" stroke="none" stroke-width="1"/>
<rect x="101.16" y="486.84" width="19.97" height="10.38" fill="#a4a8df" stroke="none" stroke-width="1"/>
<rect x="120.78" y="486.84" width="19.97" height="10.38" fill="#f0eff9" stroke="none" stroke-width="1"/>
<rect x="140.40" y="486.84" width="19.97" height="10.38" fill="#5562b6" stroke="none" stroke-width="1"/>
<rect x="42.30" y="496.87" width="19.97" height="10.38" fill="#d63428" stroke="none" stroke-width="1"/>
<rect x="61.92" y="496.87" width="19.97" height="10.38" fill="#c6c8ec" stroke="none" stroke-width="1"/>
<rect x="81.54" y="496.87" width="19.97" height="10.38" fill="#dbdcf2" stroke="none" stroke-width="1"/>
<rect x="101.16" y="496.87" width="19.97" height="10.38" fill="#bbbde8" stroke="none" stroke-width="1"/>
<rect x="120.78" y="496.87" width="19.97" height="10.38" fill="#b0b3e3" stroke="none" stroke-width="1"/>
<rect x="140.40" y="496.87" width="19.97" height="10.38" fill="#e5e5f6" stroke="none" stroke-width="1"/>
<rect x="42.30" y="506.90" width="19.97" height="10.38" fill="#e6585e" stroke="none" stroke-width="1"/>
<rect x="61.92" y="506.90" width="19.97" height="10.38" fill="#f5c2ca" stroke="none" stroke-width="1"/>
<rect x="81.54" y="506.90" width="19.97" height="10.38" fill="#f4b7bf" stroke="none" stroke-width="1"/>
<rect x="101.16" y="506.90" width="19.97" height="10.38" fill="#f0eff9" stroke="none" stroke-width="1"/>
<rect x="120.78" y="506.90" width="19.97" height="10.38" fill="#5562b6" stroke="none" stroke-width="1"/>
<rect x="140.40" y="506.90" width="19.97" height="10.38" fill="#8e93d6" stroke="none" stroke-width="1"/>
<rect x="42.30" y="516.93" width="19.97" height="10.38" fill="#f0949e" stroke="none" stroke-width="1"/>
<rect x="61.92" y="516.93" width="19.97" height="10.38" fill="#f8dfe5" stroke="none" stroke-width="1"/>
<rect x="81.54" y="516.93" width="19.97" height="10.38" fill="#ec7c84" stroke="none" stroke-width="1"/>
<rect x="101.16" y="516.93" width="19.97" height="10.38" fill="#bbbde8" stroke="none" stroke-width="1"/>
<rect x="120.78" y="516.93" width="19.97" height="10.38" fill="#faf5f8" stroke="none" stroke-width="1"/>
<rect x="140.40" y="516.93" width="19.97" height="10.38" fill="#4857ab" stroke="none" stroke-width="1"/>
<rect x="42.30" y="526.96" width="19.97" height="10.38" fill="#ea7078" stroke="none" stroke-width="1"/>
<rect x="61.92" y="526.96" width="19.97" height="10.38" fill="#e8646b" stroke="none" stroke-width="1"/>
<rect x="81.54" y="526.96" width="19.97" height="10.38" fill="#f0eff9" stroke="none" stroke-width="1"/>
<rect x="101.16" y="526.96" width="19.97" height="10.38" fill="#8e93d6" stroke="none" stroke-width="1"/>
<rect x="120.78" y="526.96" width="19.97" height="10.38" fill="#e5e5f6" stroke="none" stroke-width="1"/>
<rect x="140.40" y="526.96" width="19.97" height="10.38" fill="#5c68bc" stroke="none" stroke-width="1"/>
<rect x="42.30" y="536.99" width="19.97" height="10.38" fill="#e04a48" stroke="none" stroke-width="1"/>
<rect x="61.92" y="536.99" width="19.97" height="10.38" fill="#f1a0a9" stroke="none" stroke-width="1"/>
<rect x="81.54" y="536.99" width="19.97" height="10.38" fill="#e5e5f6" stroke="none" stroke-width="1"/>
<rect x="101.16" y="536.99" width="19.97" height="10.38" fill="#5562b6" stroke="none" stroke-width="1"/>
<rect x="120.78" y="536.99" width="19.97" height="10.38" fill="#e5e5f6" stroke="none" stroke-width="1"/>
<rect x="140.40" y="536.99" width="19.97" height="10.38" fill="#bbbde8" stroke="none" stroke-width="1"/>
<rect x="42.30" y="547.02" width="19.97" height="10.38" fill="#dbdcf2" stroke="none" stroke-width="1"/>
<rect x="61.92" y="547.02" width="19.97" height="10.38" fill="#f8e8ec" stroke="none" stroke-width="1"/>
<rect x="81.54" y="547.02" width="19.97" height="10.38" fill="#d63428" stroke="none" stroke-width="1"/>
<rect x="101.16" y="547.02" width="19.97" height="10.38" fill="#dbdcf2" stroke="none" stroke-width="1"/>
<rect x="120.78" y="547.02" width="19.97" height="10.38" fill="#d0d2ef" stroke="none" stroke-width="1"/>
<rect x="140.40" y="547.02" width="19.97" height="10.38" fill="#848ad1" stroke="none" stroke-width="1"/>
<text x="41.00" y="414.45" font-size="7.875" text-anchor="end" fill="#2a2a2a" font-style="italic" textLength="16.26" lengthAdjust="spacingAndGlyphs">Mei1</text>
<text x="41.00" y="424.48" font-size="7.875" text-anchor="end" fill="#2a2a2a" font-style="italic" textLength="21.68" lengthAdjust="spacingAndGlyphs">Ube2c</text>
<text x="41.00" y="434.51" font-size="7.875" text-anchor="end" fill="#2a2a2a" font-style="italic" textLength="15.84" lengthAdjust="spacingAndGlyphs">Nuf2</text>
<text x="41.00" y="444.54" font-size="7.875" text-anchor="end" fill="#2a2a2a" font-style="italic" textLength="21.68" lengthAdjust="spacingAndGlyphs">Haus5</text>
<text x="41.00" y="454.57" font-size="7.875" text-anchor="end" fill="#2a2a2a" font-style="italic" textLength="27.10" lengthAdjust="spacingAndGlyphs">Klhdc8b</text>
<text x="41.00" y="464.60" font-size="7.875" text-anchor="end" fill="#2a2a2a" font-style="italic" textLength="17.10" lengthAdjust="spacingAndGlyphs">Ska1</text>
<text x="41.00" y="474.63" font-size="7.875" text-anchor="end" fill="#2a2a2a" font-style="italic" textLength="21.27" lengthAdjust="spacingAndGlyphs">Spc24</text>
<text x="41.00" y="484.66" font-size="7.875" text-anchor="end" fill="#2a2a2a" font-style="italic" textLength="19.59" lengthAdjust="spacingAndGlyphs">Aurka</text>
<text x="41.00" y="494.69" font-size="7.875" text-anchor="end" fill="#2a2a2a" font-style="italic" textLength="17.09" lengthAdjust="spacingAndGlyphs">Birc5</text>
<text x="41.00" y="504.72" font-size="7.875" text-anchor="end" fill="#2a2a2a" font-style="italic" textLength="21.68" lengthAdjust="spacingAndGlyphs">Ccna2</text>
<text x="41.00" y="514.75" font-size="7.875" text-anchor="end" fill="#2a2a2a" font-style="italic" textLength="21.68" lengthAdjust="spacingAndGlyphs">Cdca3</text>
<text x="41.00" y="524.78" font-size="7.875" text-anchor="end" fill="#2a2a2a" font-style="italic" textLength="33.64" lengthAdjust="spacingAndGlyphs">Rab11fip4</text>
<text x="41.00" y="534.81" font-size="7.875" text-anchor="end" fill="#2a2a2a" font-style="italic" textLength="21.68" lengthAdjust="spacingAndGlyphs">Cdk14</text>
<text x="41.00" y="544.84" font-size="7.875" text-anchor="end" fill="#2a2a2a" font-style="italic" textLength="21.68" lengthAdjust="spacingAndGlyphs">Cdca2</text>
<text x="41.00" y="554.87" font-size="7.875" text-anchor="end" fill="#2a2a2a" font-style="italic" textLength="15.85" lengthAdjust="spacingAndGlyphs">Llgl2</text>
<text x="52.90" y="401.10" font-size="9.2" text-anchor="start" fill="#000" font-style="italic">Trmt61a</text>
<text x="87.07" y="397.60" font-size="6.9" text-anchor="start" fill="#000" font-style="italic" textLength="9.20" lengthAdjust="spacingAndGlyphs">fl/fl</text>
<line x1="42.80" y1="404.10" x2="98.80" y2="404.10" stroke="#444" stroke-width="1.2"/>
<text x="106.80" y="401.10" font-size="9.2" text-anchor="start" fill="#000" font-style="italic">Trmt61a</text>
<text x="140.97" y="397.60" font-size="6.9" text-anchor="start" fill="#000" font-style="italic" textLength="19.78" lengthAdjust="spacingAndGlyphs">ΔRorc</text>
<line x1="104.90" y1="404.10" x2="161.40" y2="404.10" stroke="#444" stroke-width="1.2"/>
<rect x="166.40" y="472.00" width="5.00" height="83.40" fill="url(#cbgrad)"/>
<text x="174.00" y="475.59" font-size="5.8" text-anchor="start" fill="#111" font-weight="bold">2</text>
<text x="174.00" y="495.69" font-size="5.8" text-anchor="start" fill="#111" font-weight="bold">1</text>
<text x="174.00" y="515.79" font-size="5.8" text-anchor="start" fill="#111" font-weight="bold">0</text>
<text x="174.00" y="535.89" font-size="5.8" text-anchor="start" fill="#111" font-weight="bold">-1</text>
<text x="174.00" y="555.99" font-size="5.8" text-anchor="start" fill="#111" font-weight="bold">-2</text>
<text x="197.00" y="391.50" font-size="18" text-anchor="start" fill="#000" font-weight="bold">g</text>
<text x="374.50" y="387.50" font-size="11.45" text-anchor="middle" fill="#000">Regulation of apoptotic process</text>
<rect x="232.90" y="406.80" width="19.87" height="12.85" fill="#d63428" stroke="none" stroke-width="1"/>
<rect x="252.42" y="406.80" width="19.87" height="12.85" fill="#f7d7dd" stroke="none" stroke-width="1"/>
<rect x="271.94" y="406.80" width="19.87" height="12.85" fill="#f9ecf0" stroke="none" stroke-width="1"/>
<rect x="291.46" y="406.80" width="19.87" height="12.85" fill="#8e93d6" stroke="none" stroke-width="1"/>
<rect x="310.98" y="406.80" width="19.87" height="12.85" fill="#b0b3e3" stroke="none" stroke-width="1"/>
<rect x="330.50" y="406.80" width="19.87" height="12.85" fill="#a4a8df" stroke="none" stroke-width="1"/>
<rect x="232.90" y="419.30" width="19.87" height="12.85" fill="#f8e8ec" stroke="none" stroke-width="1"/>
<rect x="252.42" y="419.30" width="19.87" height="12.85" fill="#f5c2ca" stroke="none" stroke-width="1"/>
<rect x="271.94" y="419.30" width="19.87" height="12.85" fill="#dc423e" stroke="none" stroke-width="1"/>
<rect x="291.46" y="419.30" width="19.87" height="12.85" fill="#b0b3e3" stroke="none" stroke-width="1"/>
<rect x="310.98" y="419.30" width="19.87" height="12.85" fill="#d0d2ef" stroke="none" stroke-width="1"/>
<rect x="330.50" y="419.30" width="19.87" height="12.85" fill="#5c68bc" stroke="none" stroke-width="1"/>
<rect x="232.90" y="431.80" width="19.87" height="12.85" fill="#faf9fc" stroke="none" stroke-width="1"/>
<rect x="252.42" y="431.80" width="19.87" height="12.85" fill="#e8646b" stroke="none" stroke-width="1"/>
<rect x="271.94" y="431.80" width="19.87" height="12.85" fill="#ea7078" stroke="none" stroke-width="1"/>
<rect x="291.46" y="431.80" width="19.87" height="12.85" fill="#7079c6" stroke="none" stroke-width="1"/>
<rect x="310.98" y="431.80" width="19.87" height="12.85" fill="#b0b3e3" stroke="none" stroke-width="1"/>
<rect x="330.50" y="431.80" width="19.87" height="12.85" fill="#a4a8df" stroke="none" stroke-width="1"/>
<rect x="232.90" y="444.30" width="19.87" height="12.85" fill="#f8e8ec" stroke="none" stroke-width="1"/>
<rect x="252.42" y="444.30" width="19.87" height="12.85" fill="#f1a0a9" stroke="none" stroke-width="1"/>
<rect x="271.94" y="444.30" width="19.87" height="12.85" fill="#dc423e" stroke="none" stroke-width="1"/>
<rect x="291.46" y="444.30" width="19.87" height="12.85" fill="#8e93d6" stroke="none" stroke-width="1"/>
<rect x="310.98" y="444.30" width="19.87" height="12.85" fill="#848ad1" stroke="none" stroke-width="1"/>
<rect x="330.50" y="444.30" width="19.87" height="12.85" fill="#b0b3e3" stroke="none" stroke-width="1"/>
<rect x="232.90" y="456.80" width="19.87" height="12.85" fill="#ec7c84" stroke="none" stroke-width="1"/>
<rect x="252.42" y="456.80" width="19.87" height="12.85" fill="#f1a0a9" stroke="none" stroke-width="1"/>
<rect x="271.94" y="456.80" width="19.87" height="12.85" fill="#f5c2ca" stroke="none" stroke-width="1"/>
<rect x="291.46" y="456.80" width="19.87" height="12.85" fill="#999eda" stroke="none" stroke-width="1"/>
<rect x="310.98" y="456.80" width="19.87" height="12.85" fill="#4857ab" stroke="none" stroke-width="1"/>
<rect x="330.50" y="456.80" width="19.87" height="12.85" fill="#faf9fc" stroke="none" stroke-width="1"/>
<rect x="232.90" y="469.30" width="19.87" height="12.85" fill="#f0949e" stroke="none" stroke-width="1"/>
<rect x="252.42" y="469.30" width="19.87" height="12.85" fill="#f8e8ec" stroke="none" stroke-width="1"/>
<rect x="271.94" y="469.30" width="19.87" height="12.85" fill="#e04a48" stroke="none" stroke-width="1"/>
<rect x="291.46" y="469.30" width="19.87" height="12.85" fill="#6671c1" stroke="none" stroke-width="1"/>
<rect x="310.98" y="469.30" width="19.87" height="12.85" fill="#a4a8df" stroke="none" stroke-width="1"/>
<rect x="330.50" y="469.30" width="19.87" height="12.85" fill="#bbbde8" stroke="none" stroke-width="1"/>
<rect x="232.90" y="481.80" width="19.87" height="12.85" fill="#f0949e" stroke="none" stroke-width="1"/>
<rect x="252.42" y="481.80" width="19.87" height="12.85" fill="#dc423e" stroke="none" stroke-width="1"/>
<rect x="271.94" y="481.80" width="19.87" height="12.85" fill="#d0d2ef" stroke="none" stroke-width="1"/>
<rect x="291.46" y="481.80" width="19.87" height="12.85" fill="#a4a8df" stroke="none" stroke-width="1"/>
<rect x="310.98" y="481.80" width="19.87" height="12.85" fill="#a4a8df" stroke="none" stroke-width="1"/>
<rect x="330.50" y="481.80" width="19.87" height="12.85" fill="#bbbde8" stroke="none" stroke-width="1"/>
<rect x="232.90" y="494.30" width="19.87" height="12.85" fill="#d63428" stroke="none" stroke-width="1"/>
<rect x="252.42" y="494.30" width="19.87" height="12.85" fill="#e5e5f6" stroke="none" stroke-width="1"/>
<rect x="271.94" y="494.30" width="19.87" height="12.85" fill="#a4a8df" stroke="none" stroke-width="1"/>
<rect x="291.46" y="494.30" width="19.87" height="12.85" fill="#d0d2ef" stroke="none" stroke-width="1"/>
<rect x="310.98" y="494.30" width="19.87" height="12.85" fill="#d0d2ef" stroke="none" stroke-width="1"/>
<rect x="330.50" y="494.30" width="19.87" height="12.85" fill="#d0d2ef" stroke="none" stroke-width="1"/>
<rect x="232.90" y="506.80" width="19.87" height="12.85" fill="#dbdcf2" stroke="none" stroke-width="1"/>
<rect x="252.42" y="506.80" width="19.87" height="12.85" fill="#d63428" stroke="none" stroke-width="1"/>
<rect x="271.94" y="506.80" width="19.87" height="12.85" fill="#f7d7dd" stroke="none" stroke-width="1"/>
<rect x="291.46" y="506.80" width="19.87" height="12.85" fill="#d0d2ef" stroke="none" stroke-width="1"/>
<rect x="310.98" y="506.80" width="19.87" height="12.85" fill="#999eda" stroke="none" stroke-width="1"/>
<rect x="330.50" y="506.80" width="19.87" height="12.85" fill="#8e93d6" stroke="none" stroke-width="1"/>
<rect x="232.90" y="519.30" width="19.87" height="12.85" fill="#f0949e" stroke="none" stroke-width="1"/>
<rect x="252.42" y="519.30" width="19.87" height="12.85" fill="#dbdcf2" stroke="none" stroke-width="1"/>
<rect x="271.94" y="519.30" width="19.87" height="12.85" fill="#e6585e" stroke="none" stroke-width="1"/>
<rect x="291.46" y="519.30" width="19.87" height="12.85" fill="#999eda" stroke="none" stroke-width="1"/>
<rect x="310.98" y="519.30" width="19.87" height="12.85" fill="#5562b6" stroke="none" stroke-width="1"/>
<rect x="330.50" y="519.30" width="19.87" height="12.85" fill="#faf9fc" stroke="none" stroke-width="1"/>
<rect x="232.90" y="531.80" width="19.87" height="12.85" fill="#e8646b" stroke="none" stroke-width="1"/>
<rect x="252.42" y="531.80" width="19.87" height="12.85" fill="#ea7078" stroke="none" stroke-width="1"/>
<rect x="271.94" y="531.80" width="19.87" height="12.85" fill="#e5e5f6" stroke="none" stroke-width="1"/>
<rect x="291.46" y="531.80" width="19.87" height="12.85" fill="#a4a8df" stroke="none" stroke-width="1"/>
<rect x="310.98" y="531.80" width="19.87" height="12.85" fill="#f0eff9" stroke="none" stroke-width="1"/>
<rect x="330.50" y="531.80" width="19.87" height="12.85" fill="#5562b6" stroke="none" stroke-width="1"/>
<rect x="232.90" y="544.30" width="19.87" height="12.85" fill="#e04a48" stroke="none" stroke-width="1"/>
<rect x="252.42" y="544.30" width="19.87" height="12.85" fill="#f6ced5" stroke="none" stroke-width="1"/>
<rect x="271.94" y="544.30" width="19.87" height="12.85" fill="#f5c2ca" stroke="none" stroke-width="1"/>
<rect x="291.46" y="544.30" width="19.87" height="12.85" fill="#6671c1" stroke="none" stroke-width="1"/>
<rect x="310.98" y="544.30" width="19.87" height="12.85" fill="#d0d2ef" stroke="none" stroke-width="1"/>
<rect x="330.50" y="544.30" width="19.87" height="12.85" fill="#848ad1" stroke="none" stroke-width="1"/>
<rect x="232.90" y="556.80" width="19.87" height="12.85" fill="#e6585e" stroke="none" stroke-width="1"/>
<rect x="252.42" y="556.80" width="19.87" height="12.85" fill="#a4a8df" stroke="none" stroke-width="1"/>
<rect x="271.94" y="556.80" width="19.87" height="12.85" fill="#ea7078" stroke="none" stroke-width="1"/>
<rect x="291.46" y="556.80" width="19.87" height="12.85" fill="#6671c1" stroke="none" stroke-width="1"/>
<rect x="310.98" y="556.80" width="19.87" height="12.85" fill="#c6c8ec" stroke="none" stroke-width="1"/>
<rect x="330.50" y="556.80" width="19.87" height="12.85" fill="#e5e5f6" stroke="none" stroke-width="1"/>
<text x="232.40" y="415.96" font-size="8.085" text-anchor="end" fill="#2a2a2a" font-style="italic" textLength="21.39" lengthAdjust="spacingAndGlyphs">Mmp9</text>
<text x="232.40" y="428.46" font-size="8.085" text-anchor="end" fill="#2a2a2a" font-style="italic" textLength="32.11" lengthAdjust="spacingAndGlyphs">Slc25a27</text>
<text x="232.40" y="440.96" font-size="8.085" text-anchor="end" fill="#2a2a2a" font-style="italic" textLength="16.26" lengthAdjust="spacingAndGlyphs">Ccr5</text>
<text x="232.40" y="453.46" font-size="8.085" text-anchor="end" fill="#2a2a2a" font-style="italic" textLength="17.55" lengthAdjust="spacingAndGlyphs">Bbc3</text>
<text x="232.40" y="465.96" font-size="8.085" text-anchor="end" fill="#2a2a2a" font-style="italic" textLength="22.26" lengthAdjust="spacingAndGlyphs">Dapk3</text>
<text x="232.40" y="478.46" font-size="8.085" text-anchor="end" fill="#2a2a2a" font-style="italic" textLength="11.56" lengthAdjust="spacingAndGlyphs">Sfn</text>
<text x="232.40" y="490.96" font-size="8.085" text-anchor="end" fill="#2a2a2a" font-style="italic" textLength="22.97" lengthAdjust="spacingAndGlyphs">Bcl11b</text>
<text x="232.40" y="503.46" font-size="8.085" text-anchor="end" fill="#2a2a2a" font-style="italic" textLength="25.26" lengthAdjust="spacingAndGlyphs">Bcl2l15</text>
<text x="232.40" y="515.96" font-size="8.085" text-anchor="end" fill="#2a2a2a" font-style="italic" textLength="20.12" lengthAdjust="spacingAndGlyphs">Bmp4</text>
<text x="232.40" y="528.46" font-size="8.085" text-anchor="end" fill="#2a2a2a" font-style="italic" textLength="20.12" lengthAdjust="spacingAndGlyphs">Aurka</text>
<text x="232.40" y="540.96" font-size="8.085" text-anchor="end" fill="#2a2a2a" font-style="italic" textLength="17.54" lengthAdjust="spacingAndGlyphs">Birc5</text>
<text x="232.40" y="553.46" font-size="8.085" text-anchor="end" fill="#2a2a2a" font-style="italic" textLength="20.40" lengthAdjust="spacingAndGlyphs">Car11</text>
<text x="232.40" y="565.96" font-size="8.085" text-anchor="end" fill="#2a2a2a" font-style="italic" textLength="29.54" lengthAdjust="spacingAndGlyphs">Bcl21l12</text>
<text x="241.80" y="401.10" font-size="9.2" text-anchor="start" fill="#000" font-style="italic">Trmt61a</text>
<text x="275.97" y="397.60" font-size="6.9" text-anchor="start" fill="#000" font-style="italic" textLength="9.20" lengthAdjust="spacingAndGlyphs">fl/fl</text>
<line x1="231.90" y1="404.40" x2="287.90" y2="404.40" stroke="#444" stroke-width="1.2"/>
<text x="295.50" y="401.10" font-size="9.2" text-anchor="start" fill="#000" font-style="italic">Trmt61a</text>
<text x="329.67" y="397.60" font-size="6.9" text-anchor="start" fill="#000" font-style="italic" textLength="19.78" lengthAdjust="spacingAndGlyphs">ΔRorc</text>
<line x1="294.10" y1="404.40" x2="350.90" y2="404.40" stroke="#444" stroke-width="1.2"/>
<rect x="394.10" y="408.30" width="19.97" height="12.92" fill="#f0949e" stroke="none" stroke-width="1"/>
<rect x="413.72" y="408.30" width="19.97" height="12.92" fill="#e35153" stroke="none" stroke-width="1"/>
<rect x="433.34" y="408.30" width="19.97" height="12.92" fill="#f4b7bf" stroke="none" stroke-width="1"/>
<rect x="452.96" y="408.30" width="19.97" height="12.92" fill="#8e93d6" stroke="none" stroke-width="1"/>
<rect x="472.58" y="408.30" width="19.97" height="12.92" fill="#999eda" stroke="none" stroke-width="1"/>
<rect x="492.20" y="408.30" width="19.97" height="12.92" fill="#7079c6" stroke="none" stroke-width="1"/>
<rect x="394.10" y="420.87" width="19.97" height="12.92" fill="#f6ced5" stroke="none" stroke-width="1"/>
<rect x="413.72" y="420.87" width="19.97" height="12.92" fill="#f5c2ca" stroke="none" stroke-width="1"/>
<rect x="433.34" y="420.87" width="19.97" height="12.92" fill="#e04a48" stroke="none" stroke-width="1"/>
<rect x="452.96" y="420.87" width="19.97" height="12.92" fill="#4e5db1" stroke="none" stroke-width="1"/>
<rect x="472.58" y="420.87" width="19.97" height="12.92" fill="#bbbde8" stroke="none" stroke-width="1"/>
<rect x="492.20" y="420.87" width="19.97" height="12.92" fill="#bbbde8" stroke="none" stroke-width="1"/>
<rect x="394.10" y="433.44" width="19.97" height="12.92" fill="#f2abb4" stroke="none" stroke-width="1"/>
<rect x="413.72" y="433.44" width="19.97" height="12.92" fill="#f0949e" stroke="none" stroke-width="1"/>
<rect x="433.34" y="433.44" width="19.97" height="12.92" fill="#e6585e" stroke="none" stroke-width="1"/>
<rect x="452.96" y="433.44" width="19.97" height="12.92" fill="#8e93d6" stroke="none" stroke-width="1"/>
<rect x="472.58" y="433.44" width="19.97" height="12.92" fill="#7a82cc" stroke="none" stroke-width="1"/>
<rect x="492.20" y="433.44" width="19.97" height="12.92" fill="#8e93d6" stroke="none" stroke-width="1"/>
<rect x="394.10" y="446.01" width="19.97" height="12.92" fill="#ea7078" stroke="none" stroke-width="1"/>
<rect x="413.72" y="446.01" width="19.97" height="12.92" fill="#e6585e" stroke="none" stroke-width="1"/>
<rect x="433.34" y="446.01" width="19.97" height="12.92" fill="#f7d7dd" stroke="none" stroke-width="1"/>
<rect x="452.96" y="446.01" width="19.97" height="12.92" fill="#848ad1" stroke="none" stroke-width="1"/>
<rect x="472.58" y="446.01" width="19.97" height="12.92" fill="#848ad1" stroke="none" stroke-width="1"/>
<rect x="492.20" y="446.01" width="19.97" height="12.92" fill="#8e93d6" stroke="none" stroke-width="1"/>
<rect x="394.10" y="458.58" width="19.97" height="12.92" fill="#e5e5f6" stroke="none" stroke-width="1"/>
<rect x="413.72" y="458.58" width="19.97" height="12.92" fill="#e8646b" stroke="none" stroke-width="1"/>
<rect x="433.34" y="458.58" width="19.97" height="12.92" fill="#ea7078" stroke="none" stroke-width="1"/>
<rect x="452.96" y="458.58" width="19.97" height="12.92" fill="#6671c1" stroke="none" stroke-width="1"/>
<rect x="472.58" y="458.58" width="19.97" height="12.92" fill="#6671c1" stroke="none" stroke-width="1"/>
<rect x="492.20" y="458.58" width="19.97" height="12.92" fill="#f9f0f4" stroke="none" stroke-width="1"/>
<rect x="394.10" y="471.15" width="19.97" height="12.92" fill="#d0d2ef" stroke="none" stroke-width="1"/>
<rect x="413.72" y="471.15" width="19.97" height="12.92" fill="#d93b33" stroke="none" stroke-width="1"/>
<rect x="433.34" y="471.15" width="19.97" height="12.92" fill="#f0949e" stroke="none" stroke-width="1"/>
<rect x="452.96" y="471.15" width="19.97" height="12.92" fill="#d0d2ef" stroke="none" stroke-width="1"/>
<rect x="472.58" y="471.15" width="19.97" height="12.92" fill="#6671c1" stroke="none" stroke-width="1"/>
<rect x="492.20" y="471.15" width="19.97" height="12.92" fill="#a4a8df" stroke="none" stroke-width="1"/>
<rect x="394.10" y="483.72" width="19.97" height="12.92" fill="#b0b3e3" stroke="none" stroke-width="1"/>
<rect x="413.72" y="483.72" width="19.97" height="12.92" fill="#f7d7dd" stroke="none" stroke-width="1"/>
<rect x="433.34" y="483.72" width="19.97" height="12.92" fill="#d63428" stroke="none" stroke-width="1"/>
<rect x="452.96" y="483.72" width="19.97" height="12.92" fill="#d0d2ef" stroke="none" stroke-width="1"/>
<rect x="472.58" y="483.72" width="19.97" height="12.92" fill="#c6c8ec" stroke="none" stroke-width="1"/>
<rect x="492.20" y="483.72" width="19.97" height="12.92" fill="#999eda" stroke="none" stroke-width="1"/>
<rect x="394.10" y="496.29" width="19.97" height="12.92" fill="#faf5f8" stroke="none" stroke-width="1"/>
<rect x="413.72" y="496.29" width="19.97" height="12.92" fill="#faf5f8" stroke="none" stroke-width="1"/>
<rect x="433.34" y="496.29" width="19.97" height="12.92" fill="#d63428" stroke="none" stroke-width="1"/>
<rect x="452.96" y="496.29" width="19.97" height="12.92" fill="#b0b3e3" stroke="none" stroke-width="1"/>
<rect x="472.58" y="496.29" width="19.97" height="12.92" fill="#dbdcf2" stroke="none" stroke-width="1"/>
<rect x="492.20" y="496.29" width="19.97" height="12.92" fill="#7079c6" stroke="none" stroke-width="1"/>
<rect x="394.10" y="508.86" width="19.97" height="12.92" fill="#c6c8ec" stroke="none" stroke-width="1"/>
<rect x="413.72" y="508.86" width="19.97" height="12.92" fill="#d0d2ef" stroke="none" stroke-width="1"/>
<rect x="433.34" y="508.86" width="19.97" height="12.92" fill="#d63428" stroke="none" stroke-width="1"/>
<rect x="452.96" y="508.86" width="19.97" height="12.92" fill="#dbdcf2" stroke="none" stroke-width="1"/>
<rect x="472.58" y="508.86" width="19.97" height="12.92" fill="#bbbde8" stroke="none" stroke-width="1"/>
<rect x="492.20" y="508.86" width="19.97" height="12.92" fill="#d0d2ef" stroke="none" stroke-width="1"/>
<rect x="394.10" y="521.43" width="19.97" height="12.92" fill="#e35153" stroke="none" stroke-width="1"/>
<rect x="413.72" y="521.43" width="19.97" height="12.92" fill="#e5e5f6" stroke="none" stroke-width="1"/>
<rect x="433.34" y="521.43" width="19.97" height="12.92" fill="#f0949e" stroke="none" stroke-width="1"/>
<rect x="452.96" y="521.43" width="19.97" height="12.92" fill="#7079c6" stroke="none" stroke-width="1"/>
<rect x="472.58" y="521.43" width="19.97" height="12.92" fill="#bbbde8" stroke="none" stroke-width="1"/>
<rect x="492.20" y="521.43" width="19.97" height="12.92" fill="#b0b3e3" stroke="none" stroke-width="1"/>
<rect x="394.10" y="534.00" width="19.97" height="12.92" fill="#f8e8ec" stroke="none" stroke-width="1"/>
<rect x="413.72" y="534.00" width="19.97" height="12.92" fill="#f4b7bf" stroke="none" stroke-width="1"/>
<rect x="433.34" y="534.00" width="19.97" height="12.92" fill="#e04a48" stroke="none" stroke-width="1"/>
<rect x="452.96" y="534.00" width="19.97" height="12.92" fill="#5c68bc" stroke="none" stroke-width="1"/>
<rect x="472.58" y="534.00" width="19.97" height="12.92" fill="#bbbde8" stroke="none" stroke-width="1"/>
<rect x="492.20" y="534.00" width="19.97" height="12.92" fill="#b0b3e3" stroke="none" stroke-width="1"/>
<rect x="394.10" y="546.57" width="19.97" height="12.92" fill="#ee8891" stroke="none" stroke-width="1"/>
<rect x="413.72" y="546.57" width="19.97" height="12.92" fill="#e35153" stroke="none" stroke-width="1"/>
<rect x="433.34" y="546.57" width="19.97" height="12.92" fill="#b0b3e3" stroke="none" stroke-width="1"/>
<rect x="452.96" y="546.57" width="19.97" height="12.92" fill="#7a82cc" stroke="none" stroke-width="1"/>
<rect x="472.58" y="546.57" width="19.97" height="12.92" fill="#f0eff9" stroke="none" stroke-width="1"/>
<rect x="492.20" y="546.57" width="19.97" height="12.92" fill="#b0b3e3" stroke="none" stroke-width="1"/>
<text x="393.70" y="417.50" font-size="8.085" text-anchor="end" fill="#2a2a2a" font-style="italic" textLength="15.84" lengthAdjust="spacingAndGlyphs">E2f1</text>
<text x="393.70" y="430.07" font-size="8.085" text-anchor="end" fill="#2a2a2a" font-style="italic" textLength="19.69" lengthAdjust="spacingAndGlyphs">Snai1</text>
<text x="393.70" y="442.64" font-size="8.085" text-anchor="end" fill="#2a2a2a" font-style="italic" textLength="17.55" lengthAdjust="spacingAndGlyphs">Skp2</text>
<text x="393.70" y="455.21" font-size="8.085" text-anchor="end" fill="#2a2a2a" font-style="italic" textLength="18.41" lengthAdjust="spacingAndGlyphs">Cd3g</text>
<text x="393.70" y="467.78" font-size="8.085" text-anchor="end" fill="#2a2a2a" font-style="italic" textLength="33.40" lengthAdjust="spacingAndGlyphs">Arhgap10</text>
<text x="393.70" y="480.35" font-size="8.085" text-anchor="end" fill="#2a2a2a" font-style="italic" textLength="19.69" lengthAdjust="spacingAndGlyphs">Hyal2</text>
<text x="393.70" y="492.92" font-size="8.085" text-anchor="end" fill="#2a2a2a" font-style="italic" textLength="13.26" lengthAdjust="spacingAndGlyphs">Tlr4</text>
<text x="393.70" y="505.49" font-size="8.085" text-anchor="end" fill="#2a2a2a" font-style="italic" textLength="17.13" lengthAdjust="spacingAndGlyphs">Itga1</text>
<text x="393.70" y="518.06" font-size="8.085" text-anchor="end" fill="#2a2a2a" font-style="italic" textLength="11.55" lengthAdjust="spacingAndGlyphs">Clu</text>
<text x="393.70" y="530.63" font-size="8.085" text-anchor="end" fill="#2a2a2a" font-style="italic" textLength="17.55" lengthAdjust="spacingAndGlyphs">Pcp4</text>
<text x="393.70" y="543.20" font-size="8.085" text-anchor="end" fill="#2a2a2a" font-style="italic" textLength="24.82" lengthAdjust="spacingAndGlyphs">Dhcr24</text>
<text x="393.70" y="555.77" font-size="8.085" text-anchor="end" fill="#2a2a2a" font-style="italic" textLength="12.84" lengthAdjust="spacingAndGlyphs">Ifng</text>
<text x="404.80" y="401.70" font-size="9.2" text-anchor="start" fill="#000" font-style="italic">Trmt61a</text>
<text x="438.97" y="398.20" font-size="6.9" text-anchor="start" fill="#000" font-style="italic" textLength="9.20" lengthAdjust="spacingAndGlyphs">fl/fl</text>
<line x1="394.20" y1="404.50" x2="450.70" y2="404.50" stroke="#444" stroke-width="1.2"/>
<text x="458.30" y="401.70" font-size="9.2" text-anchor="start" fill="#000" font-style="italic">Trmt61a</text>
<text x="492.47" y="398.20" font-size="6.9" text-anchor="start" fill="#000" font-style="italic" textLength="19.78" lengthAdjust="spacingAndGlyphs">ΔRorc</text>
<line x1="456.80" y1="404.50" x2="513.00" y2="404.50" stroke="#444" stroke-width="1.2"/>
<rect x="518.90" y="472.70" width="5.20" height="82.80" fill="url(#cbgrad)"/>
<text x="526.80" y="476.29" font-size="5.8" text-anchor="start" fill="#111" font-weight="bold">2</text>
<text x="526.80" y="496.24" font-size="5.8" text-anchor="start" fill="#111" font-weight="bold">1</text>
<text x="526.80" y="516.19" font-size="5.8" text-anchor="start" fill="#111" font-weight="bold">0</text>
<text x="526.80" y="536.14" font-size="5.8" text-anchor="start" fill="#111" font-weight="bold">-1</text>
<text x="526.80" y="556.09" font-size="5.8" text-anchor="start" fill="#111" font-weight="bold">-2</text>
<text x="3.80" y="604.70" font-size="17.5" text-anchor="start" fill="#000" font-weight="bold">h</text>
<rect x="40.90" y="604.70" width="87.40" height="87.50" fill="#fff" stroke="#555" stroke-width="0.8"/>
<line x1="76.20" y1="605.20" x2="76.20" y2="691.70" stroke="#f2c2a6" stroke-width="0.9"/>
<line x1="41.40" y1="661.90" x2="127.80" y2="661.90" stroke="#f2c2a6" stroke-width="0.9"/>
<path d="M65.65,672.96 L65.15,673.06 L64.65,673.06 L64.15,672.97 L63.90,672.90 L63.48,672.70 L63.15,672.45 L62.95,672.20 L62.84,671.95 L62.83,671.45 L62.93,671.20 L63.15,670.89 L63.40,670.67 L63.78,670.45 L64.15,670.31 L64.61,670.20 L64.90,670.17 L65.37,670.20 L65.65,670.26 L66.07,670.45 L66.39,670.70 L66.58,670.95 L66.69,671.20 L66.75,671.70 L66.65,672.11 L66.44,672.45 L66.17,672.70 L65.90,672.86 L65.65,672.96 M66.40,674.47 L65.90,674.60 L65.40,674.67 L64.90,674.69 L64.40,674.66 L63.90,674.59 L63.40,674.48 L63.15,674.41 L62.65,674.22 L62.40,674.10 L62.14,673.95 L61.80,673.70 L61.55,673.45 L61.35,673.20 L61.15,672.87 L60.99,672.45 L60.90,672.00 L60.88,671.70 L60.90,671.44 L61.00,670.95 L61.15,670.58 L61.37,670.20 L61.57,669.95 L61.82,669.70 L62.13,669.45 L62.40,669.27 L62.65,669.14 L63.07,668.95 L63.40,668.83 L63.87,668.70 L64.15,668.64 L64.65,668.57 L65.15,668.54 L65.65,668.57 L66.15,668.66 L66.40,668.73 L66.90,668.94 L67.15,669.08 L67.40,669.25 L67.65,669.46 L67.90,669.72 L68.15,670.07 L68.36,670.45 L68.45,670.70 L68.57,671.20 L68.60,671.70 L68.54,672.20 L68.40,672.63 L68.26,672.95 L68.11,673.20 L67.90,673.47 L67.65,673.74 L67.40,673.95 L67.02,674.20 L66.65,674.38 L66.40,674.47 M65.40,675.70 L64.90,675.71 L64.65,675.70 L64.15,675.65 L63.65,675.58 L63.15,675.47 L62.90,675.40 L62.40,675.23 L62.15,675.13 L61.79,674.95 L61.40,674.70 L61.15,674.51 L60.90,674.27 L60.65,673.99 L60.44,673.70 L60.30,673.45 L60.15,673.12 L60.01,672.70 L59.91,672.20 L59.89,671.95 L59.90,671.45 L59.92,671.20 L60.03,670.70 L60.15,670.35 L60.33,669.95 L60.48,669.70 L60.66,669.45 L60.90,669.17 L61.15,668.92 L61.42,668.70 L61.79,668.45 L62.15,668.25 L62.40,668.13 L62.85,667.95 L63.15,667.84 L63.65,667.71 L63.90,667.65 L64.40,667.57 L64.90,667.52 L65.40,667.52 L65.90,667.55 L66.40,667.64 L66.65,667.71 L67.15,667.88 L67.40,668.00 L67.76,668.20 L68.13,668.45 L68.40,668.68 L68.65,668.92 L68.89,669.20 L69.08,669.45 L69.24,669.70 L69.40,670.02 L69.58,670.45 L69.65,670.71 L69.74,671.20 L69.76,671.70 L69.71,672.20 L69.65,672.45 L69.49,672.95 L69.38,673.20 L69.15,673.62 L68.92,673.95 L68.72,674.20 L68.48,674.45 L68.19,674.70 L67.90,674.91 L67.65,675.07 L67.40,675.20 L66.90,675.42 L66.65,675.50 L66.15,675.62 L65.65,675.69 L65.40,675.70 M66.15,676.45 L65.65,676.51 L65.15,676.53 L64.65,676.51 L64.15,676.47 L63.90,676.43 L63.40,676.35 L62.90,676.23 L62.65,676.16 L62.15,676.00 L61.90,675.90 L61.50,675.70 L61.15,675.50 L60.90,675.32 L60.65,675.12 L60.40,674.89 L60.15,674.61 L59.90,674.27 L59.70,673.95 L59.57,673.70 L59.40,673.27 L59.30,672.95 L59.19,672.45 L59.15,671.96 L59.14,671.70 L59.15,671.45 L59.21,670.95 L59.32,670.45 L59.40,670.20 L59.61,669.70 L59.74,669.45 L59.90,669.19 L60.15,668.85 L60.40,668.56 L60.65,668.32 L60.90,668.10 L61.15,667.92 L61.50,667.70 L61.90,667.48 L62.15,667.36 L62.56,667.20 L62.90,667.08 L63.37,666.95 L63.65,666.88 L64.15,666.78 L64.65,666.72 L65.03,666.70 L65.40,666.69 L65.65,666.70 L66.15,666.75 L66.65,666.84 L67.03,666.95 L67.40,667.08 L67.68,667.20 L68.15,667.44 L68.40,667.60 L68.65,667.77 L68.90,667.97 L69.15,668.20 L69.40,668.45 L69.65,668.74 L69.90,669.07 L70.15,669.45 L70.30,669.70 L70.42,669.95 L70.63,670.45 L70.71,670.70 L70.80,671.20 L70.81,671.70 L70.74,672.20 L70.65,672.51 L70.50,672.95 L70.39,673.20 L70.15,673.68 L69.99,673.95 L69.82,674.20 L69.64,674.45 L69.40,674.73 L69.15,674.99 L68.90,675.22 L68.61,675.45 L68.24,675.70 L67.90,675.90 L67.65,676.02 L67.19,676.20 L66.90,676.30 L66.40,676.41 L66.15,676.45 M65.65,677.22 L65.15,677.23 L64.65,677.21 L64.40,677.19 L63.90,677.13 L63.40,677.05 L62.96,676.95 L62.65,676.88 L62.15,676.72 L61.90,676.63 L61.49,676.45 L61.15,676.28 L60.90,676.13 L60.63,675.95 L60.31,675.70 L60.03,675.45 L59.80,675.20 L59.59,674.95 L59.40,674.68 L59.15,674.26 L58.99,673.95 L58.89,673.70 L58.73,673.20 L58.65,672.87 L58.57,672.45 L58.53,671.95 L58.54,671.45 L58.59,670.95 L58.65,670.62 L58.75,670.20 L58.90,669.77 L59.03,669.45 L59.16,669.20 L59.40,668.79 L59.64,668.45 L59.85,668.20 L60.08,667.95 L60.35,667.70 L60.65,667.46 L60.90,667.28 L61.15,667.12 L61.46,666.95 L61.90,666.73 L62.15,666.62 L62.63,666.45 L62.90,666.36 L63.40,666.23 L63.65,666.17 L64.15,666.08 L64.65,666.02 L65.15,665.99 L65.65,665.99 L66.15,666.03 L66.65,666.11 L67.00,666.20 L67.40,666.31 L67.76,666.45 L68.15,666.62 L68.40,666.75 L68.73,666.95 L69.10,667.20 L69.40,667.44 L69.65,667.65 L69.90,667.89 L70.15,668.15 L70.40,668.43 L70.63,668.70 L70.85,668.95 L71.06,669.20 L71.28,669.45 L71.52,669.70 L71.82,669.95 L72.15,670.13 L72.65,670.12 L73.14,669.95 L73.40,669.85 L73.82,669.70 L74.15,669.61 L74.65,669.53 L75.15,669.53 L75.65,669.61 L75.92,669.70 L76.40,669.94 L76.65,670.15 L76.90,670.44 L77.03,670.70 L77.12,671.20 L77.01,671.70 L76.88,671.95 L76.65,672.22 L76.37,672.45 L75.90,672.70 L75.65,672.78 L75.15,672.87 L74.65,672.87 L74.15,672.81 L73.72,672.70 L73.40,672.60 L72.90,672.45 L72.65,672.40 L72.31,672.45 L71.90,672.69 L71.65,672.95 L71.46,673.20 L71.28,673.45 L71.11,673.70 L70.90,674.00 L70.65,674.36 L70.40,674.69 L70.19,674.95 L69.97,675.20 L69.73,675.45 L69.46,675.70 L69.15,675.95 L68.90,676.14 L68.65,676.30 L68.39,676.45 L67.90,676.69 L67.65,676.80 L67.19,676.95 L66.90,677.03 L66.40,677.14 L65.90,677.20 L65.65,677.22 M66.65,677.73 L66.15,677.81 L65.65,677.85 L65.15,677.86 L64.65,677.84 L64.15,677.79 L63.65,677.71 L63.40,677.67 L62.90,677.57 L62.47,677.45 L62.15,677.36 L61.72,677.20 L61.40,677.07 L61.15,676.95 L60.70,676.70 L60.40,676.51 L60.15,676.32 L59.90,676.12 L59.65,675.88 L59.40,675.61 L59.15,675.30 L58.91,674.95 L58.76,674.70 L58.63,674.45 L58.41,673.95 L58.31,673.70 L58.17,673.20 L58.12,672.95 L58.03,672.45 L58.00,671.95 L58.00,671.45 L58.04,670.95 L58.14,670.45 L58.19,670.20 L58.34,669.70 L58.44,669.45 L58.65,668.98 L58.80,668.70 L58.95,668.45 L59.15,668.17 L59.40,667.85 L59.65,667.57 L59.90,667.32 L60.15,667.11 L60.40,666.91 L60.71,666.70 L61.13,666.45 L61.40,666.30 L61.65,666.19 L62.15,665.98 L62.40,665.88 L62.90,665.73 L63.15,665.66 L63.65,665.54 L64.15,665.45 L64.40,665.42 L64.90,665.37 L65.40,665.36 L65.90,665.38 L66.40,665.43 L66.65,665.47 L67.15,665.58 L67.55,665.70 L67.90,665.82 L68.21,665.95 L68.65,666.16 L68.90,666.30 L69.15,666.46 L69.51,666.70 L69.83,666.95 L70.13,667.20 L70.40,667.45 L70.65,667.68 L70.90,667.91 L71.15,668.14 L71.40,668.34 L71.65,668.52 L72.04,668.70 L72.40,668.78 L72.90,668.77 L73.36,668.70 L73.65,668.65 L74.15,668.57 L74.65,668.53 L75.15,668.53 L75.65,668.58 L76.15,668.69 L76.40,668.77 L76.85,668.95 L77.15,669.11 L77.40,669.27 L77.65,669.46 L77.90,669.70 L78.15,670.03 L78.36,670.45 L78.43,670.70 L78.46,671.20 L78.40,671.56 L78.27,671.95 L78.14,672.20 L77.90,672.56 L77.65,672.84 L77.40,673.06 L77.15,673.24 L76.78,673.45 L76.40,673.62 L76.14,673.70 L75.65,673.81 L75.15,673.87 L74.65,673.88 L74.15,673.85 L73.65,673.80 L73.15,673.75 L72.65,673.78 L72.15,673.95 L71.90,674.11 L71.65,674.33 L71.40,674.59 L71.15,674.87 L70.90,675.16 L70.65,675.44 L70.40,675.70 L70.15,675.95 L69.90,676.17 L69.65,676.38 L69.40,676.57 L69.15,676.74 L68.80,676.95 L68.40,677.16 L68.15,677.28 L67.70,677.45 L67.40,677.55 L66.90,677.68 L66.65,677.73 M67.15,678.21 L66.65,678.32 L66.15,678.38 L65.65,678.41 L65.15,678.42 L64.65,678.40 L64.15,678.36 L63.65,678.28 L63.22,678.20 L62.90,678.14 L62.40,678.01 L62.15,677.93 L61.65,677.76 L61.40,677.66 L60.95,677.45 L60.65,677.30 L60.40,677.15 L60.11,676.95 L59.78,676.70 L59.50,676.45 L59.24,676.20 L59.02,675.95 L58.82,675.70 L58.64,675.45 L58.40,675.07 L58.20,674.70 L58.08,674.45 L57.90,673.98 L57.80,673.70 L57.68,673.20 L57.63,672.95 L57.55,672.45 L57.52,671.95 L57.52,671.45 L57.56,670.95 L57.64,670.45 L57.69,670.20 L57.83,669.70 L57.91,669.45 L58.11,668.95 L58.23,668.70 L58.40,668.40 L58.65,668.00 L58.86,667.70 L59.06,667.45 L59.28,667.20 L59.54,666.95 L59.82,666.70 L60.14,666.45 L60.40,666.26 L60.65,666.10 L60.91,665.95 L61.40,665.70 L61.65,665.58 L61.99,665.45 L62.40,665.29 L62.72,665.20 L63.15,665.07 L63.65,664.97 L63.90,664.92 L64.40,664.84 L64.90,664.80 L65.40,664.79 L65.90,664.80 L66.40,664.85 L66.90,664.94 L67.15,664.99 L67.65,665.12 L67.90,665.21 L68.40,665.40 L68.65,665.51 L69.01,665.70 L69.40,665.93 L69.65,666.08 L69.90,666.26 L70.15,666.45 L70.47,666.70 L70.77,666.95 L71.07,667.20 L71.39,667.45 L71.65,667.62 L71.90,667.75 L72.40,667.91 L72.90,667.95 L73.40,667.91 L73.90,667.86 L74.40,667.82 L74.90,667.80 L75.40,667.83 L75.90,667.89 L76.18,667.95 L76.65,668.07 L77.02,668.20 L77.40,668.36 L77.65,668.48 L78.03,668.70 L78.39,668.95 L78.65,669.15 L78.90,669.39 L79.15,669.67 L79.34,669.95 L79.45,670.20 L79.55,670.70 L79.52,671.20 L79.40,671.62 L79.28,671.95 L79.15,672.22 L78.90,672.64 L78.67,672.95 L78.45,673.20 L78.18,673.45 L77.90,673.67 L77.65,673.84 L77.40,673.99 L76.94,674.20 L76.65,674.31 L76.15,674.45 L75.90,674.50 L75.40,674.57 L74.90,674.60 L74.40,674.60 L73.90,674.58 L73.40,674.57 L72.90,674.61 L72.55,674.70 L72.15,674.90 L71.90,675.08 L71.65,675.30 L71.40,675.54 L71.15,675.80 L70.90,676.05 L70.65,676.29 L70.40,676.52 L70.15,676.73 L69.86,676.95 L69.51,677.20 L69.15,677.42 L68.90,677.56 L68.61,677.70 L68.15,677.90 L67.90,677.99 L67.40,678.15 L67.15,678.21 M67.15,678.76 L66.65,678.85 L66.15,678.91 L65.65,678.94 L65.15,678.94 L64.65,678.92 L64.15,678.88 L63.65,678.81 L63.15,678.71 L62.90,678.66 L62.40,678.54 L62.12,678.45 L61.65,678.30 L61.40,678.20 L60.90,677.98 L60.65,677.86 L60.38,677.70 L59.98,677.45 L59.65,677.21 L59.40,677.01 L59.15,676.78 L58.90,676.52 L58.65,676.24 L58.43,675.95 L58.25,675.70 L58.09,675.45 L57.90,675.11 L57.70,674.70 L57.59,674.45 L57.42,673.95 L57.34,673.70 L57.22,673.20 L57.15,672.72 L57.11,672.45 L57.08,671.95 L57.08,671.45 L57.12,670.95 L57.16,670.70 L57.23,670.20 L57.36,669.70 L57.44,669.45 L57.62,668.95 L57.73,668.70 L57.90,668.35 L58.13,667.95 L58.28,667.70 L58.46,667.45 L58.66,667.20 L58.90,666.92 L59.15,666.66 L59.40,666.42 L59.66,666.20 L59.99,665.95 L60.36,665.70 L60.65,665.52 L60.90,665.38 L61.28,665.20 L61.65,665.03 L61.90,664.94 L62.40,664.76 L62.65,664.68 L63.15,664.54 L63.60,664.45 L63.90,664.39 L64.40,664.32 L64.90,664.28 L65.40,664.26 L65.90,664.27 L66.40,664.32 L66.90,664.39 L67.15,664.45 L67.65,664.57 L68.05,664.70 L68.40,664.82 L68.69,664.95 L69.15,665.17 L69.40,665.30 L69.65,665.45 L70.04,665.70 L70.39,665.95 L70.65,666.14 L70.90,666.33 L71.15,666.53 L71.40,666.71 L71.77,666.95 L72.15,667.13 L72.40,667.21 L72.90,667.28 L73.40,667.28 L73.90,667.25 L74.40,667.22 L74.90,667.22 L75.40,667.24 L75.90,667.29 L76.40,667.38 L76.66,667.45 L77.15,667.59 L77.44,667.70 L77.90,667.89 L78.15,668.01 L78.51,668.20 L78.90,668.42 L79.15,668.57 L79.40,668.73 L79.73,668.95 L80.06,669.20 L80.35,669.45 L80.56,669.70 L80.71,669.95 L80.79,670.45 L80.66,670.95 L80.56,671.20 L80.40,671.52 L80.18,671.95 L80.04,672.20 L79.89,672.45 L79.65,672.81 L79.40,673.15 L79.15,673.44 L78.90,673.69 L78.65,673.92 L78.40,674.11 L78.15,674.28 L77.86,674.45 L77.40,674.68 L77.15,674.78 L76.65,674.94 L76.40,675.01 L75.90,675.11 L75.40,675.17 L74.90,675.19 L74.40,675.20 L73.90,675.20 L73.65,675.21 L73.15,675.26 L72.65,675.40 L72.40,675.52 L72.13,675.70 L71.82,675.95 L71.55,676.20 L71.28,676.45 L71.01,676.70 L70.73,676.95 L70.42,677.20 L70.15,677.41 L69.90,677.59 L69.65,677.75 L69.30,677.95 L68.90,678.16 L68.65,678.27 L68.20,678.45 L67.90,678.56 L67.40,678.69 L67.15,678.76 M67.40,679.20 L66.90,679.31 L66.40,679.38 L65.90,679.42 L65.40,679.43 L64.90,679.42 L64.40,679.39 L63.90,679.34 L63.40,679.25 L63.15,679.20 L62.65,679.10 L62.15,678.95 L61.90,678.88 L61.40,678.70 L61.15,678.61 L60.81,678.45 L60.40,678.25 L60.15,678.11 L59.90,677.94 L59.55,677.70 L59.23,677.45 L58.95,677.20 L58.70,676.95 L58.47,676.70 L58.26,676.45 L58.07,676.20 L57.90,675.94 L57.65,675.53 L57.47,675.20 L57.35,674.95 L57.15,674.45 L57.06,674.20 L56.92,673.70 L56.86,673.45 L56.76,672.95 L56.70,672.45 L56.67,671.95 L56.67,671.45 L56.70,670.95 L56.77,670.45 L56.87,669.95 L56.93,669.70 L57.08,669.20 L57.17,668.95 L57.38,668.45 L57.49,668.20 L57.65,667.92 L57.90,667.50 L58.10,667.20 L58.29,666.95 L58.50,666.70 L58.73,666.45 L58.97,666.20 L59.25,665.95 L59.56,665.70 L59.90,665.45 L60.15,665.28 L60.40,665.13 L60.73,664.95 L61.15,664.74 L61.40,664.62 L61.84,664.45 L62.15,664.33 L62.59,664.20 L62.90,664.11 L63.40,663.99 L63.65,663.94 L64.15,663.86 L64.65,663.80 L65.15,663.77 L65.65,663.77 L66.15,663.80 L66.65,663.85 L67.15,663.94 L67.40,663.99 L67.90,664.12 L68.15,664.21 L68.65,664.39 L68.90,664.49 L69.33,664.70 L69.65,664.87 L69.90,665.01 L70.19,665.20 L70.56,665.45 L70.90,665.70 L71.15,665.87 L71.40,666.05 L71.65,666.23 L72.05,666.45 L72.40,666.59 L72.88,666.70 L73.15,666.72 L73.65,666.73 L74.15,666.71 L74.65,666.70 L75.15,666.71 L75.65,666.74 L76.15,666.81 L76.65,666.91 L76.90,666.97 L77.40,667.12 L77.65,667.21 L78.15,667.40 L78.40,667.51 L78.80,667.70 L79.15,667.86 L79.40,667.98 L79.85,668.20 L80.15,668.33 L80.40,668.45 L80.90,668.67 L81.15,668.78 L81.50,668.95 L81.90,669.19 L82.15,669.39 L82.40,669.68 L82.50,669.95 L82.40,670.40 L82.22,670.70 L82.01,670.95 L81.78,671.20 L81.53,671.45 L81.30,671.70 L81.08,671.95 L80.88,672.20 L80.65,672.50 L80.40,672.85 L80.15,673.18 L79.94,673.45 L79.72,673.70 L79.48,673.95 L79.20,674.20 L78.90,674.44 L78.65,674.62 L78.40,674.78 L78.08,674.95 L77.65,675.15 L77.40,675.25 L76.90,675.42 L76.65,675.48 L76.15,675.59 L75.65,675.66 L75.15,675.70 L74.90,675.71 L74.40,675.73 L73.90,675.75 L73.40,675.81 L72.90,675.94 L72.65,676.06 L72.40,676.20 L72.07,676.45 L71.78,676.70 L71.50,676.95 L71.21,677.20 L70.91,677.45 L70.65,677.66 L70.40,677.85 L70.15,678.02 L69.86,678.20 L69.42,678.45 L69.15,678.59 L68.90,678.70 L68.40,678.91 L68.15,678.99 L67.65,679.15 L67.40,679.20 M67.15,679.73 L66.65,679.82 L66.15,679.87 L65.65,679.90 L65.15,679.90 L64.65,679.88 L64.15,679.83 L63.65,679.76 L63.34,679.70 L62.90,679.62 L62.40,679.49 L62.15,679.42 L61.65,679.27 L61.40,679.18 L60.90,678.97 L60.65,678.86 L60.34,678.70 L59.90,678.45 L59.65,678.30 L59.40,678.12 L59.15,677.93 L58.88,677.70 L58.61,677.45 L58.37,677.20 L58.15,676.95 L57.90,676.65 L57.65,676.30 L57.43,675.95 L57.28,675.70 L57.15,675.44 L56.92,674.95 L56.82,674.70 L56.66,674.20 L56.58,673.95 L56.46,673.45 L56.40,673.10 L56.33,672.70 L56.29,672.20 L56.28,671.70 L56.29,671.20 L56.34,670.70 L56.40,670.34 L56.46,669.95 L56.59,669.45 L56.67,669.20 L56.84,668.70 L56.94,668.45 L57.15,668.00 L57.30,667.70 L57.45,667.45 L57.65,667.14 L57.90,666.78 L58.15,666.47 L58.39,666.20 L58.63,665.95 L58.90,665.70 L59.15,665.48 L59.40,665.27 L59.65,665.09 L59.90,664.93 L60.27,664.70 L60.65,664.49 L60.90,664.36 L61.26,664.20 L61.65,664.03 L61.90,663.95 L62.40,663.77 L62.68,663.70 L63.15,663.57 L63.65,663.47 L63.90,663.43 L64.40,663.36 L64.90,663.32 L65.40,663.30 L65.90,663.31 L66.40,663.35 L66.90,663.42 L67.15,663.47 L67.65,663.57 L68.08,663.70 L68.40,663.79 L68.80,663.95 L69.15,664.09 L69.40,664.21 L69.85,664.45 L70.15,664.61 L70.40,664.77 L70.67,664.95 L71.03,665.20 L71.39,665.45 L71.65,665.63 L71.90,665.78 L72.21,665.95 L72.65,666.11 L73.05,666.20 L73.40,666.23 L73.90,666.24 L74.40,666.24 L74.90,666.24 L75.40,666.26 L75.90,666.30 L76.40,666.38 L76.71,666.45 L77.15,666.55 L77.63,666.70 L77.90,666.79 L78.32,666.95 L78.65,667.08 L78.92,667.20 L79.40,667.40 L79.65,667.50 L80.14,667.70 L80.40,667.79 L80.88,667.95 L81.15,668.03 L81.65,668.19 L81.90,668.26 L82.40,668.43 L82.65,668.52 L83.15,668.69 L83.40,668.78 L83.90,668.90 L84.40,668.91 L84.90,668.80 L85.18,668.70 L85.65,668.55 L85.99,668.45 L86.40,668.37 L86.90,668.34 L87.40,668.38 L87.73,668.45 L88.15,668.60 L88.40,668.73 L88.71,668.95 L88.97,669.20 L89.16,669.45 L89.24,669.95 L88.98,670.20 L88.65,670.36 L88.40,670.46 L87.90,670.60 L87.40,670.68 L87.15,670.70 L86.65,670.71 L86.40,670.69 L85.90,670.63 L85.40,670.55 L84.90,670.50 L84.40,670.55 L84.03,670.70 L83.65,670.90 L83.40,671.06 L83.15,671.23 L82.82,671.45 L82.44,671.70 L82.15,671.91 L81.90,672.10 L81.65,672.32 L81.40,672.56 L81.15,672.84 L80.90,673.13 L80.65,673.44 L80.43,673.70 L80.21,673.95 L79.97,674.20 L79.70,674.45 L79.40,674.69 L79.15,674.88 L78.90,675.05 L78.64,675.20 L78.16,675.45 L77.90,675.57 L77.55,675.70 L77.15,675.84 L76.68,675.95 L76.40,676.02 L75.90,676.10 L75.40,676.15 L74.90,676.18 L74.49,676.20 L74.15,676.22 L73.65,676.29 L73.15,676.41 L72.90,676.52 L72.59,676.70 L72.25,676.95 L71.95,677.20 L71.65,677.45 L71.40,677.67 L71.15,677.87 L70.90,678.07 L70.65,678.25 L70.35,678.45 L69.94,678.70 L69.65,678.86 L69.40,678.99 L68.92,679.20 L68.65,679.32 L68.24,679.45 L67.90,679.56 L67.40,679.68 L67.15,679.73 M92.15,670.47 L91.65,670.67 L91.26,670.45 L91.57,670.20 L91.73,670.20 L92.15,670.44 L92.15,670.47" fill="none" stroke="#6e6e6e" stroke-width="0.3"/>
<g fill="#555">
<circle cx="81.5" cy="660.1" r="0.4"/>
<circle cx="90.8" cy="665.6" r="0.4"/>
<circle cx="78.2" cy="671.0" r="0.4"/>
<circle cx="101.5" cy="655.8" r="0.4"/>
<circle cx="91.1" cy="664.5" r="0.4"/>
<circle cx="87.6" cy="667.1" r="0.4"/>
<circle cx="96.5" cy="651.9" r="0.4"/>
<circle cx="82.7" cy="681.7" r="0.4"/>
<circle cx="94.5" cy="664.4" r="0.4"/>
<circle cx="94.3" cy="668.7" r="0.4"/>
<circle cx="85.6" cy="661.2" r="0.4"/>
<circle cx="105.4" cy="668.6" r="0.4"/>
<circle cx="121.8" cy="661.7" r="0.4"/>
<circle cx="90.8" cy="663.0" r="0.4"/>
<circle cx="83.6" cy="675.0" r="0.4"/>
<circle cx="89.4" cy="672.6" r="0.4"/>
<circle cx="103.2" cy="650.3" r="0.4"/>
<circle cx="92.5" cy="669.5" r="0.4"/>
<circle cx="108.6" cy="672.9" r="0.4"/>
<circle cx="94.3" cy="667.2" r="0.4"/>
<circle cx="82.4" cy="681.6" r="0.4"/>
<circle cx="103.0" cy="662.2" r="0.4"/>
<circle cx="84.9" cy="667.3" r="0.4"/>
<circle cx="82.5" cy="669.7" r="0.4"/>
<circle cx="90.4" cy="652.6" r="0.4"/>
<circle cx="94.5" cy="653.2" r="0.4"/>
<circle cx="87.2" cy="677.4" r="0.4"/>
<circle cx="82.8" cy="676.9" r="0.4"/>
<circle cx="80.9" cy="672.2" r="0.4"/>
<circle cx="90.3" cy="664.4" r="0.4"/>
<circle cx="82.9" cy="667.7" r="0.4"/>
<circle cx="107.5" cy="655.1" r="0.4"/>
<circle cx="91.4" cy="670.2" r="0.4"/>
<circle cx="88.7" cy="652.6" r="0.4"/>
<circle cx="85.3" cy="653.4" r="0.4"/>
<circle cx="81.5" cy="660.6" r="0.4"/>
<circle cx="88.3" cy="687.6" r="0.4"/>
<circle cx="85.0" cy="664.7" r="0.4"/>
<circle cx="91.0" cy="666.9" r="0.4"/>
<circle cx="90.8" cy="654.9" r="0.4"/>
<circle cx="94.0" cy="665.1" r="0.4"/>
<circle cx="78.3" cy="678.3" r="0.4"/>
<circle cx="81.8" cy="671.4" r="0.4"/>
<circle cx="89.7" cy="663.3" r="0.4"/>
<circle cx="84.0" cy="672.8" r="0.4"/>
<circle cx="82.6" cy="658.7" r="0.4"/>
<circle cx="88.9" cy="673.4" r="0.4"/>
<circle cx="82.8" cy="669.8" r="0.4"/>
<circle cx="80.7" cy="680.8" r="0.4"/>
<circle cx="93.6" cy="671.0" r="0.4"/>
<circle cx="101.3" cy="667.3" r="0.4"/>
<circle cx="103.2" cy="663.9" r="0.4"/>
<circle cx="106.1" cy="668.2" r="0.4"/>
<circle cx="81.3" cy="674.4" r="0.4"/>
<circle cx="99.4" cy="666.3" r="0.4"/>
<circle cx="80.6" cy="664.8" r="0.4"/>
<circle cx="99.3" cy="678.1" r="0.4"/>
<circle cx="79.8" cy="664.3" r="0.4"/>
<circle cx="83.5" cy="679.8" r="0.4"/>
<circle cx="85.1" cy="653.3" r="0.4"/>
<circle cx="78.1" cy="677.1" r="0.4"/>
<circle cx="105.6" cy="664.2" r="0.4"/>
<circle cx="112.1" cy="663.9" r="0.4"/>
<circle cx="95.8" cy="669.6" r="0.4"/>
<circle cx="82.4" cy="657.9" r="0.4"/>
<circle cx="81.4" cy="676.7" r="0.4"/>
<circle cx="99.6" cy="671.7" r="0.4"/>
<circle cx="108.4" cy="649.8" r="0.4"/>
<circle cx="107.9" cy="644.3" r="0.4"/>
<circle cx="78.2" cy="667.8" r="0.4"/>
<circle cx="92.1" cy="660.1" r="0.4"/>
<circle cx="84.9" cy="676.5" r="0.4"/>
<circle cx="81.8" cy="662.7" r="0.4"/>
<circle cx="86.4" cy="668.7" r="0.4"/>
<circle cx="87.9" cy="657.5" r="0.4"/>
<circle cx="80.4" cy="671.5" r="0.4"/>
<circle cx="100.5" cy="651.6" r="0.4"/>
<circle cx="90.9" cy="668.0" r="0.4"/>
<circle cx="82.1" cy="665.2" r="0.4"/>
<circle cx="85.1" cy="655.2" r="0.4"/>
<circle cx="78.7" cy="670.2" r="0.4"/>
<circle cx="79.7" cy="685.8" r="0.4"/>
<circle cx="79.2" cy="676.2" r="0.4"/>
<circle cx="82.9" cy="663.8" r="0.4"/>
<circle cx="89.5" cy="672.5" r="0.4"/>
<circle cx="80.8" cy="665.5" r="0.4"/>
<circle cx="94.4" cy="668.6" r="0.4"/>
<circle cx="79.1" cy="670.9" r="0.4"/>
<circle cx="97.8" cy="671.1" r="0.4"/>
</g>
<line x1="38.90" y1="624.70" x2="40.90" y2="624.70" stroke="#444" stroke-width="0.7"/>
<line x1="38.90" y1="643.50" x2="40.90" y2="643.50" stroke="#444" stroke-width="0.7"/>
<line x1="38.90" y1="662.60" x2="40.90" y2="662.60" stroke="#444" stroke-width="0.7"/>
<line x1="38.90" y1="683.00" x2="40.90" y2="683.00" stroke="#444" stroke-width="0.7"/>
<circle cx="38.90" cy="673.20" r="0.9" fill="#000" stroke="none" stroke-width="1"/>
<line x1="44.90" y1="692.20" x2="44.90" y2="693.20" stroke="#555" stroke-width="0.5"/>
<line x1="48.68" y1="692.20" x2="48.68" y2="693.20" stroke="#555" stroke-width="0.5"/>
<line x1="52.46" y1="692.20" x2="52.46" y2="693.20" stroke="#555" stroke-width="0.5"/>
<line x1="56.24" y1="692.20" x2="56.24" y2="694.00" stroke="#555" stroke-width="0.5"/>
<line x1="60.02" y1="692.20" x2="60.02" y2="693.20" stroke="#555" stroke-width="0.5"/>
<line x1="63.80" y1="692.20" x2="63.80" y2="693.20" stroke="#555" stroke-width="0.5"/>
<line x1="67.59" y1="692.20" x2="67.59" y2="693.20" stroke="#555" stroke-width="0.5"/>
<line x1="71.37" y1="692.20" x2="71.37" y2="693.20" stroke="#555" stroke-width="0.5"/>
<line x1="75.15" y1="692.20" x2="75.15" y2="693.20" stroke="#555" stroke-width="0.5"/>
<line x1="78.93" y1="692.20" x2="78.93" y2="693.20" stroke="#555" stroke-width="0.5"/>
<line x1="82.71" y1="692.20" x2="82.71" y2="694.00" stroke="#555" stroke-width="0.5"/>
<line x1="86.49" y1="692.20" x2="86.49" y2="693.20" stroke="#555" stroke-width="0.5"/>
<line x1="90.27" y1="692.20" x2="90.27" y2="693.20" stroke="#555" stroke-width="0.5"/>
<line x1="94.05" y1="692.20" x2="94.05" y2="693.20" stroke="#555" stroke-width="0.5"/>
<line x1="97.83" y1="692.20" x2="97.83" y2="693.20" stroke="#555" stroke-width="0.5"/>
<line x1="101.61" y1="692.20" x2="101.61" y2="693.20" stroke="#555" stroke-width="0.5"/>
<line x1="105.40" y1="692.20" x2="105.40" y2="693.20" stroke="#555" stroke-width="0.5"/>
<line x1="109.18" y1="692.20" x2="109.18" y2="694.00" stroke="#555" stroke-width="0.5"/>
<line x1="112.96" y1="692.20" x2="112.96" y2="693.20" stroke="#555" stroke-width="0.5"/>
<line x1="116.74" y1="692.20" x2="116.74" y2="693.20" stroke="#555" stroke-width="0.5"/>
<line x1="120.52" y1="692.20" x2="120.52" y2="693.20" stroke="#555" stroke-width="0.5"/>
<line x1="124.30" y1="692.20" x2="124.30" y2="693.20" stroke="#555" stroke-width="0.5"/>
<text x="121.30" y="687.00" font-size="11.4" text-anchor="end" fill="#000">15.3</text>
<rect x="132.70" y="604.70" width="87.40" height="87.50" fill="#fff" stroke="#555" stroke-width="0.8"/>
<line x1="168.00" y1="605.20" x2="168.00" y2="691.70" stroke="#9cd4de" stroke-width="0.9"/>
<line x1="133.20" y1="661.90" x2="219.60" y2="661.90" stroke="#9cd4de" stroke-width="0.9"/>
<path d="M157.95,672.77 L157.45,672.90 L156.95,672.94 L156.45,672.89 L155.95,672.78 L155.68,672.70 L155.20,672.48 L154.95,672.29 L154.70,671.96 L154.64,671.70 L154.70,671.39 L154.95,671.04 L155.20,670.84 L155.45,670.69 L155.95,670.48 L156.20,670.41 L156.70,670.31 L157.20,670.29 L157.70,670.36 L157.98,670.45 L158.40,670.70 L158.64,670.95 L158.78,671.20 L158.85,671.70 L158.70,672.16 L158.47,672.45 L158.20,672.65 L157.95,672.77 M158.45,674.47 L157.95,674.57 L157.45,674.62 L156.95,674.63 L156.45,674.61 L155.95,674.55 L155.45,674.48 L155.20,674.43 L154.70,674.31 L154.35,674.20 L153.95,674.04 L153.70,673.92 L153.37,673.70 L153.08,673.45 L152.86,673.20 L152.69,672.95 L152.47,672.45 L152.41,672.20 L152.37,671.70 L152.42,671.20 L152.49,670.95 L152.70,670.48 L152.89,670.20 L153.11,669.95 L153.38,669.70 L153.70,669.48 L153.95,669.34 L154.24,669.20 L154.70,669.02 L154.95,668.94 L155.45,668.81 L155.95,668.71 L156.20,668.66 L156.70,668.60 L157.20,668.58 L157.70,668.60 L158.20,668.68 L158.45,668.74 L158.95,668.90 L159.20,669.02 L159.52,669.20 L159.87,669.45 L160.14,669.70 L160.36,669.95 L160.54,670.20 L160.70,670.50 L160.87,670.95 L160.95,671.45 L160.93,671.95 L160.80,672.45 L160.70,672.70 L160.45,673.13 L160.20,673.44 L159.95,673.68 L159.70,673.88 L159.45,674.05 L159.17,674.20 L158.70,674.39 L158.45,674.47 M158.70,675.51 L158.20,675.61 L157.70,675.66 L157.20,675.68 L156.70,675.67 L156.20,675.63 L155.70,675.57 L155.20,675.49 L154.95,675.45 L154.45,675.34 L153.98,675.20 L153.70,675.10 L153.36,674.95 L152.95,674.72 L152.70,674.55 L152.45,674.34 L152.20,674.08 L151.95,673.76 L151.76,673.45 L151.63,673.20 L151.46,672.70 L151.39,672.45 L151.33,671.95 L151.33,671.45 L151.41,670.95 L151.47,670.70 L151.66,670.20 L151.79,669.95 L151.95,669.69 L152.20,669.36 L152.45,669.10 L152.70,668.88 L152.95,668.70 L153.36,668.45 L153.70,668.28 L153.95,668.17 L154.45,668.00 L154.70,667.92 L155.20,667.79 L155.66,667.70 L155.95,667.65 L156.45,667.58 L156.95,667.54 L157.45,667.54 L157.95,667.57 L158.45,667.64 L158.71,667.70 L159.20,667.84 L159.49,667.95 L159.95,668.16 L160.20,668.30 L160.45,668.47 L160.76,668.70 L161.04,668.95 L161.27,669.20 L161.48,669.45 L161.70,669.78 L161.92,670.20 L162.03,670.45 L162.17,670.95 L162.21,671.20 L162.23,671.70 L162.20,672.03 L162.12,672.45 L161.95,672.93 L161.82,673.20 L161.68,673.45 L161.45,673.78 L161.20,674.08 L160.95,674.33 L160.70,674.55 L160.45,674.73 L160.11,674.95 L159.70,675.16 L159.45,675.27 L158.95,675.44 L158.70,675.51 M157.95,676.47 L157.45,676.50 L156.95,676.50 L156.45,676.47 L156.18,676.45 L155.70,676.40 L155.20,676.33 L154.70,676.23 L154.45,676.18 L153.95,676.05 L153.64,675.95 L153.20,675.78 L152.95,675.66 L152.58,675.45 L152.22,675.20 L151.95,674.98 L151.70,674.72 L151.47,674.45 L151.29,674.20 L151.14,673.95 L150.95,673.57 L150.80,673.20 L150.70,672.84 L150.62,672.45 L150.56,671.95 L150.57,671.45 L150.63,670.95 L150.70,670.63 L150.82,670.20 L150.95,669.89 L151.17,669.45 L151.33,669.20 L151.51,668.95 L151.72,668.70 L151.97,668.45 L152.26,668.20 L152.60,667.95 L152.95,667.74 L153.20,667.61 L153.56,667.45 L153.95,667.30 L154.26,667.20 L154.70,667.07 L155.20,666.95 L155.45,666.90 L155.95,666.81 L156.45,666.75 L156.95,666.72 L157.45,666.71 L157.95,666.73 L158.45,666.79 L158.95,666.89 L159.20,666.95 L159.70,667.11 L159.95,667.21 L160.45,667.44 L160.70,667.58 L160.95,667.74 L161.25,667.95 L161.57,668.20 L161.84,668.45 L162.08,668.70 L162.29,668.95 L162.49,669.20 L162.70,669.52 L162.95,669.95 L163.08,670.20 L163.20,670.52 L163.33,670.95 L163.40,671.45 L163.37,671.95 L163.26,672.45 L163.17,672.70 L162.95,673.20 L162.82,673.45 L162.67,673.70 L162.45,674.03 L162.20,674.35 L161.95,674.63 L161.70,674.87 L161.45,675.09 L161.20,675.29 L160.95,675.46 L160.56,675.70 L160.20,675.88 L159.95,675.99 L159.45,676.18 L159.20,676.25 L158.70,676.37 L158.20,676.45 L157.95,676.47 M169.70,672.76 L169.20,672.89 L168.70,672.93 L168.20,672.87 L167.70,672.70 L167.45,672.57 L167.20,672.39 L166.95,672.14 L166.71,671.70 L166.67,671.45 L166.70,671.17 L166.92,670.70 L167.15,670.45 L167.45,670.23 L167.70,670.10 L168.14,669.95 L168.45,669.89 L168.95,669.88 L169.41,669.95 L169.70,670.04 L170.02,670.20 L170.35,670.45 L170.56,670.70 L170.70,670.97 L170.78,671.45 L170.70,671.81 L170.48,672.20 L170.23,672.45 L169.95,672.64 L169.70,672.76 M157.45,677.21 L156.95,677.20 L156.70,677.19 L156.20,677.16 L155.70,677.11 L155.20,677.03 L154.75,676.95 L154.45,676.89 L153.95,676.77 L153.70,676.70 L153.20,676.53 L152.95,676.42 L152.50,676.20 L152.20,676.02 L151.95,675.85 L151.70,675.65 L151.45,675.42 L151.20,675.16 L150.95,674.86 L150.70,674.49 L150.53,674.20 L150.41,673.95 L150.21,673.45 L150.13,673.20 L150.02,672.70 L149.95,672.20 L149.94,671.95 L149.94,671.45 L149.96,671.20 L150.03,670.70 L150.15,670.20 L150.23,669.95 L150.44,669.45 L150.56,669.20 L150.71,668.95 L150.95,668.59 L151.20,668.28 L151.45,668.01 L151.70,667.78 L151.95,667.58 L152.20,667.40 L152.51,667.20 L152.95,666.97 L153.20,666.85 L153.57,666.70 L153.95,666.56 L154.33,666.45 L154.70,666.35 L155.20,666.24 L155.45,666.19 L155.95,666.10 L156.45,666.04 L156.95,666.01 L157.45,666.00 L157.95,666.02 L158.45,666.06 L158.95,666.15 L159.20,666.21 L159.70,666.34 L160.01,666.45 L160.45,666.62 L160.70,666.74 L161.10,666.95 L161.45,667.16 L161.70,667.33 L161.95,667.52 L162.20,667.72 L162.45,667.95 L162.72,668.20 L162.96,668.45 L163.20,668.71 L163.45,668.99 L163.70,669.27 L163.95,669.53 L164.20,669.75 L164.57,669.95 L164.95,670.00 L165.20,669.94 L165.70,669.70 L165.95,669.57 L166.20,669.43 L166.67,669.20 L166.95,669.08 L167.34,668.95 L167.70,668.85 L168.20,668.76 L168.70,668.73 L169.20,668.75 L169.70,668.82 L170.16,668.95 L170.45,669.05 L170.76,669.20 L171.17,669.45 L171.45,669.67 L171.70,669.92 L171.91,670.20 L172.06,670.45 L172.20,670.83 L172.27,671.20 L172.25,671.70 L172.20,671.95 L171.99,672.45 L171.83,672.70 L171.62,672.95 L171.35,673.20 L171.01,673.45 L170.70,673.63 L170.45,673.74 L169.95,673.92 L169.70,673.98 L169.20,674.05 L168.70,674.07 L168.20,674.04 L167.70,673.95 L167.45,673.89 L166.95,673.73 L166.70,673.63 L166.31,673.45 L165.95,673.27 L165.70,673.14 L165.21,672.95 L164.95,672.91 L164.70,672.95 L164.29,673.20 L164.03,673.45 L163.81,673.70 L163.61,673.95 L163.40,674.20 L163.19,674.45 L162.95,674.72 L162.70,674.99 L162.45,675.24 L162.20,675.47 L161.92,675.70 L161.58,675.95 L161.20,676.19 L160.95,676.33 L160.70,676.46 L160.20,676.68 L159.95,676.78 L159.45,676.93 L159.20,677.00 L158.70,677.10 L158.20,677.16 L157.70,677.20 L157.45,677.21 M158.70,677.74 L158.20,677.80 L157.70,677.84 L157.20,677.84 L156.70,677.83 L156.20,677.79 L155.70,677.73 L155.45,677.69 L154.95,677.62 L154.45,677.52 L154.15,677.45 L153.70,677.34 L153.28,677.20 L152.95,677.08 L152.65,676.95 L152.20,676.72 L151.95,676.57 L151.70,676.40 L151.44,676.20 L151.15,675.95 L150.90,675.70 L150.68,675.45 L150.45,675.15 L150.20,674.76 L150.02,674.45 L149.90,674.20 L149.71,673.70 L149.62,673.45 L149.50,672.95 L149.45,672.64 L149.39,672.20 L149.37,671.70 L149.40,671.20 L149.45,670.81 L149.51,670.45 L149.64,669.95 L149.72,669.70 L149.93,669.20 L150.05,668.95 L150.20,668.69 L150.45,668.30 L150.70,667.97 L150.94,667.70 L151.19,667.45 L151.45,667.22 L151.70,667.02 L151.95,666.84 L152.20,666.68 L152.62,666.45 L152.95,666.29 L153.20,666.19 L153.70,666.00 L153.95,665.92 L154.45,665.77 L154.75,665.70 L155.20,665.60 L155.70,665.51 L156.14,665.45 L156.45,665.41 L156.95,665.38 L157.45,665.37 L157.95,665.38 L158.45,665.43 L158.70,665.46 L159.20,665.55 L159.70,665.67 L159.95,665.75 L160.45,665.92 L160.70,666.02 L161.09,666.20 L161.45,666.39 L161.70,666.53 L161.96,666.70 L162.32,666.95 L162.65,667.20 L162.95,667.45 L163.20,667.66 L163.45,667.87 L163.70,668.08 L163.95,668.28 L164.21,668.45 L164.70,668.65 L165.20,668.68 L165.70,668.58 L166.14,668.45 L166.45,668.35 L166.95,668.20 L167.20,668.14 L167.70,668.03 L168.20,667.97 L168.66,667.95 L168.82,667.95 L169.20,667.96 L169.70,668.02 L170.20,668.12 L170.47,668.20 L170.95,668.37 L171.20,668.48 L171.60,668.70 L171.95,668.93 L172.20,669.12 L172.45,669.35 L172.70,669.63 L172.93,669.95 L173.08,670.20 L173.20,670.51 L173.31,670.95 L173.33,671.45 L173.25,671.95 L173.18,672.20 L172.96,672.70 L172.81,672.95 L172.63,673.20 L172.40,673.45 L172.14,673.70 L171.82,673.95 L171.45,674.18 L171.20,674.31 L170.89,674.45 L170.45,674.61 L170.09,674.70 L169.70,674.78 L169.20,674.84 L168.70,674.86 L168.20,674.83 L167.70,674.77 L167.35,674.70 L166.95,674.61 L166.45,674.47 L166.20,674.40 L165.70,674.28 L165.20,674.22 L164.70,674.32 L164.43,674.45 L164.08,674.70 L163.79,674.95 L163.52,675.20 L163.26,675.45 L162.98,675.70 L162.70,675.94 L162.45,676.15 L162.20,676.33 L161.95,676.51 L161.64,676.70 L161.20,676.94 L160.95,677.07 L160.64,677.20 L160.20,677.37 L159.95,677.45 L159.45,677.60 L158.95,677.70 L158.70,677.74 M159.20,678.24 L158.70,678.32 L158.20,678.38 L157.70,678.41 L157.20,678.41 L156.70,678.39 L156.20,678.36 L155.70,678.30 L155.20,678.23 L154.95,678.19 L154.45,678.10 L153.95,677.98 L153.70,677.91 L153.20,677.76 L152.95,677.67 L152.45,677.46 L152.20,677.34 L151.95,677.20 L151.55,676.95 L151.21,676.70 L150.95,676.48 L150.70,676.25 L150.45,675.98 L150.22,675.70 L150.03,675.45 L149.86,675.20 L149.70,674.92 L149.46,674.45 L149.35,674.20 L149.20,673.77 L149.10,673.45 L148.99,672.95 L148.95,672.70 L148.89,672.20 L148.87,671.70 L148.89,671.20 L148.95,670.73 L148.99,670.45 L149.11,669.95 L149.20,669.66 L149.36,669.20 L149.48,668.95 L149.70,668.51 L149.88,668.20 L150.05,667.95 L150.24,667.70 L150.45,667.45 L150.70,667.18 L150.95,666.94 L151.23,666.70 L151.56,666.45 L151.94,666.20 L152.20,666.05 L152.45,665.92 L152.93,665.70 L153.20,665.58 L153.58,665.45 L153.95,665.33 L154.42,665.20 L154.70,665.13 L155.20,665.02 L155.62,664.95 L155.95,664.90 L156.45,664.84 L156.95,664.80 L157.45,664.79 L157.95,664.81 L158.45,664.85 L158.95,664.92 L159.20,664.96 L159.70,665.07 L160.14,665.20 L160.45,665.29 L160.85,665.45 L161.20,665.59 L161.45,665.72 L161.89,665.95 L162.20,666.13 L162.45,666.29 L162.70,666.46 L163.03,666.70 L163.36,666.95 L163.70,667.20 L163.95,667.38 L164.20,667.53 L164.56,667.70 L164.95,667.80 L165.45,667.81 L165.95,667.74 L166.20,667.69 L166.70,667.57 L167.20,667.47 L167.45,667.42 L167.95,667.35 L168.45,667.31 L168.95,667.31 L169.45,667.34 L169.95,667.41 L170.20,667.46 L170.70,667.58 L171.05,667.70 L171.45,667.85 L171.70,667.97 L172.13,668.20 L172.45,668.40 L172.70,668.58 L172.95,668.78 L173.20,669.00 L173.45,669.25 L173.70,669.54 L173.95,669.92 L174.09,670.20 L174.20,670.60 L174.25,670.95 L174.22,671.45 L174.18,671.70 L174.06,672.20 L173.95,672.47 L173.72,672.95 L173.57,673.20 L173.40,673.45 L173.19,673.70 L172.95,673.95 L172.66,674.20 L172.33,674.45 L171.95,674.69 L171.70,674.82 L171.42,674.95 L170.95,675.14 L170.70,675.21 L170.20,675.34 L169.70,675.43 L169.45,675.45 L168.95,675.49 L168.45,675.49 L167.97,675.45 L167.70,675.42 L167.20,675.35 L166.70,675.25 L166.45,675.20 L165.95,675.12 L165.45,675.08 L164.95,675.16 L164.70,675.25 L164.34,675.45 L163.99,675.70 L163.70,675.93 L163.45,676.14 L163.20,676.35 L162.95,676.54 L162.70,676.72 L162.37,676.95 L161.97,677.20 L161.70,677.36 L161.45,677.48 L160.97,677.70 L160.70,677.82 L160.30,677.95 L159.95,678.06 L159.45,678.19 L159.20,678.24 M159.45,678.73 L158.95,678.82 L158.45,678.89 L157.95,678.92 L157.45,678.94 L156.95,678.93 L156.45,678.90 L155.95,678.86 L155.45,678.80 L154.95,678.71 L154.70,678.67 L154.20,678.57 L153.74,678.45 L153.45,678.38 L152.95,678.21 L152.70,678.12 L152.31,677.95 L151.95,677.78 L151.70,677.64 L151.41,677.45 L151.05,677.20 L150.74,676.95 L150.47,676.70 L150.22,676.45 L150.00,676.20 L149.80,675.95 L149.62,675.70 L149.45,675.43 L149.20,674.99 L149.05,674.70 L148.95,674.45 L148.76,673.95 L148.69,673.70 L148.55,673.20 L148.47,672.70 L148.44,672.45 L148.41,671.95 L148.41,671.45 L148.45,670.95 L148.47,670.70 L148.56,670.20 L148.69,669.70 L148.76,669.45 L148.95,668.97 L149.06,668.70 L149.20,668.43 L149.45,667.99 L149.63,667.70 L149.81,667.45 L150.02,667.20 L150.24,666.95 L150.48,666.70 L150.75,666.45 L151.06,666.20 L151.40,665.95 L151.70,665.75 L151.95,665.60 L152.25,665.45 L152.70,665.24 L152.95,665.13 L153.45,664.95 L153.70,664.86 L154.20,664.72 L154.45,664.65 L154.95,664.53 L155.42,664.45 L155.70,664.40 L156.20,664.33 L156.70,664.29 L157.20,664.27 L157.70,664.27 L158.20,664.29 L158.70,664.34 L159.20,664.42 L159.45,664.47 L159.95,664.58 L160.35,664.70 L160.70,664.81 L161.06,664.95 L161.45,665.11 L161.70,665.23 L162.13,665.45 L162.45,665.63 L162.70,665.78 L162.95,665.95 L163.32,666.20 L163.68,666.45 L163.95,666.62 L164.20,666.77 L164.55,666.95 L164.95,667.08 L165.45,667.13 L165.95,667.09 L166.45,667.02 L166.86,666.95 L167.20,666.89 L167.70,666.82 L168.20,666.77 L168.70,666.76 L169.20,666.77 L169.70,666.81 L170.20,666.89 L170.47,666.95 L170.95,667.07 L171.34,667.20 L171.70,667.33 L171.96,667.45 L172.45,667.70 L172.70,667.83 L172.95,667.99 L173.26,668.20 L173.60,668.45 L173.92,668.70 L174.20,668.94 L174.45,669.16 L174.70,669.42 L174.93,669.70 L175.09,669.95 L175.20,670.33 L175.23,670.70 L175.20,670.95 L175.09,671.45 L174.95,671.87 L174.84,672.20 L174.70,672.53 L174.51,672.95 L174.37,673.20 L174.20,673.46 L173.95,673.81 L173.70,674.10 L173.45,674.35 L173.20,674.56 L172.95,674.76 L172.67,674.95 L172.24,675.20 L171.95,675.35 L171.70,675.46 L171.20,675.65 L170.95,675.73 L170.45,675.86 L169.95,675.95 L169.70,675.98 L169.20,676.03 L168.70,676.04 L168.20,676.03 L167.70,675.99 L167.42,675.95 L166.95,675.89 L166.45,675.82 L165.95,675.77 L165.45,675.78 L164.95,675.90 L164.70,676.02 L164.38,676.20 L164.02,676.45 L163.70,676.69 L163.45,676.88 L163.20,677.07 L162.95,677.24 L162.63,677.45 L162.21,677.70 L161.95,677.85 L161.70,677.97 L161.20,678.19 L160.95,678.30 L160.50,678.45 L160.20,678.55 L159.70,678.68 L159.45,678.73 M159.45,679.24 L158.95,679.33 L158.45,679.38 L157.95,679.42 L157.45,679.43 L156.95,679.42 L156.45,679.40 L155.95,679.35 L155.45,679.29 L154.95,679.20 L154.70,679.16 L154.20,679.06 L153.76,678.95 L153.45,678.87 L152.95,678.71 L152.70,678.63 L152.28,678.45 L151.95,678.30 L151.70,678.17 L151.33,677.95 L150.96,677.70 L150.70,677.51 L150.45,677.31 L150.20,677.08 L149.95,676.82 L149.70,676.54 L149.45,676.22 L149.25,675.95 L149.09,675.70 L148.94,675.45 L148.70,674.98 L148.57,674.70 L148.45,674.39 L148.29,673.95 L148.20,673.59 L148.10,673.20 L148.02,672.70 L147.97,672.20 L147.96,671.70 L147.97,671.20 L148.02,670.70 L148.10,670.20 L148.20,669.80 L148.29,669.45 L148.45,669.01 L148.56,668.70 L148.70,668.42 L148.95,667.95 L149.09,667.70 L149.25,667.45 L149.45,667.18 L149.70,666.86 L149.95,666.58 L150.20,666.33 L150.45,666.09 L150.70,665.88 L150.95,665.70 L151.30,665.45 L151.70,665.21 L151.95,665.06 L152.20,664.94 L152.70,664.72 L152.95,664.61 L153.42,664.45 L153.70,664.35 L154.20,664.21 L154.45,664.15 L154.95,664.03 L155.44,663.95 L155.70,663.90 L156.20,663.84 L156.70,663.79 L157.20,663.77 L157.70,663.77 L158.20,663.80 L158.70,663.84 L159.20,663.92 L159.45,663.96 L159.95,664.07 L160.42,664.20 L160.70,664.28 L161.17,664.45 L161.45,664.56 L161.77,664.70 L162.20,664.91 L162.45,665.04 L162.73,665.20 L163.14,665.45 L163.45,665.64 L163.70,665.80 L163.95,665.97 L164.36,666.20 L164.70,666.36 L164.95,666.45 L165.45,666.53 L165.95,666.53 L166.45,666.48 L166.70,666.45 L167.20,666.38 L167.70,666.32 L168.20,666.28 L168.70,666.27 L169.20,666.28 L169.70,666.32 L170.20,666.39 L170.51,666.45 L170.95,666.54 L171.45,666.70 L171.70,666.78 L172.11,666.95 L172.45,667.10 L172.70,667.23 L173.11,667.45 L173.45,667.65 L173.70,667.81 L173.95,667.97 L174.31,668.20 L174.70,668.45 L174.95,668.60 L175.20,668.76 L175.53,668.95 L175.92,669.20 L176.20,669.42 L176.45,669.70 L176.57,669.95 L176.56,670.45 L176.45,670.70 L176.20,671.13 L176.01,671.45 L175.86,671.70 L175.70,671.98 L175.46,672.45 L175.34,672.70 L175.20,672.96 L174.95,673.41 L174.77,673.70 L174.59,673.95 L174.38,674.20 L174.15,674.45 L173.90,674.70 L173.60,674.95 L173.27,675.20 L172.95,675.41 L172.70,675.56 L172.42,675.70 L171.95,675.92 L171.70,676.02 L171.20,676.18 L170.95,676.25 L170.45,676.37 L169.95,676.45 L169.70,676.48 L169.20,676.52 L168.70,676.54 L168.20,676.52 L167.70,676.49 L167.35,676.45 L166.95,676.41 L166.45,676.37 L165.95,676.35 L165.45,676.40 L165.20,676.47 L164.70,676.69 L164.45,676.84 L164.20,677.01 L163.92,677.20 L163.57,677.45 L163.20,677.70 L162.95,677.86 L162.70,678.02 L162.37,678.20 L161.95,678.42 L161.70,678.54 L161.30,678.70 L160.95,678.84 L160.59,678.95 L160.20,679.07 L159.70,679.19 L159.45,679.24 M159.45,679.71 L158.95,679.80 L158.45,679.85 L157.95,679.88 L157.45,679.89 L156.95,679.89 L156.45,679.86 L155.95,679.82 L155.45,679.75 L155.15,679.70 L154.70,679.63 L154.20,679.53 L153.89,679.45 L153.45,679.34 L153.01,679.20 L152.70,679.10 L152.33,678.95 L151.95,678.79 L151.70,678.67 L151.31,678.45 L150.95,678.23 L150.70,678.06 L150.45,677.87 L150.20,677.66 L149.95,677.43 L149.70,677.18 L149.45,676.90 L149.20,676.60 L148.95,676.26 L148.75,675.95 L148.59,675.70 L148.45,675.42 L148.22,674.95 L148.11,674.70 L147.95,674.25 L147.85,673.95 L147.72,673.45 L147.67,673.20 L147.59,672.70 L147.54,672.20 L147.52,671.70 L147.54,671.20 L147.58,670.70 L147.66,670.20 L147.72,669.95 L147.84,669.45 L147.95,669.12 L148.10,668.70 L148.21,668.45 L148.45,667.96 L148.58,667.70 L148.74,667.45 L148.95,667.13 L149.20,666.79 L149.45,666.49 L149.70,666.21 L149.95,665.96 L150.20,665.73 L150.45,665.52 L150.70,665.32 L150.95,665.15 L151.26,664.95 L151.69,664.70 L151.95,664.56 L152.20,664.44 L152.70,664.23 L152.95,664.13 L153.45,663.96 L153.70,663.87 L154.20,663.74 L154.45,663.68 L154.95,663.56 L155.45,663.48 L155.70,663.44 L156.20,663.37 L156.70,663.33 L157.20,663.31 L157.70,663.31 L158.20,663.33 L158.70,663.38 L159.20,663.45 L159.45,663.49 L159.95,663.58 L160.38,663.70 L160.70,663.78 L161.18,663.95 L161.45,664.04 L161.82,664.20 L162.20,664.37 L162.45,664.49 L162.83,664.70 L163.20,664.91 L163.45,665.05 L163.70,665.21 L164.09,665.45 L164.45,665.65 L164.70,665.77 L165.20,665.95 L165.45,665.99 L165.95,666.02 L166.45,665.99 L166.90,665.95 L167.20,665.91 L167.70,665.86 L168.20,665.83 L168.70,665.82 L169.20,665.83 L169.70,665.86 L170.20,665.93 L170.45,665.97 L170.95,666.07 L171.40,666.20 L171.70,666.29 L172.13,666.45 L172.45,666.57 L172.71,666.70 L173.20,666.95 L173.45,667.08 L173.70,667.22 L174.10,667.45 L174.45,667.65 L174.70,667.79 L175.01,667.95 L175.45,668.15 L175.70,668.26 L176.17,668.45 L176.45,668.56 L176.75,668.70 L177.19,668.95 L177.45,669.15 L177.70,669.43 L177.85,669.70 L177.90,670.20 L177.70,670.70 L177.52,670.95 L177.29,671.20 L177.04,671.45 L176.78,671.70 L176.55,671.95 L176.35,672.20 L176.17,672.45 L175.95,672.81 L175.72,673.20 L175.58,673.45 L175.42,673.70 L175.20,674.02 L174.95,674.35 L174.70,674.63 L174.45,674.89 L174.20,675.11 L173.95,675.32 L173.70,675.50 L173.40,675.70 L172.98,675.95 L172.70,676.10 L172.45,676.21 L171.95,676.42 L171.70,676.51 L171.20,676.66 L170.95,676.72 L170.45,676.83 L169.95,676.91 L169.45,676.95 L169.20,676.97 L168.70,676.98 L168.20,676.97 L167.83,676.95 L167.45,676.93 L166.95,676.89 L166.45,676.87 L165.95,676.88 L165.52,676.95 L165.20,677.06 L164.89,677.20 L164.46,677.45 L164.20,677.63 L163.95,677.80 L163.70,677.96 L163.33,678.20 L162.95,678.43 L162.70,678.57 L162.45,678.70 L161.95,678.94 L161.70,679.06 L161.32,679.20 L160.95,679.34 L160.56,679.45 L160.20,679.56 L159.70,679.67 L159.45,679.71" fill="none" stroke="#6e6e6e" stroke-width="0.3"/>
<g fill="#555">
<circle cx="175.5" cy="673.8" r="0.4"/>
<circle cx="172.9" cy="672.4" r="0.4"/>
<circle cx="204.5" cy="668.7" r="0.4"/>
<circle cx="182.0" cy="654.6" r="0.4"/>
<circle cx="174.5" cy="671.1" r="0.4"/>
<circle cx="195.0" cy="662.9" r="0.4"/>
<circle cx="193.0" cy="664.3" r="0.4"/>
<circle cx="189.1" cy="667.5" r="0.4"/>
<circle cx="199.6" cy="668.4" r="0.4"/>
<circle cx="181.2" cy="672.6" r="0.4"/>
<circle cx="180.3" cy="679.6" r="0.4"/>
<circle cx="182.3" cy="675.9" r="0.4"/>
<circle cx="203.1" cy="642.2" r="0.4"/>
<circle cx="181.2" cy="659.5" r="0.4"/>
<circle cx="183.9" cy="662.3" r="0.4"/>
<circle cx="193.8" cy="669.4" r="0.4"/>
<circle cx="172.6" cy="663.6" r="0.4"/>
<circle cx="180.3" cy="662.4" r="0.4"/>
<circle cx="185.0" cy="673.7" r="0.4"/>
<circle cx="177.7" cy="666.4" r="0.4"/>
<circle cx="202.5" cy="660.0" r="0.4"/>
<circle cx="172.8" cy="669.5" r="0.4"/>
<circle cx="175.5" cy="680.1" r="0.4"/>
<circle cx="174.5" cy="665.1" r="0.4"/>
</g>
<line x1="130.70" y1="624.70" x2="132.70" y2="624.70" stroke="#444" stroke-width="0.7"/>
<line x1="130.70" y1="643.50" x2="132.70" y2="643.50" stroke="#444" stroke-width="0.7"/>
<line x1="130.70" y1="662.60" x2="132.70" y2="662.60" stroke="#444" stroke-width="0.7"/>
<line x1="130.70" y1="683.00" x2="132.70" y2="683.00" stroke="#444" stroke-width="0.7"/>
<circle cx="130.70" cy="673.20" r="0.9" fill="#000" stroke="none" stroke-width="1"/>
<line x1="136.70" y1="692.20" x2="136.70" y2="693.20" stroke="#555" stroke-width="0.5"/>
<line x1="140.48" y1="692.20" x2="140.48" y2="693.20" stroke="#555" stroke-width="0.5"/>
<line x1="144.26" y1="692.20" x2="144.26" y2="693.20" stroke="#555" stroke-width="0.5"/>
<line x1="148.04" y1="692.20" x2="148.04" y2="694.00" stroke="#555" stroke-width="0.5"/>
<line x1="151.82" y1="692.20" x2="151.82" y2="693.20" stroke="#555" stroke-width="0.5"/>
<line x1="155.60" y1="692.20" x2="155.60" y2="693.20" stroke="#555" stroke-width="0.5"/>
<line x1="159.39" y1="692.20" x2="159.39" y2="693.20" stroke="#555" stroke-width="0.5"/>
<line x1="163.17" y1="692.20" x2="163.17" y2="693.20" stroke="#555" stroke-width="0.5"/>
<line x1="166.95" y1="692.20" x2="166.95" y2="693.20" stroke="#555" stroke-width="0.5"/>
<line x1="170.73" y1="692.20" x2="170.73" y2="693.20" stroke="#555" stroke-width="0.5"/>
<line x1="174.51" y1="692.20" x2="174.51" y2="694.00" stroke="#555" stroke-width="0.5"/>
<line x1="178.29" y1="692.20" x2="178.29" y2="693.20" stroke="#555" stroke-width="0.5"/>
<line x1="182.07" y1="692.20" x2="182.07" y2="693.20" stroke="#555" stroke-width="0.5"/>
<line x1="185.85" y1="692.20" x2="185.85" y2="693.20" stroke="#555" stroke-width="0.5"/>
<line x1="189.63" y1="692.20" x2="189.63" y2="693.20" stroke="#555" stroke-width="0.5"/>
<line x1="193.41" y1="692.20" x2="193.41" y2="693.20" stroke="#555" stroke-width="0.5"/>
<line x1="197.20" y1="692.20" x2="197.20" y2="693.20" stroke="#555" stroke-width="0.5"/>
<line x1="200.98" y1="692.20" x2="200.98" y2="694.00" stroke="#555" stroke-width="0.5"/>
<line x1="204.76" y1="692.20" x2="204.76" y2="693.20" stroke="#555" stroke-width="0.5"/>
<line x1="208.54" y1="692.20" x2="208.54" y2="693.20" stroke="#555" stroke-width="0.5"/>
<line x1="212.32" y1="692.20" x2="212.32" y2="693.20" stroke="#555" stroke-width="0.5"/>
<line x1="216.10" y1="692.20" x2="216.10" y2="693.20" stroke="#555" stroke-width="0.5"/>
<text x="213.10" y="687.00" font-size="11.4" text-anchor="end" fill="#000">20.8</text>
<text x="55.50" y="601.80" font-size="11.4" text-anchor="start" fill="#000" font-style="italic">Trmt61a</text>
<text x="98.81" y="597.47" font-size="8.55" text-anchor="start" fill="#000" font-style="italic" textLength="11.40" lengthAdjust="spacingAndGlyphs">fl/fl</text>
<text x="145.50" y="601.80" font-size="11.5" text-anchor="start" fill="#000" font-style="italic">Trmt61a</text>
<text x="189.19" y="597.43" font-size="8.625" text-anchor="start" fill="#000" font-style="italic" textLength="24.72" lengthAdjust="spacingAndGlyphs">ΔRorc</text>
<text x="34.50" y="675.00" font-size="11.4" text-anchor="middle" fill="#000" transform="rotate(-90 34.5 675)">7-AAD</text>
<line x1="30.30" y1="655.00" x2="30.30" y2="606.00" stroke="#000" stroke-width="1.1"/>
<path d="M26.6,611.5 L30.3,605.3 L34.0,611.5" fill="none" stroke="#000" stroke-width="1.1"/>
<text x="40.00" y="704.20" font-size="11.6" text-anchor="start" fill="#000">AnnexinV</text>
<line x1="104.00" y1="700.40" x2="218.00" y2="700.40" stroke="#000" stroke-width="1.1"/>
<path d="M212.0,696.7 L218.6,700.4 L212.0,704.1" fill="none" stroke="#000" stroke-width="1.1"/>
<text x="236.00" y="604.80" font-size="17.5" text-anchor="start" fill="#000" font-weight="bold">i</text>
<rect x="298.30" y="653.96" width="15.80" height="37.64" fill="#f0c6aa" stroke="#222" stroke-width="1"/>
<line x1="306.20" y1="648.21" x2="306.20" y2="659.71" stroke="#222" stroke-width="1"/>
<line x1="303.20" y1="648.21" x2="309.20" y2="648.21" stroke="#222" stroke-width="1"/>
<line x1="303.20" y1="659.71" x2="309.20" y2="659.71" stroke="#222" stroke-width="1"/>
<rect x="322.70" y="633.27" width="15.80" height="58.33" fill="#92dcda" stroke="#222" stroke-width="1"/>
<line x1="330.60" y1="627.52" x2="330.60" y2="639.02" stroke="#222" stroke-width="1"/>
<line x1="327.60" y1="627.52" x2="333.60" y2="627.52" stroke="#222" stroke-width="1"/>
<line x1="327.60" y1="639.02" x2="333.60" y2="639.02" stroke="#222" stroke-width="1"/>
<circle cx="306.10" cy="636.00" r="2" fill="#fff" stroke="#111" stroke-width="1"/>
<circle cx="302.90" cy="646.20" r="2" fill="#fff" stroke="#111" stroke-width="1"/>
<circle cx="309.70" cy="647.80" r="2" fill="#fff" stroke="#111" stroke-width="1"/>
<circle cx="306.10" cy="654.20" r="2" fill="#fff" stroke="#111" stroke-width="1"/>
<circle cx="306.10" cy="670.70" r="2" fill="#fff" stroke="#111" stroke-width="1"/>
<circle cx="306.10" cy="673.80" r="2" fill="#fff" stroke="#111" stroke-width="1"/>
<circle cx="327.20" cy="619.20" r="2" fill="#fff" stroke="#111" stroke-width="1"/>
<circle cx="334.30" cy="616.20" r="2" fill="#fff" stroke="#111" stroke-width="1"/>
<circle cx="327.20" cy="631.50" r="2" fill="#fff" stroke="#111" stroke-width="1"/>
<circle cx="334.30" cy="631.50" r="2" fill="#fff" stroke="#111" stroke-width="1"/>
<circle cx="330.80" cy="645.00" r="2" fill="#fff" stroke="#111" stroke-width="1"/>
<circle cx="330.80" cy="656.10" r="2" fill="#fff" stroke="#111" stroke-width="1"/>
<line x1="290.30" y1="605.00" x2="290.30" y2="692.10" stroke="#555" stroke-width="1.1"/>
<line x1="289.80" y1="691.60" x2="347.20" y2="691.60" stroke="#555" stroke-width="1.1"/>
<line x1="287.30" y1="605.40" x2="290.30" y2="605.40" stroke="#555" stroke-width="1"/>
<text x="286.50" y="609.60" font-size="12.2" text-anchor="end" fill="#000">30</text>
<line x1="287.30" y1="648.50" x2="290.30" y2="648.50" stroke="#555" stroke-width="1"/>
<text x="286.50" y="652.70" font-size="12.2" text-anchor="end" fill="#000">15</text>
<line x1="287.30" y1="691.60" x2="290.30" y2="691.60" stroke="#555" stroke-width="1"/>
<text x="286.50" y="695.80" font-size="12.2" text-anchor="end" fill="#000">0</text>
<line x1="318.30" y1="691.60" x2="318.30" y2="694.60" stroke="#333" stroke-width="1"/>
<line x1="306.00" y1="605.40" x2="330.60" y2="605.40" stroke="#111" stroke-width="1.1"/>
<line x1="318.30" y1="597.50" x2="318.30" y2="602.50" stroke="#111" stroke-width="1.25"/>
<line x1="316.13" y1="598.75" x2="320.47" y2="601.25" stroke="#111" stroke-width="1.25"/>
<line x1="316.13" y1="601.25" x2="320.47" y2="598.75" stroke="#111" stroke-width="1.25"/>
<text x="266.60" y="645.50" font-size="11.3" text-anchor="middle" fill="#000" transform="rotate(-90 266.6 645.5)">% of early apoptotic ILC3</text>
<rect x="350.40" y="605.50" width="4.60" height="4.60" fill="#f0c6aa" stroke="#333" stroke-width="0.6"/>
<rect x="350.40" y="623.80" width="4.60" height="4.60" fill="#92dcda" stroke="#333" stroke-width="0.6"/>
<text x="363.20" y="611.70" font-size="11.4" text-anchor="start" fill="#000" font-style="italic">Trmt61a</text>
<text x="406.51" y="607.37" font-size="8.55" text-anchor="start" fill="#000" font-style="italic" textLength="11.40" lengthAdjust="spacingAndGlyphs">fl/fl</text>
<text x="363.20" y="630.00" font-size="11.4" text-anchor="start" fill="#000" font-style="italic">Trmt61a</text>
<text x="406.51" y="625.67" font-size="8.55" text-anchor="start" fill="#000" font-style="italic" textLength="24.51" lengthAdjust="spacingAndGlyphs">ΔRorc</text></svg></body></html>
